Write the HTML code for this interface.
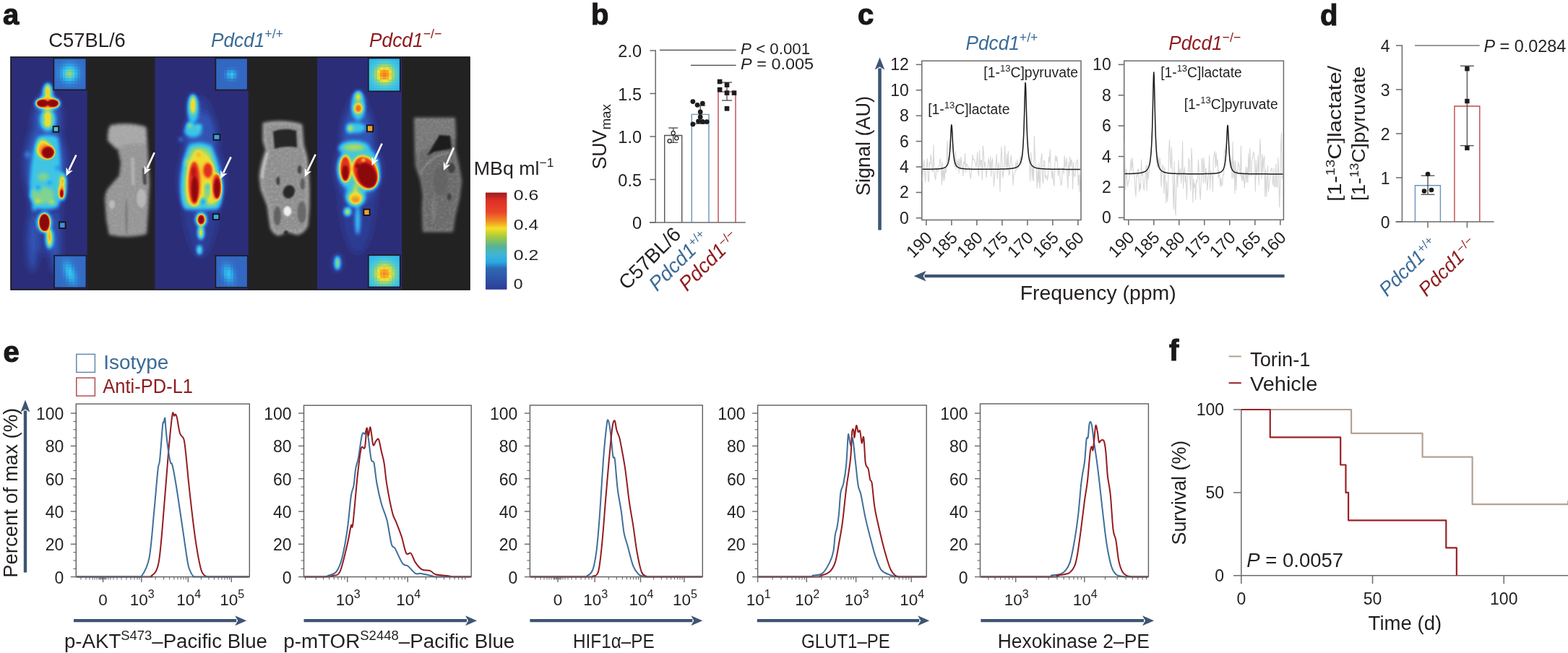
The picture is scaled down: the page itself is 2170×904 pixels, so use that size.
<!DOCTYPE html>
<html><head><meta charset="utf-8"><title>Figure</title>
<style>html,body{margin:0;padding:0;background:#fff;overflow:hidden;width:2170px;height:904px;} svg{display:block;}</style>
</head><body>
<svg width="2170" height="904" viewBox="0 0 2170 904" font-family="'Liberation Sans', Arial, sans-serif">
<rect x="0" y="0" width="2170" height="904" fill="#ffffff"/>
<text x="4" y="34" font-size="40" text-anchor="start" fill="#1a1718" font-weight="bold" stroke="#1a1718" stroke-width="1.1">a</text>
<text x="67.3" y="64.8" font-size="27.5" text-anchor="start" fill="#231f20"  textLength="106.4" lengthAdjust="spacingAndGlyphs">C57BL/6</text>
<text x="292" y="64.5" font-size="28" text-anchor="start" fill="#3b6b97" font-style="italic" textLength="100" lengthAdjust="spacingAndGlyphs">Pdcd1<tspan font-size="19" dy="-12" font-style="normal">+/+</tspan></text>
<text x="511" y="64.5" font-size="28" text-anchor="start" fill="#8e1a1d" font-style="italic" textLength="100.5" lengthAdjust="spacingAndGlyphs">Pdcd1<tspan font-size="19" dy="-12" font-style="normal">−/−</tspan></text>
<defs>
<filter id="bl3" x="-20%" y="-20%" width="140%" height="140%"><feGaussianBlur stdDeviation="2.6"/></filter>
<filter id="bl2" x="-20%" y="-20%" width="140%" height="140%"><feGaussianBlur stdDeviation="1.6"/></filter>
<filter id="bl5" x="-30%" y="-30%" width="160%" height="160%"><feGaussianBlur stdDeviation="5"/></filter>
<filter id="blm" x="-20%" y="-20%" width="140%" height="140%"><feGaussianBlur stdDeviation="2.1"/></filter>
<filter id="jet" x="0" y="0" width="100%" height="100%" color-interpolation-filters="sRGB"><feComponentTransfer><feFuncR type="table" tableValues="0.173 0.174 0.175 0.176 0.181 0.188 0.194 0.198 0.200 0.202 0.200 0.192 0.183 0.179 0.193 0.206 0.220 0.267 0.315 0.363 0.426 0.494 0.561 0.654 0.765 0.875 0.944 0.950 0.956 0.960 0.953 0.947 0.941 0.923 0.904 0.886 0.817 0.735 0.663 0.604 0.545"/><feFuncG type="table" tableValues="0.180 0.200 0.220 0.239 0.271 0.305 0.339 0.379 0.422 0.464 0.510 0.559 0.608 0.654 0.690 0.725 0.761 0.774 0.788 0.801 0.814 0.826 0.838 0.853 0.869 0.885 0.866 0.795 0.724 0.652 0.578 0.505 0.431 0.346 0.260 0.174 0.131 0.098 0.072 0.056 0.039"/><feFuncB type="table" tableValues="0.471 0.507 0.544 0.581 0.623 0.665 0.708 0.744 0.775 0.805 0.832 0.854 0.876 0.897 0.909 0.921 0.933 0.868 0.803 0.738 0.662 0.582 0.502 0.419 0.333 0.248 0.191 0.179 0.167 0.156 0.150 0.143 0.137 0.134 0.130 0.126 0.110 0.090 0.073 0.060 0.047"/></feComponentTransfer></filter>
<filter id="bl1" x="-20%" y="-20%" width="140%" height="140%"><feGaussianBlur stdDeviation="0.9"/></filter>
<clipPath id="cp1"><rect x="15" y="79" width="105.5" height="322"/></clipPath>
<clipPath id="cm1"><rect x="120.5" y="79" width="94" height="322"/></clipPath>
<clipPath id="cp2"><rect x="214.5" y="79" width="129.1" height="322"/></clipPath>
<clipPath id="cm2"><rect x="343.6" y="79" width="95.4" height="322"/></clipPath>
<clipPath id="cp3"><rect x="439" y="79" width="117" height="322"/></clipPath>
<clipPath id="cm3"><rect x="556" y="79" width="94" height="322"/></clipPath>
<linearGradient id="cbar" x1="0" y1="0" x2="0" y2="1">
<stop offset="0" stop-color="#9b1b1e"/><stop offset="0.08" stop-color="#df2f27"/><stop offset="0.2" stop-color="#e8452a"/>
<stop offset="0.29" stop-color="#f08a25"/><stop offset="0.37" stop-color="#f6e024"/><stop offset="0.45" stop-color="#a9cb3b"/>
<stop offset="0.55" stop-color="#5ab48f"/><stop offset="0.64" stop-color="#3fb5d6"/><stop offset="0.72" stop-color="#2aa8e3"/>
<stop offset="0.78" stop-color="#2f69b3"/><stop offset="1" stop-color="#2e3d99"/>
</linearGradient>
<filter id="tex" x="0" y="0" width="100%" height="100%"><feTurbulence type="fractalNoise" baseFrequency="0.28" numOctaves="2" seed="5" result="n"/><feColorMatrix in="n" type="matrix" values="0 0 0 0 1  0 0 0 0 1  0 0 0 0 1  2.2 0 0 0 -0.9" result="c"/><feComposite in="c" in2="SourceGraphic" operator="in"/></filter>
<clipPath id="mb1"><path d="M151,172 Q176,166 203,170 L205,210 L205,300 Q205,322 200,328 L152,328 Q146,322 147,300 L146,262 Q148,244 164,232 L166,222 Q154,205 151,172 Z"/></clipPath>
<clipPath id="mb2"><path d="M366,172 Q394,162 420,172 L425,215 Q429,250 426,290 L424,318 Q415,326 405,322 L395,324 Q380,326 370,318 L364,290 Q360,250 363,215 Z"/></clipPath>
<clipPath id="mb3"><path d="M577,165 Q605,160 632,167 L633,200 Q640,230 636,260 L632,300 L627,320 L590,322 L587,290 Q580,260 578,230 Q572,200 577,165 Z"/></clipPath>
</defs>
<rect x="15" y="79" width="635" height="322" fill="#232223" stroke="none" stroke-width="1.3" />
<rect x="15" y="79" width="105.5" height="322" fill="#2c2e78" stroke="none" stroke-width="1.3" />
<rect x="214.5" y="79" width="129.1" height="322" fill="#2c2e78" stroke="none" stroke-width="1.3" />
<rect x="439" y="79" width="117" height="322" fill="#2c2e78" stroke="none" stroke-width="1.3" />
<g clip-path="url(#cp1)"><g filter="url(#jet)"><rect x="15" y="79" width="105.5" height="322" fill="#000"/><g filter="url(#bl5)">
<ellipse cx="63" cy="240" rx="26" ry="115" fill="#1a1a1a" opacity="0.7"/>
<ellipse cx="45" cy="335" rx="8" ry="42" fill="#292929" opacity="0.9"/>
<ellipse cx="77" cy="338" rx="8" ry="42" fill="#292929" opacity="0.9"/>
<ellipse cx="63" cy="230" rx="30" ry="60" fill="#292929" opacity="0.9"/>
<ellipse cx="66" cy="165" rx="20" ry="35" fill="#292929" opacity="0.9"/>
</g><g filter="url(#bl3)">
<ellipse cx="66" cy="132" rx="8" ry="17" fill="#6b6b6b" opacity="1"/>
<ellipse cx="66" cy="166" rx="11" ry="16" fill="#6b6b6b" opacity="1"/>
<path d="M52,190 Q66,184 80,190 Q84,215 84,245 Q85,275 80,287 Q63,292 46,287 Q40,270 42,245 Q44,212 52,190 Z" fill="#6b6b6b"/>
<ellipse cx="86" cy="258" rx="6" ry="20" fill="#6b6b6b" opacity="1"/>
<ellipse cx="61.3" cy="307.7" rx="10" ry="14" fill="#6b6b6b" opacity="1"/>
<ellipse cx="68.5" cy="330" rx="5" ry="15" fill="#6b6b6b" opacity="1"/>
<ellipse cx="47.4" cy="288.4" rx="3.2" ry="3.2" fill="#6b6b6b" opacity="1"/>
<ellipse cx="38" cy="214" rx="4" ry="4" fill="#454545" opacity="1"/>
<ellipse cx="58" cy="270" rx="17" ry="12" fill="#878787" opacity="1"/>
<ellipse cx="52" cy="279" rx="4" ry="3" fill="#a6a6a6" opacity="1"/>
<ellipse cx="72" cy="280" rx="3.5" ry="3" fill="#a6a6a6" opacity="1"/>
<ellipse cx="60" cy="245" rx="8" ry="6" fill="#878787" opacity="1"/>
<ellipse cx="52.9" cy="260.5" rx="3.5" ry="3.5" fill="#333333" opacity="1"/>
<ellipse cx="68.3" cy="252.7" rx="3" ry="3" fill="#3d3d3d" opacity="1"/>
<ellipse cx="79.2" cy="232.6" rx="3" ry="3" fill="#333333" opacity="1"/>
<ellipse cx="66" cy="124" rx="4" ry="9" fill="#adadad" opacity="1"/>
<ellipse cx="66" cy="130" rx="2.2" ry="5" fill="#c2c2c2" opacity="1"/>
<ellipse cx="66" cy="165" rx="8" ry="12" fill="#878787" opacity="1"/>
<ellipse cx="66" cy="160" rx="4.5" ry="6" fill="#adadad" opacity="1"/>
<ellipse cx="66" cy="171" rx="5" ry="5" fill="#adadad" opacity="1"/>
<ellipse cx="59" cy="205" rx="9" ry="12" fill="#a6a6a6" opacity="1"/>
<ellipse cx="63" cy="209" rx="10" ry="10" fill="#c2c2c2" opacity="1"/>
<ellipse cx="86.5" cy="258" rx="3.8" ry="17" fill="#a6a6a6" opacity="1"/>
<ellipse cx="85.5" cy="266" rx="3" ry="9" fill="#dedede" opacity="1"/>
<ellipse cx="88" cy="250" rx="2" ry="4" fill="#dedede" opacity="1"/>
<ellipse cx="61.5" cy="308" rx="9" ry="13.5" fill="#a6a6a6" opacity="1"/>
<ellipse cx="68.5" cy="330" rx="4" ry="12" fill="#b8b8b8" opacity="1"/>
<ellipse cx="67.5" cy="325" rx="2.6" ry="7" fill="#cccccc" opacity="1"/>
<ellipse cx="66" cy="143" rx="17" ry="8" fill="#c2c2c2" opacity="1"/>
</g><g filter="url(#bl1)">
<ellipse cx="66.4" cy="211" rx="9.5" ry="9" fill="#dedede" opacity="1"/>
<ellipse cx="58.5" cy="143" rx="8" ry="5.5" fill="#ffffff" opacity="1"/>
<ellipse cx="73.5" cy="143" rx="8" ry="5.5" fill="#ffffff" opacity="1"/>
<ellipse cx="66.4" cy="211.5" rx="7.8" ry="7.5" fill="#ffffff" opacity="1"/>
<ellipse cx="85.4" cy="268.2" rx="2.4" ry="6" fill="#ffffff" opacity="1"/>
<ellipse cx="61.5" cy="308" rx="7.5" ry="12.3" fill="#ffffff" opacity="1"/>
</g>
</g></g>
<g clip-path="url(#cm1)"><g filter="url(#blm)">
<path d="M153,173 Q177,168 201,175 Q204,178 203,181 L205,215 L207,255 L205,294 L203,324 Q176,331 151,325 L147,304 L145,275 Q146,264 151,259 L165,243 L167,225 L163,207 L149,195 Q148,180 153,173 Z" fill="#969696"/>
<path d="M151,176 Q177,169 201,177 L203,200 Q180,196 160,206 L150,195 Z" fill="#a8a8a8" opacity="0.9"/>
</g>
<path d="M153,173 Q177,168 201,175 Q204,178 203,181 L205,215 L207,255 L205,294 L203,324 Q176,331 151,325 L147,304 L145,275 Q146,264 151,259 L165,243 L167,225 L163,207 L149,195 Q148,180 153,173 Z" fill="#fff" filter="url(#tex)" opacity="0.10"/>
<g filter="url(#bl1)">
<ellipse cx="195.7" cy="274.5" rx="6.5" ry="13" fill="#b8b8b8" opacity="0.95"/>
<ellipse cx="155" cy="283" rx="4" ry="6" fill="#c0c0c0" opacity="0.9"/>
<path d="M181,218 L186,218 L187,256 L182,256 Z" fill="#b5b5b5" opacity="0.8"/>
<path d="M197,233 L202,232 L203,256 L198,255 Z" fill="#3a3a3a" opacity="0.8"/>
<ellipse cx="175" cy="300" rx="2" ry="25" fill="#6e6e6e" opacity="0.6"/>
</g></g>
<g clip-path="url(#cm2)"><g filter="url(#blm)">
<path d="M365,171 Q391,166 417,173 L419,200 L424,218 L426,240 L427,260 L427,285 L425,312 Q420,322 412,324 L398,320 L385,325 Q377,322 375,314 L371,285 L362,262 L360,244 Q362,225 369,208 L365,195 Z" fill="#8e8e8e" stroke="#c4c4c4" stroke-width="2.2"/>
</g>
<path d="M365,171 Q391,166 417,173 L419,200 L424,218 L426,240 L427,260 L427,285 L425,312 Q420,322 412,324 L398,320 L385,325 Q377,322 375,314 L371,285 L362,262 L360,244 Q362,225 369,208 L365,195 Z" fill="#fff" filter="url(#tex)" opacity="0.16"/>
<g filter="url(#bl1)">
<path d="M378,182 Q394,176 410,181 L411,204 Q394,201 380,206 Z" fill="#262626"/>
<path d="M361,245 Q363,228 369,210 L372,212 Q366,230 365,248 Z" fill="#c8c8c8" opacity="0.8"/>
<ellipse cx="399.8" cy="265.5" rx="8" ry="9.5" fill="#252525" opacity="0.95" transform="rotate(25 399.8 265.5)"/>
<ellipse cx="384.8" cy="250.6" rx="2.5" ry="6" fill="#333" opacity="0.9"/>
<ellipse cx="414.7" cy="234.7" rx="3" ry="6" fill="#3a3a3a" opacity="0.85"/>
<ellipse cx="418.7" cy="254.6" rx="3" ry="8" fill="#505050" opacity="0.8"/>
<ellipse cx="397.8" cy="292.4" rx="5.5" ry="7" fill="#f0f0f0" opacity="1"/>
<ellipse cx="383.8" cy="299" rx="5" ry="13" fill="#5a5a5a" opacity="0.85"/>
<ellipse cx="417.7" cy="294" rx="6" ry="15" fill="#606060" opacity="0.85"/>
<ellipse cx="395.8" cy="322" rx="3" ry="3" fill="#222" opacity="0.9"/>
</g></g>
<g clip-path="url(#cp2)"><g filter="url(#jet)"><rect x="214.5" y="79" width="129.1" height="322" fill="#000"/><g filter="url(#bl5)">
<ellipse cx="278" cy="245" rx="28" ry="112" fill="#1a1a1a" opacity="0.6"/>
<ellipse cx="278" cy="190" rx="22" ry="36" fill="#292929" opacity="0.8"/>
<ellipse cx="279" cy="248" rx="32" ry="48" fill="#292929" opacity="0.85"/>
</g><g filter="url(#bl3)">
<ellipse cx="267" cy="150" rx="8" ry="20" fill="#6b6b6b" opacity="1"/>
<ellipse cx="267" cy="181" rx="12" ry="9" fill="#6b6b6b" opacity="1"/>
<ellipse cx="250" cy="193" rx="3" ry="3" fill="#4c4c4c" opacity="1"/>
<path d="M262,200 Q277,194 293,202 Q305,230 308,262 Q308,288 300,290 L256,290 Q248,282 250,250 Q253,215 262,200 Z" fill="#6b6b6b"/>
<path d="M265,206 Q277,200 290,208 Q301,232 303,262 Q303,283 296,285 L260,285 Q254,278 255,250 Q258,220 265,206 Z" fill="#919191"/>
<path d="M267,214 Q277,208 288,216 Q298,236 300,262 Q300,280 294,281 L263,281 Q258,276 259,250 Q261,226 267,214 Z" fill="#a6a6a6"/>
<ellipse cx="278.4" cy="303.9" rx="8" ry="10" fill="#6b6b6b" opacity="1"/>
<ellipse cx="278" cy="322" rx="4" ry="10" fill="#6b6b6b" opacity="1"/>
<ellipse cx="276" cy="346" rx="3" ry="7" fill="#6b6b6b" opacity="1"/>
<ellipse cx="267" cy="145" rx="4.2" ry="13" fill="#adadad" opacity="1"/>
<ellipse cx="262" cy="173" rx="4" ry="3" fill="#a6a6a6" opacity="1"/>
<ellipse cx="275" cy="175" rx="4" ry="3" fill="#8a8a8a" opacity="1"/>
<ellipse cx="274.5" cy="212.5" rx="3" ry="3" fill="#c2c2c2" opacity="1"/>
<ellipse cx="269" cy="255" rx="8.5" ry="31" fill="#c2c2c2" opacity="1"/>
<ellipse cx="287.7" cy="236" rx="7" ry="11" fill="#c2c2c2" opacity="1"/>
<ellipse cx="300" cy="259" rx="7" ry="18" fill="#c2c2c2" opacity="1"/>
<ellipse cx="287" cy="266" rx="5" ry="9" fill="#878787" opacity="1"/>
<ellipse cx="281" cy="279" rx="4.5" ry="5" fill="#383838" opacity="1"/>
<ellipse cx="287.7" cy="258" rx="4" ry="4" fill="#6b6b6b" opacity="1"/>
<ellipse cx="259" cy="225" rx="4" ry="6" fill="#949494" opacity="1"/>
<ellipse cx="278.4" cy="303.9" rx="6.5" ry="8.5" fill="#a6a6a6" opacity="1"/>
<ellipse cx="278" cy="322" rx="3.6" ry="9" fill="#b8b8b8" opacity="1"/>
<ellipse cx="276" cy="346" rx="2.8" ry="6" fill="#a8a8a8" opacity="1"/>
</g><g filter="url(#bl2)">
<ellipse cx="268.8" cy="253" rx="7.5" ry="29" fill="#dedede" opacity="1"/>
<ellipse cx="287.7" cy="236" rx="6" ry="10" fill="#dedede" opacity="1"/>
<ellipse cx="300.3" cy="258" rx="5.8" ry="17" fill="#dedede" opacity="1"/>
<ellipse cx="269.5" cy="262" rx="4.5" ry="18" fill="#ffffff" opacity="1"/>
<ellipse cx="268" cy="238" rx="3.5" ry="7" fill="#ededed" opacity="1"/>
<ellipse cx="300.5" cy="261" rx="4.3" ry="14" fill="#ffffff" opacity="1"/>
<ellipse cx="278.4" cy="304" rx="5" ry="7" fill="#ffffff" opacity="1"/>
</g></g></g>
<g clip-path="url(#cp3)"><g filter="url(#jet)"><rect x="439" y="79" width="117" height="322" fill="#000"/><g filter="url(#bl5)">
<ellipse cx="495" cy="240" rx="28" ry="112" fill="#1a1a1a" opacity="0.6"/>
<ellipse cx="495" cy="185" rx="22" ry="36" fill="#292929" opacity="0.8"/>
<ellipse cx="496" cy="235" rx="32" ry="44" fill="#292929" opacity="0.85"/>
<ellipse cx="467" cy="364" rx="6" ry="12" fill="#292929" opacity="0.8"/>
</g><g filter="url(#bl3)">
<ellipse cx="495.8" cy="146" rx="9.5" ry="21" fill="#6b6b6b" opacity="1"/>
<ellipse cx="493" cy="177" rx="13" ry="7" fill="#6b6b6b" opacity="1"/>
<ellipse cx="490" cy="205" rx="22" ry="10" fill="#6b6b6b" opacity="1"/>
<ellipse cx="496" cy="234" rx="29" ry="33" fill="#6b6b6b" opacity="1"/>
<ellipse cx="492" cy="272" rx="14" ry="15" fill="#6b6b6b" opacity="1"/>
<ellipse cx="481" cy="293" rx="5" ry="6" fill="#6b6b6b" opacity="1"/>
<ellipse cx="495" cy="305" rx="3.5" ry="20" fill="#6b6b6b" opacity="1"/>
<ellipse cx="467" cy="364" rx="3.5" ry="10" fill="#6b6b6b" opacity="1"/>
<ellipse cx="490" cy="204" rx="15" ry="5" fill="#949494" opacity="1"/>
<ellipse cx="495.8" cy="134" rx="3.6" ry="6" fill="#adadad" opacity="1"/>
<ellipse cx="495.8" cy="150" rx="6.5" ry="7.5" fill="#a6a6a6" opacity="1"/>
<ellipse cx="495.8" cy="150" rx="5" ry="6" fill="#c2c2c2" opacity="1"/>
<ellipse cx="483.9" cy="177.7" rx="4" ry="6" fill="#a6a6a6" opacity="1"/>
<ellipse cx="477.9" cy="233.5" rx="9" ry="19" fill="#a6a6a6" opacity="1"/>
<ellipse cx="506" cy="239" rx="18" ry="25" fill="#a6a6a6" opacity="1" transform="rotate(-22 506 239)"/>
<ellipse cx="492" cy="274" rx="10" ry="9" fill="#a6a6a6" opacity="1"/>
<ellipse cx="492" cy="262" rx="2.5" ry="8" fill="#a6a6a6" opacity="1"/>
<ellipse cx="492" cy="277" rx="7" ry="5" fill="#c2c2c2" opacity="1"/>
<ellipse cx="480.9" cy="293.2" rx="4" ry="5" fill="#b2b2b2" opacity="1"/>
<ellipse cx="467" cy="364" rx="2.8" ry="9" fill="#adadad" opacity="1"/>
</g><g filter="url(#bl2)">
<ellipse cx="495.8" cy="150" rx="3.5" ry="4.5" fill="#cccccc" opacity="1"/>
<ellipse cx="477.9" cy="233.5" rx="7" ry="17" fill="#dedede" opacity="1"/>
<ellipse cx="506" cy="239" rx="16" ry="23" fill="#dedede" opacity="1" transform="rotate(-22 506 239)"/>
<ellipse cx="477.9" cy="240" rx="4.5" ry="11" fill="#ffffff" opacity="1"/>
<ellipse cx="508" cy="243" rx="12.5" ry="18" fill="#ffffff" opacity="1" transform="rotate(-22 508 243)"/>
<ellipse cx="494.8" cy="229.5" rx="3" ry="3" fill="#ffffff" opacity="1"/>
<ellipse cx="502.8" cy="221.6" rx="2.5" ry="2.5" fill="#a6a6a6" opacity="1"/>
</g></g></g>
<g clip-path="url(#cm3)"><g filter="url(#blm)">
<path d="M574,164 L629,164 L630,185 L629,206 L634,228 L638,250 L635,274 L629,299 L626,320 L586,320 L585,290 L586,270 L583,250 L576,230 L575,210 Z" fill="#6a6a6a" stroke="#8e8e8e" stroke-width="1.8"/>
<path d="M575,165 L629,165 L629,190 Q600,195 576,215 Z" fill="#7a7a7a" opacity="0.9"/>
</g>
<path d="M574,164 L629,164 L630,185 L629,206 L634,228 L638,250 L635,274 L629,299 L626,320 L586,320 L585,290 L586,270 L583,250 L576,230 L575,210 Z" fill="#fff" filter="url(#tex)" opacity="0.12"/>
<g filter="url(#bl1)">
<path d="M591,216 L608,187 L623,188 L625,206 L601,210 Z" fill="#1c1c1c"/>
<path d="M582,240 Q595,215 620,212" fill="none" stroke="#9a9a9a" stroke-width="2" opacity="0.7"/>
<ellipse cx="624.7" cy="232.7" rx="5" ry="7" fill="#3a3a3a" opacity="0.85"/>
<ellipse cx="621.7" cy="272.5" rx="3" ry="5" fill="#3a3a3a" opacity="0.85"/>
<ellipse cx="610" cy="250" rx="10" ry="20" fill="#5e5e5e" opacity="0.6"/>
<ellipse cx="600" cy="290" rx="3" ry="18" fill="#8a8a8a" opacity="0.5"/>
</g></g>
<rect x="74.3" y="80.5" width="4.71" height="4.59" fill="#336bc5" shape-rendering="crispEdges"/>
<rect x="74.3" y="84.49" width="4.71" height="4.59" fill="#336cc6" shape-rendering="crispEdges"/>
<rect x="74.3" y="88.48" width="4.71" height="4.59" fill="#336dc7" shape-rendering="crispEdges"/>
<rect x="74.3" y="92.47" width="4.71" height="4.59" fill="#336fc8" shape-rendering="crispEdges"/>
<rect x="74.3" y="96.46" width="4.71" height="4.59" fill="#3371c9" shape-rendering="crispEdges"/>
<rect x="74.3" y="100.45" width="4.71" height="4.59" fill="#3372ca" shape-rendering="crispEdges"/>
<rect x="74.3" y="104.45" width="4.71" height="4.59" fill="#3371c9" shape-rendering="crispEdges"/>
<rect x="74.3" y="108.44" width="4.71" height="4.59" fill="#336fc8" shape-rendering="crispEdges"/>
<rect x="74.3" y="112.43" width="4.71" height="4.59" fill="#336dc6" shape-rendering="crispEdges"/>
<rect x="74.3" y="116.42" width="4.71" height="4.59" fill="#336cc6" shape-rendering="crispEdges"/>
<rect x="74.3" y="120.41" width="4.71" height="4.59" fill="#336bc5" shape-rendering="crispEdges"/>
<rect x="78.41" y="80.5" width="4.71" height="4.59" fill="#336cc6" shape-rendering="crispEdges"/>
<rect x="78.41" y="84.49" width="4.71" height="4.59" fill="#336ec7" shape-rendering="crispEdges"/>
<rect x="78.41" y="88.48" width="4.71" height="4.59" fill="#3373ca" shape-rendering="crispEdges"/>
<rect x="78.41" y="92.47" width="4.71" height="4.59" fill="#3379cf" shape-rendering="crispEdges"/>
<rect x="78.41" y="96.46" width="4.71" height="4.59" fill="#337fd2" shape-rendering="crispEdges"/>
<rect x="78.41" y="100.45" width="4.71" height="4.59" fill="#3381d3" shape-rendering="crispEdges"/>
<rect x="78.41" y="104.45" width="4.71" height="4.59" fill="#337dd2" shape-rendering="crispEdges"/>
<rect x="78.41" y="108.44" width="4.71" height="4.59" fill="#3377ce" shape-rendering="crispEdges"/>
<rect x="78.41" y="112.43" width="4.71" height="4.59" fill="#3371ca" shape-rendering="crispEdges"/>
<rect x="78.41" y="116.42" width="4.71" height="4.59" fill="#336ec7" shape-rendering="crispEdges"/>
<rect x="78.41" y="120.41" width="4.71" height="4.59" fill="#336cc6" shape-rendering="crispEdges"/>
<rect x="82.52" y="80.5" width="4.71" height="4.59" fill="#336ec7" shape-rendering="crispEdges"/>
<rect x="82.52" y="84.49" width="4.71" height="4.59" fill="#3373ca" shape-rendering="crispEdges"/>
<rect x="82.52" y="88.48" width="4.71" height="4.59" fill="#337dd2" shape-rendering="crispEdges"/>
<rect x="82.52" y="92.47" width="4.71" height="4.59" fill="#318ed9" shape-rendering="crispEdges"/>
<rect x="82.52" y="96.46" width="4.71" height="4.59" fill="#2e9de0" shape-rendering="crispEdges"/>
<rect x="82.52" y="100.45" width="4.71" height="4.59" fill="#2da2e3" shape-rendering="crispEdges"/>
<rect x="82.52" y="104.45" width="4.71" height="4.59" fill="#2e9adf" shape-rendering="crispEdges"/>
<rect x="82.52" y="108.44" width="4.71" height="4.59" fill="#318ad7" shape-rendering="crispEdges"/>
<rect x="82.52" y="112.43" width="4.71" height="4.59" fill="#337ad0" shape-rendering="crispEdges"/>
<rect x="82.52" y="116.42" width="4.71" height="4.59" fill="#3371c9" shape-rendering="crispEdges"/>
<rect x="82.52" y="120.41" width="4.71" height="4.59" fill="#336dc6" shape-rendering="crispEdges"/>
<rect x="86.63" y="80.5" width="4.71" height="4.59" fill="#3370c8" shape-rendering="crispEdges"/>
<rect x="86.63" y="84.49" width="4.71" height="4.59" fill="#3379cf" shape-rendering="crispEdges"/>
<rect x="86.63" y="88.48" width="4.71" height="4.59" fill="#308ed9" shape-rendering="crispEdges"/>
<rect x="86.63" y="92.47" width="4.71" height="4.59" fill="#2faae5" shape-rendering="crispEdges"/>
<rect x="86.63" y="96.46" width="4.71" height="4.59" fill="#37c0ed" shape-rendering="crispEdges"/>
<rect x="86.63" y="100.45" width="4.71" height="4.59" fill="#41c4e1" shape-rendering="crispEdges"/>
<rect x="86.63" y="104.45" width="4.71" height="4.59" fill="#36bdec" shape-rendering="crispEdges"/>
<rect x="86.63" y="108.44" width="4.71" height="4.59" fill="#2da6e4" shape-rendering="crispEdges"/>
<rect x="86.63" y="112.43" width="4.71" height="4.59" fill="#3188d7" shape-rendering="crispEdges"/>
<rect x="86.63" y="116.42" width="4.71" height="4.59" fill="#3376cd" shape-rendering="crispEdges"/>
<rect x="86.63" y="120.41" width="4.71" height="4.59" fill="#336fc8" shape-rendering="crispEdges"/>
<rect x="90.74" y="80.5" width="4.71" height="4.59" fill="#3372ca" shape-rendering="crispEdges"/>
<rect x="90.74" y="84.49" width="4.71" height="4.59" fill="#337fd3" shape-rendering="crispEdges"/>
<rect x="90.74" y="88.48" width="4.71" height="4.59" fill="#2e9de0" shape-rendering="crispEdges"/>
<rect x="90.74" y="92.47" width="4.71" height="4.59" fill="#36beec" shape-rendering="crispEdges"/>
<rect x="90.74" y="96.46" width="4.71" height="4.59" fill="#60cdb7" shape-rendering="crispEdges"/>
<rect x="90.74" y="100.45" width="4.71" height="4.59" fill="#80d391" shape-rendering="crispEdges"/>
<rect x="90.74" y="104.45" width="4.71" height="4.59" fill="#61cdb6" shape-rendering="crispEdges"/>
<rect x="90.74" y="108.44" width="4.71" height="4.59" fill="#35baeb" shape-rendering="crispEdges"/>
<rect x="90.74" y="112.43" width="4.71" height="4.59" fill="#2f95dd" shape-rendering="crispEdges"/>
<rect x="90.74" y="116.42" width="4.71" height="4.59" fill="#337bd0" shape-rendering="crispEdges"/>
<rect x="90.74" y="120.41" width="4.71" height="4.59" fill="#3370c9" shape-rendering="crispEdges"/>
<rect x="94.85" y="80.5" width="4.71" height="4.59" fill="#3372ca" shape-rendering="crispEdges"/>
<rect x="94.85" y="84.49" width="4.71" height="4.59" fill="#3381d3" shape-rendering="crispEdges"/>
<rect x="94.85" y="88.48" width="4.71" height="4.59" fill="#2da1e2" shape-rendering="crispEdges"/>
<rect x="94.85" y="92.47" width="4.71" height="4.59" fill="#3bc2e9" shape-rendering="crispEdges"/>
<rect x="94.85" y="96.46" width="4.71" height="4.59" fill="#71d0a3" shape-rendering="crispEdges"/>
<rect x="94.85" y="100.45" width="4.71" height="4.59" fill="#99d775" shape-rendering="crispEdges"/>
<rect x="94.85" y="104.45" width="4.71" height="4.59" fill="#75d19e" shape-rendering="crispEdges"/>
<rect x="94.85" y="108.44" width="4.71" height="4.59" fill="#37c0ed" shape-rendering="crispEdges"/>
<rect x="94.85" y="112.43" width="4.71" height="4.59" fill="#2f99de" shape-rendering="crispEdges"/>
<rect x="94.85" y="116.42" width="4.71" height="4.59" fill="#337cd1" shape-rendering="crispEdges"/>
<rect x="94.85" y="120.41" width="4.71" height="4.59" fill="#3370c9" shape-rendering="crispEdges"/>
<rect x="98.95" y="80.5" width="4.71" height="4.59" fill="#3371c9" shape-rendering="crispEdges"/>
<rect x="98.95" y="84.49" width="4.71" height="4.59" fill="#337dd2" shape-rendering="crispEdges"/>
<rect x="98.95" y="88.48" width="4.71" height="4.59" fill="#2f97dd" shape-rendering="crispEdges"/>
<rect x="98.95" y="92.47" width="4.71" height="4.59" fill="#33b7ea" shape-rendering="crispEdges"/>
<rect x="98.95" y="96.46" width="4.71" height="4.59" fill="#4fc8ce" shape-rendering="crispEdges"/>
<rect x="98.95" y="100.45" width="4.71" height="4.59" fill="#61cdb5" shape-rendering="crispEdges"/>
<rect x="98.95" y="104.45" width="4.71" height="4.59" fill="#4dc8d0" shape-rendering="crispEdges"/>
<rect x="98.95" y="108.44" width="4.71" height="4.59" fill="#32b2e8" shape-rendering="crispEdges"/>
<rect x="98.95" y="112.43" width="4.71" height="4.59" fill="#3090da" shape-rendering="crispEdges"/>
<rect x="98.95" y="116.42" width="4.71" height="4.59" fill="#3379cf" shape-rendering="crispEdges"/>
<rect x="98.95" y="120.41" width="4.71" height="4.59" fill="#336fc8" shape-rendering="crispEdges"/>
<rect x="103.06" y="80.5" width="4.71" height="4.59" fill="#336fc8" shape-rendering="crispEdges"/>
<rect x="103.06" y="84.49" width="4.71" height="4.59" fill="#3376cd" shape-rendering="crispEdges"/>
<rect x="103.06" y="88.48" width="4.71" height="4.59" fill="#3286d6" shape-rendering="crispEdges"/>
<rect x="103.06" y="92.47" width="4.71" height="4.59" fill="#2e9ee1" shape-rendering="crispEdges"/>
<rect x="103.06" y="96.46" width="4.71" height="4.59" fill="#31b0e8" shape-rendering="crispEdges"/>
<rect x="103.06" y="100.45" width="4.71" height="4.59" fill="#33b7ea" shape-rendering="crispEdges"/>
<rect x="103.06" y="104.45" width="4.71" height="4.59" fill="#30aee7" shape-rendering="crispEdges"/>
<rect x="103.06" y="108.44" width="4.71" height="4.59" fill="#2f99de" shape-rendering="crispEdges"/>
<rect x="103.06" y="112.43" width="4.71" height="4.59" fill="#3382d4" shape-rendering="crispEdges"/>
<rect x="103.06" y="116.42" width="4.71" height="4.59" fill="#3374cb" shape-rendering="crispEdges"/>
<rect x="103.06" y="120.41" width="4.71" height="4.59" fill="#336ec7" shape-rendering="crispEdges"/>
<rect x="107.17" y="80.5" width="4.71" height="4.59" fill="#336dc6" shape-rendering="crispEdges"/>
<rect x="107.17" y="84.49" width="4.71" height="4.59" fill="#3370c9" shape-rendering="crispEdges"/>
<rect x="107.17" y="88.48" width="4.71" height="4.59" fill="#3378ce" shape-rendering="crispEdges"/>
<rect x="107.17" y="92.47" width="4.71" height="4.59" fill="#3283d4" shape-rendering="crispEdges"/>
<rect x="107.17" y="96.46" width="4.71" height="4.59" fill="#318ed9" shape-rendering="crispEdges"/>
<rect x="107.17" y="100.45" width="4.71" height="4.59" fill="#3091db" shape-rendering="crispEdges"/>
<rect x="107.17" y="104.45" width="4.71" height="4.59" fill="#318cd8" shape-rendering="crispEdges"/>
<rect x="107.17" y="108.44" width="4.71" height="4.59" fill="#3380d3" shape-rendering="crispEdges"/>
<rect x="107.17" y="112.43" width="4.71" height="4.59" fill="#3376cd" shape-rendering="crispEdges"/>
<rect x="107.17" y="116.42" width="4.71" height="4.59" fill="#336fc8" shape-rendering="crispEdges"/>
<rect x="107.17" y="120.41" width="4.71" height="4.59" fill="#336cc6" shape-rendering="crispEdges"/>
<rect x="111.28" y="80.5" width="4.71" height="4.59" fill="#336cc5" shape-rendering="crispEdges"/>
<rect x="111.28" y="84.49" width="4.71" height="4.59" fill="#336dc6" shape-rendering="crispEdges"/>
<rect x="111.28" y="88.48" width="4.71" height="4.59" fill="#3370c8" shape-rendering="crispEdges"/>
<rect x="111.28" y="92.47" width="4.71" height="4.59" fill="#3374cb" shape-rendering="crispEdges"/>
<rect x="111.28" y="96.46" width="4.71" height="4.59" fill="#3377ce" shape-rendering="crispEdges"/>
<rect x="111.28" y="100.45" width="4.71" height="4.59" fill="#3378cf" shape-rendering="crispEdges"/>
<rect x="111.28" y="104.45" width="4.71" height="4.59" fill="#3376cd" shape-rendering="crispEdges"/>
<rect x="111.28" y="108.44" width="4.71" height="4.59" fill="#3373ca" shape-rendering="crispEdges"/>
<rect x="111.28" y="112.43" width="4.71" height="4.59" fill="#336fc8" shape-rendering="crispEdges"/>
<rect x="111.28" y="116.42" width="4.71" height="4.59" fill="#336dc6" shape-rendering="crispEdges"/>
<rect x="111.28" y="120.41" width="4.71" height="4.59" fill="#336cc5" shape-rendering="crispEdges"/>
<rect x="115.39" y="80.5" width="4.71" height="4.59" fill="#336bc5" shape-rendering="crispEdges"/>
<rect x="115.39" y="84.49" width="4.71" height="4.59" fill="#336cc5" shape-rendering="crispEdges"/>
<rect x="115.39" y="88.48" width="4.71" height="4.59" fill="#336cc6" shape-rendering="crispEdges"/>
<rect x="115.39" y="92.47" width="4.71" height="4.59" fill="#336dc7" shape-rendering="crispEdges"/>
<rect x="115.39" y="96.46" width="4.71" height="4.59" fill="#336ec7" shape-rendering="crispEdges"/>
<rect x="115.39" y="100.45" width="4.71" height="4.59" fill="#336fc8" shape-rendering="crispEdges"/>
<rect x="115.39" y="104.45" width="4.71" height="4.59" fill="#336ec7" shape-rendering="crispEdges"/>
<rect x="115.39" y="108.44" width="4.71" height="4.59" fill="#336dc7" shape-rendering="crispEdges"/>
<rect x="115.39" y="112.43" width="4.71" height="4.59" fill="#336cc6" shape-rendering="crispEdges"/>
<rect x="115.39" y="116.42" width="4.71" height="4.59" fill="#336bc5" shape-rendering="crispEdges"/>
<rect x="115.39" y="120.41" width="4.71" height="4.59" fill="#336bc5" shape-rendering="crispEdges"/>
<rect x="74.3" y="80.5" width="45.2" height="43.9" fill="none" stroke="#1d1d2a" stroke-width="1.8" />
<rect x="75.1" y="353.8" width="4.64" height="4.66" fill="#336bc5" shape-rendering="crispEdges"/>
<rect x="75.1" y="357.86" width="4.64" height="4.66" fill="#336bc5" shape-rendering="crispEdges"/>
<rect x="75.1" y="361.93" width="4.64" height="4.66" fill="#336bc5" shape-rendering="crispEdges"/>
<rect x="75.1" y="365.99" width="4.64" height="4.66" fill="#336bc5" shape-rendering="crispEdges"/>
<rect x="75.1" y="370.05" width="4.64" height="4.66" fill="#336bc5" shape-rendering="crispEdges"/>
<rect x="75.1" y="374.12" width="4.64" height="4.66" fill="#336bc5" shape-rendering="crispEdges"/>
<rect x="75.1" y="378.18" width="4.64" height="4.66" fill="#336bc5" shape-rendering="crispEdges"/>
<rect x="75.1" y="382.25" width="4.64" height="4.66" fill="#336bc5" shape-rendering="crispEdges"/>
<rect x="75.1" y="386.31" width="4.64" height="4.66" fill="#336bc5" shape-rendering="crispEdges"/>
<rect x="75.1" y="390.37" width="4.64" height="4.66" fill="#336bc5" shape-rendering="crispEdges"/>
<rect x="75.1" y="394.44" width="4.64" height="4.66" fill="#336bc5" shape-rendering="crispEdges"/>
<rect x="79.14" y="353.8" width="4.64" height="4.66" fill="#336dc6" shape-rendering="crispEdges"/>
<rect x="79.14" y="357.86" width="4.64" height="4.66" fill="#336dc7" shape-rendering="crispEdges"/>
<rect x="79.14" y="361.93" width="4.64" height="4.66" fill="#336ec7" shape-rendering="crispEdges"/>
<rect x="79.14" y="365.99" width="4.64" height="4.66" fill="#336ec7" shape-rendering="crispEdges"/>
<rect x="79.14" y="370.05" width="4.64" height="4.66" fill="#336dc6" shape-rendering="crispEdges"/>
<rect x="79.14" y="374.12" width="4.64" height="4.66" fill="#336cc6" shape-rendering="crispEdges"/>
<rect x="79.14" y="378.18" width="4.64" height="4.66" fill="#336cc5" shape-rendering="crispEdges"/>
<rect x="79.14" y="382.25" width="4.64" height="4.66" fill="#336bc5" shape-rendering="crispEdges"/>
<rect x="79.14" y="386.31" width="4.64" height="4.66" fill="#336bc5" shape-rendering="crispEdges"/>
<rect x="79.14" y="390.37" width="4.64" height="4.66" fill="#336bc5" shape-rendering="crispEdges"/>
<rect x="79.14" y="394.44" width="4.64" height="4.66" fill="#336bc5" shape-rendering="crispEdges"/>
<rect x="83.17" y="353.8" width="4.64" height="4.66" fill="#3370c9" shape-rendering="crispEdges"/>
<rect x="83.17" y="357.86" width="4.64" height="4.66" fill="#3374cb" shape-rendering="crispEdges"/>
<rect x="83.17" y="361.93" width="4.64" height="4.66" fill="#3377cd" shape-rendering="crispEdges"/>
<rect x="83.17" y="365.99" width="4.64" height="4.66" fill="#3378ce" shape-rendering="crispEdges"/>
<rect x="83.17" y="370.05" width="4.64" height="4.66" fill="#3377cd" shape-rendering="crispEdges"/>
<rect x="83.17" y="374.12" width="4.64" height="4.66" fill="#3374cb" shape-rendering="crispEdges"/>
<rect x="83.17" y="378.18" width="4.64" height="4.66" fill="#3370c9" shape-rendering="crispEdges"/>
<rect x="83.17" y="382.25" width="4.64" height="4.66" fill="#336ec7" shape-rendering="crispEdges"/>
<rect x="83.17" y="386.31" width="4.64" height="4.66" fill="#336cc6" shape-rendering="crispEdges"/>
<rect x="83.17" y="390.37" width="4.64" height="4.66" fill="#336bc5" shape-rendering="crispEdges"/>
<rect x="83.17" y="394.44" width="4.64" height="4.66" fill="#336bc5" shape-rendering="crispEdges"/>
<rect x="87.21" y="353.8" width="4.64" height="4.66" fill="#3374cb" shape-rendering="crispEdges"/>
<rect x="87.21" y="357.86" width="4.64" height="4.66" fill="#337cd1" shape-rendering="crispEdges"/>
<rect x="87.21" y="361.93" width="4.64" height="4.66" fill="#3288d7" shape-rendering="crispEdges"/>
<rect x="87.21" y="365.99" width="4.64" height="4.66" fill="#3091db" shape-rendering="crispEdges"/>
<rect x="87.21" y="370.05" width="4.64" height="4.66" fill="#2f94dc" shape-rendering="crispEdges"/>
<rect x="87.21" y="374.12" width="4.64" height="4.66" fill="#308eda" shape-rendering="crispEdges"/>
<rect x="87.21" y="378.18" width="4.64" height="4.66" fill="#3284d5" shape-rendering="crispEdges"/>
<rect x="87.21" y="382.25" width="4.64" height="4.66" fill="#3379cf" shape-rendering="crispEdges"/>
<rect x="87.21" y="386.31" width="4.64" height="4.66" fill="#3372ca" shape-rendering="crispEdges"/>
<rect x="87.21" y="390.37" width="4.64" height="4.66" fill="#336ec7" shape-rendering="crispEdges"/>
<rect x="87.21" y="394.44" width="4.64" height="4.66" fill="#336cc6" shape-rendering="crispEdges"/>
<rect x="91.25" y="353.8" width="4.64" height="4.66" fill="#3373cb" shape-rendering="crispEdges"/>
<rect x="91.25" y="357.86" width="4.64" height="4.66" fill="#337ed2" shape-rendering="crispEdges"/>
<rect x="91.25" y="361.93" width="4.64" height="4.66" fill="#3091db" shape-rendering="crispEdges"/>
<rect x="91.25" y="365.99" width="4.64" height="4.66" fill="#2da6e4" shape-rendering="crispEdges"/>
<rect x="91.25" y="370.05" width="4.64" height="4.66" fill="#32b2e8" shape-rendering="crispEdges"/>
<rect x="91.25" y="374.12" width="4.64" height="4.66" fill="#32b4e9" shape-rendering="crispEdges"/>
<rect x="91.25" y="378.18" width="4.64" height="4.66" fill="#2fabe6" shape-rendering="crispEdges"/>
<rect x="91.25" y="382.25" width="4.64" height="4.66" fill="#2f99de" shape-rendering="crispEdges"/>
<rect x="91.25" y="386.31" width="4.64" height="4.66" fill="#3284d5" shape-rendering="crispEdges"/>
<rect x="91.25" y="390.37" width="4.64" height="4.66" fill="#3376cd" shape-rendering="crispEdges"/>
<rect x="91.25" y="394.44" width="4.64" height="4.66" fill="#336fc8" shape-rendering="crispEdges"/>
<rect x="95.28" y="353.8" width="4.64" height="4.66" fill="#336fc8" shape-rendering="crispEdges"/>
<rect x="95.28" y="357.86" width="4.64" height="4.66" fill="#3377cd" shape-rendering="crispEdges"/>
<rect x="95.28" y="361.93" width="4.64" height="4.66" fill="#3286d6" shape-rendering="crispEdges"/>
<rect x="95.28" y="365.99" width="4.64" height="4.66" fill="#2e9ee1" shape-rendering="crispEdges"/>
<rect x="95.28" y="370.05" width="4.64" height="4.66" fill="#32b3e8" shape-rendering="crispEdges"/>
<rect x="95.28" y="374.12" width="4.64" height="4.66" fill="#37c0ed" shape-rendering="crispEdges"/>
<rect x="95.28" y="378.18" width="4.64" height="4.66" fill="#37c0ed" shape-rendering="crispEdges"/>
<rect x="95.28" y="382.25" width="4.64" height="4.66" fill="#32b3e9" shape-rendering="crispEdges"/>
<rect x="95.28" y="386.31" width="4.64" height="4.66" fill="#2d9fe1" shape-rendering="crispEdges"/>
<rect x="95.28" y="390.37" width="4.64" height="4.66" fill="#3287d6" shape-rendering="crispEdges"/>
<rect x="95.28" y="394.44" width="4.64" height="4.66" fill="#3377ce" shape-rendering="crispEdges"/>
<rect x="99.32" y="353.8" width="4.64" height="4.66" fill="#336cc6" shape-rendering="crispEdges"/>
<rect x="99.32" y="357.86" width="4.64" height="4.66" fill="#336fc8" shape-rendering="crispEdges"/>
<rect x="99.32" y="361.93" width="4.64" height="4.66" fill="#3375cc" shape-rendering="crispEdges"/>
<rect x="99.32" y="365.99" width="4.64" height="4.66" fill="#3382d4" shape-rendering="crispEdges"/>
<rect x="99.32" y="370.05" width="4.64" height="4.66" fill="#2f95dc" shape-rendering="crispEdges"/>
<rect x="99.32" y="374.12" width="4.64" height="4.66" fill="#2ea8e5" shape-rendering="crispEdges"/>
<rect x="99.32" y="378.18" width="4.64" height="4.66" fill="#31b0e8" shape-rendering="crispEdges"/>
<rect x="99.32" y="382.25" width="4.64" height="4.66" fill="#30afe7" shape-rendering="crispEdges"/>
<rect x="99.32" y="386.31" width="4.64" height="4.66" fill="#2da4e3" shape-rendering="crispEdges"/>
<rect x="99.32" y="390.37" width="4.64" height="4.66" fill="#308fda" shape-rendering="crispEdges"/>
<rect x="99.32" y="394.44" width="4.64" height="4.66" fill="#337dd2" shape-rendering="crispEdges"/>
<rect x="103.35" y="353.8" width="4.64" height="4.66" fill="#336bc5" shape-rendering="crispEdges"/>
<rect x="103.35" y="357.86" width="4.64" height="4.66" fill="#336cc6" shape-rendering="crispEdges"/>
<rect x="103.35" y="361.93" width="4.64" height="4.66" fill="#336dc7" shape-rendering="crispEdges"/>
<rect x="103.35" y="365.99" width="4.64" height="4.66" fill="#3371c9" shape-rendering="crispEdges"/>
<rect x="103.35" y="370.05" width="4.64" height="4.66" fill="#3377ce" shape-rendering="crispEdges"/>
<rect x="103.35" y="374.12" width="4.64" height="4.66" fill="#3380d3" shape-rendering="crispEdges"/>
<rect x="103.35" y="378.18" width="4.64" height="4.66" fill="#3189d7" shape-rendering="crispEdges"/>
<rect x="103.35" y="382.25" width="4.64" height="4.66" fill="#308eda" shape-rendering="crispEdges"/>
<rect x="103.35" y="386.31" width="4.64" height="4.66" fill="#318cd9" shape-rendering="crispEdges"/>
<rect x="103.35" y="390.37" width="4.64" height="4.66" fill="#3284d5" shape-rendering="crispEdges"/>
<rect x="103.35" y="394.44" width="4.64" height="4.66" fill="#337ad0" shape-rendering="crispEdges"/>
<rect x="107.39" y="353.8" width="4.64" height="4.66" fill="#336bc5" shape-rendering="crispEdges"/>
<rect x="107.39" y="357.86" width="4.64" height="4.66" fill="#336bc5" shape-rendering="crispEdges"/>
<rect x="107.39" y="361.93" width="4.64" height="4.66" fill="#336bc5" shape-rendering="crispEdges"/>
<rect x="107.39" y="365.99" width="4.64" height="4.66" fill="#336cc6" shape-rendering="crispEdges"/>
<rect x="107.39" y="370.05" width="4.64" height="4.66" fill="#336dc6" shape-rendering="crispEdges"/>
<rect x="107.39" y="374.12" width="4.64" height="4.66" fill="#336fc8" shape-rendering="crispEdges"/>
<rect x="107.39" y="378.18" width="4.64" height="4.66" fill="#3372ca" shape-rendering="crispEdges"/>
<rect x="107.39" y="382.25" width="4.64" height="4.66" fill="#3374cc" shape-rendering="crispEdges"/>
<rect x="107.39" y="386.31" width="4.64" height="4.66" fill="#3375cc" shape-rendering="crispEdges"/>
<rect x="107.39" y="390.37" width="4.64" height="4.66" fill="#3375cc" shape-rendering="crispEdges"/>
<rect x="107.39" y="394.44" width="4.64" height="4.66" fill="#3372ca" shape-rendering="crispEdges"/>
<rect x="111.43" y="353.8" width="4.64" height="4.66" fill="#336bc5" shape-rendering="crispEdges"/>
<rect x="111.43" y="357.86" width="4.64" height="4.66" fill="#336bc5" shape-rendering="crispEdges"/>
<rect x="111.43" y="361.93" width="4.64" height="4.66" fill="#336bc5" shape-rendering="crispEdges"/>
<rect x="111.43" y="365.99" width="4.64" height="4.66" fill="#336bc5" shape-rendering="crispEdges"/>
<rect x="111.43" y="370.05" width="4.64" height="4.66" fill="#336bc5" shape-rendering="crispEdges"/>
<rect x="111.43" y="374.12" width="4.64" height="4.66" fill="#336bc5" shape-rendering="crispEdges"/>
<rect x="111.43" y="378.18" width="4.64" height="4.66" fill="#336cc6" shape-rendering="crispEdges"/>
<rect x="111.43" y="382.25" width="4.64" height="4.66" fill="#336cc6" shape-rendering="crispEdges"/>
<rect x="111.43" y="386.31" width="4.64" height="4.66" fill="#336dc6" shape-rendering="crispEdges"/>
<rect x="111.43" y="390.37" width="4.64" height="4.66" fill="#336dc6" shape-rendering="crispEdges"/>
<rect x="111.43" y="394.44" width="4.64" height="4.66" fill="#336dc6" shape-rendering="crispEdges"/>
<rect x="115.46" y="353.8" width="4.64" height="4.66" fill="#336bc5" shape-rendering="crispEdges"/>
<rect x="115.46" y="357.86" width="4.64" height="4.66" fill="#336bc5" shape-rendering="crispEdges"/>
<rect x="115.46" y="361.93" width="4.64" height="4.66" fill="#336bc5" shape-rendering="crispEdges"/>
<rect x="115.46" y="365.99" width="4.64" height="4.66" fill="#336bc5" shape-rendering="crispEdges"/>
<rect x="115.46" y="370.05" width="4.64" height="4.66" fill="#336bc5" shape-rendering="crispEdges"/>
<rect x="115.46" y="374.12" width="4.64" height="4.66" fill="#336bc5" shape-rendering="crispEdges"/>
<rect x="115.46" y="378.18" width="4.64" height="4.66" fill="#336bc5" shape-rendering="crispEdges"/>
<rect x="115.46" y="382.25" width="4.64" height="4.66" fill="#336bc5" shape-rendering="crispEdges"/>
<rect x="115.46" y="386.31" width="4.64" height="4.66" fill="#336bc5" shape-rendering="crispEdges"/>
<rect x="115.46" y="390.37" width="4.64" height="4.66" fill="#336bc5" shape-rendering="crispEdges"/>
<rect x="115.46" y="394.44" width="4.64" height="4.66" fill="#336bc5" shape-rendering="crispEdges"/>
<rect x="75.1" y="353.8" width="44.4" height="44.7" fill="none" stroke="#1d1d2a" stroke-width="1.8" />
<rect x="298.3" y="80.5" width="4.65" height="4.61" fill="#3267c2" shape-rendering="crispEdges"/>
<rect x="298.3" y="84.51" width="4.65" height="4.61" fill="#3267c2" shape-rendering="crispEdges"/>
<rect x="298.3" y="88.52" width="4.65" height="4.61" fill="#3267c2" shape-rendering="crispEdges"/>
<rect x="298.3" y="92.53" width="4.65" height="4.61" fill="#3267c2" shape-rendering="crispEdges"/>
<rect x="298.3" y="96.54" width="4.65" height="4.61" fill="#3267c2" shape-rendering="crispEdges"/>
<rect x="298.3" y="100.55" width="4.65" height="4.61" fill="#3267c2" shape-rendering="crispEdges"/>
<rect x="298.3" y="104.55" width="4.65" height="4.61" fill="#3267c2" shape-rendering="crispEdges"/>
<rect x="298.3" y="108.56" width="4.65" height="4.61" fill="#3267c2" shape-rendering="crispEdges"/>
<rect x="298.3" y="112.57" width="4.65" height="4.61" fill="#3267c2" shape-rendering="crispEdges"/>
<rect x="298.3" y="116.58" width="4.65" height="4.61" fill="#3267c2" shape-rendering="crispEdges"/>
<rect x="298.3" y="120.59" width="4.65" height="4.61" fill="#3267c2" shape-rendering="crispEdges"/>
<rect x="302.35" y="80.5" width="4.65" height="4.61" fill="#3267c2" shape-rendering="crispEdges"/>
<rect x="302.35" y="84.51" width="4.65" height="4.61" fill="#3267c2" shape-rendering="crispEdges"/>
<rect x="302.35" y="88.52" width="4.65" height="4.61" fill="#3267c2" shape-rendering="crispEdges"/>
<rect x="302.35" y="92.53" width="4.65" height="4.61" fill="#3267c2" shape-rendering="crispEdges"/>
<rect x="302.35" y="96.54" width="4.65" height="4.61" fill="#3267c2" shape-rendering="crispEdges"/>
<rect x="302.35" y="100.55" width="4.65" height="4.61" fill="#3267c2" shape-rendering="crispEdges"/>
<rect x="302.35" y="104.55" width="4.65" height="4.61" fill="#3267c2" shape-rendering="crispEdges"/>
<rect x="302.35" y="108.56" width="4.65" height="4.61" fill="#3267c2" shape-rendering="crispEdges"/>
<rect x="302.35" y="112.57" width="4.65" height="4.61" fill="#3267c2" shape-rendering="crispEdges"/>
<rect x="302.35" y="116.58" width="4.65" height="4.61" fill="#3267c2" shape-rendering="crispEdges"/>
<rect x="302.35" y="120.59" width="4.65" height="4.61" fill="#3267c2" shape-rendering="crispEdges"/>
<rect x="306.39" y="80.5" width="4.65" height="4.61" fill="#3267c2" shape-rendering="crispEdges"/>
<rect x="306.39" y="84.51" width="4.65" height="4.61" fill="#3267c2" shape-rendering="crispEdges"/>
<rect x="306.39" y="88.52" width="4.65" height="4.61" fill="#3267c2" shape-rendering="crispEdges"/>
<rect x="306.39" y="92.53" width="4.65" height="4.61" fill="#3267c2" shape-rendering="crispEdges"/>
<rect x="306.39" y="96.54" width="4.65" height="4.61" fill="#3269c3" shape-rendering="crispEdges"/>
<rect x="306.39" y="100.55" width="4.65" height="4.61" fill="#326ac4" shape-rendering="crispEdges"/>
<rect x="306.39" y="104.55" width="4.65" height="4.61" fill="#3269c4" shape-rendering="crispEdges"/>
<rect x="306.39" y="108.56" width="4.65" height="4.61" fill="#3267c2" shape-rendering="crispEdges"/>
<rect x="306.39" y="112.57" width="4.65" height="4.61" fill="#3267c2" shape-rendering="crispEdges"/>
<rect x="306.39" y="116.58" width="4.65" height="4.61" fill="#3267c2" shape-rendering="crispEdges"/>
<rect x="306.39" y="120.59" width="4.65" height="4.61" fill="#3267c2" shape-rendering="crispEdges"/>
<rect x="310.44" y="80.5" width="4.65" height="4.61" fill="#3267c2" shape-rendering="crispEdges"/>
<rect x="310.44" y="84.51" width="4.65" height="4.61" fill="#3267c2" shape-rendering="crispEdges"/>
<rect x="310.44" y="88.52" width="4.65" height="4.61" fill="#3267c2" shape-rendering="crispEdges"/>
<rect x="310.44" y="92.53" width="4.65" height="4.61" fill="#326ac5" shape-rendering="crispEdges"/>
<rect x="310.44" y="96.54" width="4.65" height="4.61" fill="#3374cc" shape-rendering="crispEdges"/>
<rect x="310.44" y="100.55" width="4.65" height="4.61" fill="#337dd2" shape-rendering="crispEdges"/>
<rect x="310.44" y="104.55" width="4.65" height="4.61" fill="#3377ce" shape-rendering="crispEdges"/>
<rect x="310.44" y="108.56" width="4.65" height="4.61" fill="#336cc6" shape-rendering="crispEdges"/>
<rect x="310.44" y="112.57" width="4.65" height="4.61" fill="#3267c2" shape-rendering="crispEdges"/>
<rect x="310.44" y="116.58" width="4.65" height="4.61" fill="#3267c2" shape-rendering="crispEdges"/>
<rect x="310.44" y="120.59" width="4.65" height="4.61" fill="#3267c2" shape-rendering="crispEdges"/>
<rect x="314.48" y="80.5" width="4.65" height="4.61" fill="#3267c2" shape-rendering="crispEdges"/>
<rect x="314.48" y="84.51" width="4.65" height="4.61" fill="#3267c2" shape-rendering="crispEdges"/>
<rect x="314.48" y="88.52" width="4.65" height="4.61" fill="#3268c3" shape-rendering="crispEdges"/>
<rect x="314.48" y="92.53" width="4.65" height="4.61" fill="#3372ca" shape-rendering="crispEdges"/>
<rect x="314.48" y="96.54" width="4.65" height="4.61" fill="#3093dc" shape-rendering="crispEdges"/>
<rect x="314.48" y="100.55" width="4.65" height="4.61" fill="#30ade7" shape-rendering="crispEdges"/>
<rect x="314.48" y="104.55" width="4.65" height="4.61" fill="#2e9ce0" shape-rendering="crispEdges"/>
<rect x="314.48" y="108.56" width="4.65" height="4.61" fill="#3377ce" shape-rendering="crispEdges"/>
<rect x="314.48" y="112.57" width="4.65" height="4.61" fill="#3269c4" shape-rendering="crispEdges"/>
<rect x="314.48" y="116.58" width="4.65" height="4.61" fill="#3267c2" shape-rendering="crispEdges"/>
<rect x="314.48" y="120.59" width="4.65" height="4.61" fill="#3267c2" shape-rendering="crispEdges"/>
<rect x="318.53" y="80.5" width="4.65" height="4.61" fill="#3267c2" shape-rendering="crispEdges"/>
<rect x="318.53" y="84.51" width="4.65" height="4.61" fill="#3267c2" shape-rendering="crispEdges"/>
<rect x="318.53" y="88.52" width="4.65" height="4.61" fill="#3269c3" shape-rendering="crispEdges"/>
<rect x="318.53" y="92.53" width="4.65" height="4.61" fill="#3376cd" shape-rendering="crispEdges"/>
<rect x="318.53" y="96.54" width="4.65" height="4.61" fill="#2da3e3" shape-rendering="crispEdges"/>
<rect x="318.53" y="100.55" width="4.65" height="4.61" fill="#37c1ed" shape-rendering="crispEdges"/>
<rect x="318.53" y="104.55" width="4.65" height="4.61" fill="#30ade6" shape-rendering="crispEdges"/>
<rect x="318.53" y="108.56" width="4.65" height="4.61" fill="#337dd2" shape-rendering="crispEdges"/>
<rect x="318.53" y="112.57" width="4.65" height="4.61" fill="#326ac4" shape-rendering="crispEdges"/>
<rect x="318.53" y="116.58" width="4.65" height="4.61" fill="#3267c2" shape-rendering="crispEdges"/>
<rect x="318.53" y="120.59" width="4.65" height="4.61" fill="#3267c2" shape-rendering="crispEdges"/>
<rect x="322.57" y="80.5" width="4.65" height="4.61" fill="#3267c2" shape-rendering="crispEdges"/>
<rect x="322.57" y="84.51" width="4.65" height="4.61" fill="#3267c2" shape-rendering="crispEdges"/>
<rect x="322.57" y="88.52" width="4.65" height="4.61" fill="#3268c3" shape-rendering="crispEdges"/>
<rect x="322.57" y="92.53" width="4.65" height="4.61" fill="#3370c9" shape-rendering="crispEdges"/>
<rect x="322.57" y="96.54" width="4.65" height="4.61" fill="#318ad7" shape-rendering="crispEdges"/>
<rect x="322.57" y="100.55" width="4.65" height="4.61" fill="#2da2e2" shape-rendering="crispEdges"/>
<rect x="322.57" y="104.55" width="4.65" height="4.61" fill="#3091db" shape-rendering="crispEdges"/>
<rect x="322.57" y="108.56" width="4.65" height="4.61" fill="#3374cb" shape-rendering="crispEdges"/>
<rect x="322.57" y="112.57" width="4.65" height="4.61" fill="#3269c3" shape-rendering="crispEdges"/>
<rect x="322.57" y="116.58" width="4.65" height="4.61" fill="#3267c2" shape-rendering="crispEdges"/>
<rect x="322.57" y="120.59" width="4.65" height="4.61" fill="#3267c2" shape-rendering="crispEdges"/>
<rect x="326.62" y="80.5" width="4.65" height="4.61" fill="#3267c2" shape-rendering="crispEdges"/>
<rect x="326.62" y="84.51" width="4.65" height="4.61" fill="#3267c2" shape-rendering="crispEdges"/>
<rect x="326.62" y="88.52" width="4.65" height="4.61" fill="#3267c2" shape-rendering="crispEdges"/>
<rect x="326.62" y="92.53" width="4.65" height="4.61" fill="#3269c4" shape-rendering="crispEdges"/>
<rect x="326.62" y="96.54" width="4.65" height="4.61" fill="#3370c8" shape-rendering="crispEdges"/>
<rect x="326.62" y="100.55" width="4.65" height="4.61" fill="#3375cc" shape-rendering="crispEdges"/>
<rect x="326.62" y="104.55" width="4.65" height="4.61" fill="#3371c9" shape-rendering="crispEdges"/>
<rect x="326.62" y="108.56" width="4.65" height="4.61" fill="#326ac4" shape-rendering="crispEdges"/>
<rect x="326.62" y="112.57" width="4.65" height="4.61" fill="#3267c2" shape-rendering="crispEdges"/>
<rect x="326.62" y="116.58" width="4.65" height="4.61" fill="#3267c2" shape-rendering="crispEdges"/>
<rect x="326.62" y="120.59" width="4.65" height="4.61" fill="#3267c2" shape-rendering="crispEdges"/>
<rect x="330.66" y="80.5" width="4.65" height="4.61" fill="#3267c2" shape-rendering="crispEdges"/>
<rect x="330.66" y="84.51" width="4.65" height="4.61" fill="#3267c2" shape-rendering="crispEdges"/>
<rect x="330.66" y="88.52" width="4.65" height="4.61" fill="#3267c2" shape-rendering="crispEdges"/>
<rect x="330.66" y="92.53" width="4.65" height="4.61" fill="#3267c2" shape-rendering="crispEdges"/>
<rect x="330.66" y="96.54" width="4.65" height="4.61" fill="#3268c3" shape-rendering="crispEdges"/>
<rect x="330.66" y="100.55" width="4.65" height="4.61" fill="#3268c3" shape-rendering="crispEdges"/>
<rect x="330.66" y="104.55" width="4.65" height="4.61" fill="#3268c3" shape-rendering="crispEdges"/>
<rect x="330.66" y="108.56" width="4.65" height="4.61" fill="#3267c2" shape-rendering="crispEdges"/>
<rect x="330.66" y="112.57" width="4.65" height="4.61" fill="#3267c2" shape-rendering="crispEdges"/>
<rect x="330.66" y="116.58" width="4.65" height="4.61" fill="#3267c2" shape-rendering="crispEdges"/>
<rect x="330.66" y="120.59" width="4.65" height="4.61" fill="#3267c2" shape-rendering="crispEdges"/>
<rect x="334.71" y="80.5" width="4.65" height="4.61" fill="#3267c2" shape-rendering="crispEdges"/>
<rect x="334.71" y="84.51" width="4.65" height="4.61" fill="#3267c2" shape-rendering="crispEdges"/>
<rect x="334.71" y="88.52" width="4.65" height="4.61" fill="#3267c2" shape-rendering="crispEdges"/>
<rect x="334.71" y="92.53" width="4.65" height="4.61" fill="#3267c2" shape-rendering="crispEdges"/>
<rect x="334.71" y="96.54" width="4.65" height="4.61" fill="#3267c2" shape-rendering="crispEdges"/>
<rect x="334.71" y="100.55" width="4.65" height="4.61" fill="#3267c2" shape-rendering="crispEdges"/>
<rect x="334.71" y="104.55" width="4.65" height="4.61" fill="#3267c2" shape-rendering="crispEdges"/>
<rect x="334.71" y="108.56" width="4.65" height="4.61" fill="#3267c2" shape-rendering="crispEdges"/>
<rect x="334.71" y="112.57" width="4.65" height="4.61" fill="#3267c2" shape-rendering="crispEdges"/>
<rect x="334.71" y="116.58" width="4.65" height="4.61" fill="#3267c2" shape-rendering="crispEdges"/>
<rect x="334.71" y="120.59" width="4.65" height="4.61" fill="#3267c2" shape-rendering="crispEdges"/>
<rect x="338.75" y="80.5" width="4.65" height="4.61" fill="#3267c2" shape-rendering="crispEdges"/>
<rect x="338.75" y="84.51" width="4.65" height="4.61" fill="#3267c2" shape-rendering="crispEdges"/>
<rect x="338.75" y="88.52" width="4.65" height="4.61" fill="#3267c2" shape-rendering="crispEdges"/>
<rect x="338.75" y="92.53" width="4.65" height="4.61" fill="#3267c2" shape-rendering="crispEdges"/>
<rect x="338.75" y="96.54" width="4.65" height="4.61" fill="#3267c2" shape-rendering="crispEdges"/>
<rect x="338.75" y="100.55" width="4.65" height="4.61" fill="#3267c2" shape-rendering="crispEdges"/>
<rect x="338.75" y="104.55" width="4.65" height="4.61" fill="#3267c2" shape-rendering="crispEdges"/>
<rect x="338.75" y="108.56" width="4.65" height="4.61" fill="#3267c2" shape-rendering="crispEdges"/>
<rect x="338.75" y="112.57" width="4.65" height="4.61" fill="#3267c2" shape-rendering="crispEdges"/>
<rect x="338.75" y="116.58" width="4.65" height="4.61" fill="#3267c2" shape-rendering="crispEdges"/>
<rect x="338.75" y="120.59" width="4.65" height="4.61" fill="#3267c2" shape-rendering="crispEdges"/>
<rect x="298.3" y="80.5" width="44.5" height="44.1" fill="none" stroke="#1d1d2a" stroke-width="1.8" />
<rect x="298.3" y="354" width="4.65" height="4.6" fill="#3267c2" shape-rendering="crispEdges"/>
<rect x="298.3" y="358" width="4.65" height="4.6" fill="#3267c2" shape-rendering="crispEdges"/>
<rect x="298.3" y="362" width="4.65" height="4.6" fill="#3267c2" shape-rendering="crispEdges"/>
<rect x="298.3" y="366" width="4.65" height="4.6" fill="#3268c3" shape-rendering="crispEdges"/>
<rect x="298.3" y="370" width="4.65" height="4.6" fill="#3268c3" shape-rendering="crispEdges"/>
<rect x="298.3" y="374" width="4.65" height="4.6" fill="#3268c3" shape-rendering="crispEdges"/>
<rect x="298.3" y="378" width="4.65" height="4.6" fill="#3267c2" shape-rendering="crispEdges"/>
<rect x="298.3" y="382" width="4.65" height="4.6" fill="#3267c2" shape-rendering="crispEdges"/>
<rect x="298.3" y="386" width="4.65" height="4.6" fill="#3267c2" shape-rendering="crispEdges"/>
<rect x="298.3" y="390" width="4.65" height="4.6" fill="#3267c2" shape-rendering="crispEdges"/>
<rect x="298.3" y="394" width="4.65" height="4.6" fill="#3267c2" shape-rendering="crispEdges"/>
<rect x="302.35" y="354" width="4.65" height="4.6" fill="#3268c3" shape-rendering="crispEdges"/>
<rect x="302.35" y="358" width="4.65" height="4.6" fill="#3269c4" shape-rendering="crispEdges"/>
<rect x="302.35" y="362" width="4.65" height="4.6" fill="#336bc5" shape-rendering="crispEdges"/>
<rect x="302.35" y="366" width="4.65" height="4.6" fill="#336dc7" shape-rendering="crispEdges"/>
<rect x="302.35" y="370" width="4.65" height="4.6" fill="#336fc8" shape-rendering="crispEdges"/>
<rect x="302.35" y="374" width="4.65" height="4.6" fill="#336fc8" shape-rendering="crispEdges"/>
<rect x="302.35" y="378" width="4.65" height="4.6" fill="#336dc6" shape-rendering="crispEdges"/>
<rect x="302.35" y="382" width="4.65" height="4.6" fill="#326ac5" shape-rendering="crispEdges"/>
<rect x="302.35" y="386" width="4.65" height="4.6" fill="#3268c3" shape-rendering="crispEdges"/>
<rect x="302.35" y="390" width="4.65" height="4.6" fill="#3267c2" shape-rendering="crispEdges"/>
<rect x="302.35" y="394" width="4.65" height="4.6" fill="#3267c2" shape-rendering="crispEdges"/>
<rect x="306.39" y="354" width="4.65" height="4.6" fill="#3269c4" shape-rendering="crispEdges"/>
<rect x="306.39" y="358" width="4.65" height="4.6" fill="#336dc6" shape-rendering="crispEdges"/>
<rect x="306.39" y="362" width="4.65" height="4.6" fill="#3374cb" shape-rendering="crispEdges"/>
<rect x="306.39" y="366" width="4.65" height="4.6" fill="#337dd2" shape-rendering="crispEdges"/>
<rect x="306.39" y="370" width="4.65" height="4.6" fill="#3286d6" shape-rendering="crispEdges"/>
<rect x="306.39" y="374" width="4.65" height="4.6" fill="#3188d7" shape-rendering="crispEdges"/>
<rect x="306.39" y="378" width="4.65" height="4.6" fill="#3283d4" shape-rendering="crispEdges"/>
<rect x="306.39" y="382" width="4.65" height="4.6" fill="#3379cf" shape-rendering="crispEdges"/>
<rect x="306.39" y="386" width="4.65" height="4.6" fill="#3371c9" shape-rendering="crispEdges"/>
<rect x="306.39" y="390" width="4.65" height="4.6" fill="#336bc5" shape-rendering="crispEdges"/>
<rect x="306.39" y="394" width="4.65" height="4.6" fill="#3268c3" shape-rendering="crispEdges"/>
<rect x="310.44" y="354" width="4.65" height="4.6" fill="#3269c4" shape-rendering="crispEdges"/>
<rect x="310.44" y="358" width="4.65" height="4.6" fill="#336fc8" shape-rendering="crispEdges"/>
<rect x="310.44" y="362" width="4.65" height="4.6" fill="#337bd0" shape-rendering="crispEdges"/>
<rect x="310.44" y="366" width="4.65" height="4.6" fill="#308fda" shape-rendering="crispEdges"/>
<rect x="310.44" y="370" width="4.65" height="4.6" fill="#2da5e4" shape-rendering="crispEdges"/>
<rect x="310.44" y="374" width="4.65" height="4.6" fill="#30afe7" shape-rendering="crispEdges"/>
<rect x="310.44" y="378" width="4.65" height="4.6" fill="#30ade6" shape-rendering="crispEdges"/>
<rect x="310.44" y="382" width="4.65" height="4.6" fill="#2e9ee0" shape-rendering="crispEdges"/>
<rect x="310.44" y="386" width="4.65" height="4.6" fill="#3287d6" shape-rendering="crispEdges"/>
<rect x="310.44" y="390" width="4.65" height="4.6" fill="#3376cd" shape-rendering="crispEdges"/>
<rect x="310.44" y="394" width="4.65" height="4.6" fill="#336cc6" shape-rendering="crispEdges"/>
<rect x="314.48" y="354" width="4.65" height="4.6" fill="#3269c3" shape-rendering="crispEdges"/>
<rect x="314.48" y="358" width="4.65" height="4.6" fill="#336dc6" shape-rendering="crispEdges"/>
<rect x="314.48" y="362" width="4.65" height="4.6" fill="#3377ce" shape-rendering="crispEdges"/>
<rect x="314.48" y="366" width="4.65" height="4.6" fill="#318cd9" shape-rendering="crispEdges"/>
<rect x="314.48" y="370" width="4.65" height="4.6" fill="#2da7e4" shape-rendering="crispEdges"/>
<rect x="314.48" y="374" width="4.65" height="4.6" fill="#34b8ea" shape-rendering="crispEdges"/>
<rect x="314.48" y="378" width="4.65" height="4.6" fill="#36bdec" shape-rendering="crispEdges"/>
<rect x="314.48" y="382" width="4.65" height="4.6" fill="#32b3e8" shape-rendering="crispEdges"/>
<rect x="314.48" y="386" width="4.65" height="4.6" fill="#2e9de0" shape-rendering="crispEdges"/>
<rect x="314.48" y="390" width="4.65" height="4.6" fill="#3283d4" shape-rendering="crispEdges"/>
<rect x="314.48" y="394" width="4.65" height="4.6" fill="#3373ca" shape-rendering="crispEdges"/>
<rect x="318.53" y="354" width="4.65" height="4.6" fill="#3267c2" shape-rendering="crispEdges"/>
<rect x="318.53" y="358" width="4.65" height="4.6" fill="#3269c4" shape-rendering="crispEdges"/>
<rect x="318.53" y="362" width="4.65" height="4.6" fill="#336ec7" shape-rendering="crispEdges"/>
<rect x="318.53" y="366" width="4.65" height="4.6" fill="#3378ce" shape-rendering="crispEdges"/>
<rect x="318.53" y="370" width="4.65" height="4.6" fill="#318ad7" shape-rendering="crispEdges"/>
<rect x="318.53" y="374" width="4.65" height="4.6" fill="#2e9de0" shape-rendering="crispEdges"/>
<rect x="318.53" y="378" width="4.65" height="4.6" fill="#2ea7e5" shape-rendering="crispEdges"/>
<rect x="318.53" y="382" width="4.65" height="4.6" fill="#2da5e4" shape-rendering="crispEdges"/>
<rect x="318.53" y="386" width="4.65" height="4.6" fill="#2f96dd" shape-rendering="crispEdges"/>
<rect x="318.53" y="390" width="4.65" height="4.6" fill="#3382d4" shape-rendering="crispEdges"/>
<rect x="318.53" y="394" width="4.65" height="4.6" fill="#3374cb" shape-rendering="crispEdges"/>
<rect x="322.57" y="354" width="4.65" height="4.6" fill="#3267c2" shape-rendering="crispEdges"/>
<rect x="322.57" y="358" width="4.65" height="4.6" fill="#3267c2" shape-rendering="crispEdges"/>
<rect x="322.57" y="362" width="4.65" height="4.6" fill="#3268c3" shape-rendering="crispEdges"/>
<rect x="322.57" y="366" width="4.65" height="4.6" fill="#336bc5" shape-rendering="crispEdges"/>
<rect x="322.57" y="370" width="4.65" height="4.6" fill="#3371c9" shape-rendering="crispEdges"/>
<rect x="322.57" y="374" width="4.65" height="4.6" fill="#3377ce" shape-rendering="crispEdges"/>
<rect x="322.57" y="378" width="4.65" height="4.6" fill="#337dd2" shape-rendering="crispEdges"/>
<rect x="322.57" y="382" width="4.65" height="4.6" fill="#337fd3" shape-rendering="crispEdges"/>
<rect x="322.57" y="386" width="4.65" height="4.6" fill="#337bd1" shape-rendering="crispEdges"/>
<rect x="322.57" y="390" width="4.65" height="4.6" fill="#3375cc" shape-rendering="crispEdges"/>
<rect x="322.57" y="394" width="4.65" height="4.6" fill="#336ec7" shape-rendering="crispEdges"/>
<rect x="326.62" y="354" width="4.65" height="4.6" fill="#3267c2" shape-rendering="crispEdges"/>
<rect x="326.62" y="358" width="4.65" height="4.6" fill="#3267c2" shape-rendering="crispEdges"/>
<rect x="326.62" y="362" width="4.65" height="4.6" fill="#3267c2" shape-rendering="crispEdges"/>
<rect x="326.62" y="366" width="4.65" height="4.6" fill="#3267c2" shape-rendering="crispEdges"/>
<rect x="326.62" y="370" width="4.65" height="4.6" fill="#3268c3" shape-rendering="crispEdges"/>
<rect x="326.62" y="374" width="4.65" height="4.6" fill="#326ac4" shape-rendering="crispEdges"/>
<rect x="326.62" y="378" width="4.65" height="4.6" fill="#336bc5" shape-rendering="crispEdges"/>
<rect x="326.62" y="382" width="4.65" height="4.6" fill="#336cc6" shape-rendering="crispEdges"/>
<rect x="326.62" y="386" width="4.65" height="4.6" fill="#336cc6" shape-rendering="crispEdges"/>
<rect x="326.62" y="390" width="4.65" height="4.6" fill="#326bc5" shape-rendering="crispEdges"/>
<rect x="326.62" y="394" width="4.65" height="4.6" fill="#3269c4" shape-rendering="crispEdges"/>
<rect x="330.66" y="354" width="4.65" height="4.6" fill="#3267c2" shape-rendering="crispEdges"/>
<rect x="330.66" y="358" width="4.65" height="4.6" fill="#3267c2" shape-rendering="crispEdges"/>
<rect x="330.66" y="362" width="4.65" height="4.6" fill="#3267c2" shape-rendering="crispEdges"/>
<rect x="330.66" y="366" width="4.65" height="4.6" fill="#3267c2" shape-rendering="crispEdges"/>
<rect x="330.66" y="370" width="4.65" height="4.6" fill="#3267c2" shape-rendering="crispEdges"/>
<rect x="330.66" y="374" width="4.65" height="4.6" fill="#3267c2" shape-rendering="crispEdges"/>
<rect x="330.66" y="378" width="4.65" height="4.6" fill="#3267c2" shape-rendering="crispEdges"/>
<rect x="330.66" y="382" width="4.65" height="4.6" fill="#3267c2" shape-rendering="crispEdges"/>
<rect x="330.66" y="386" width="4.65" height="4.6" fill="#3267c2" shape-rendering="crispEdges"/>
<rect x="330.66" y="390" width="4.65" height="4.6" fill="#3267c2" shape-rendering="crispEdges"/>
<rect x="330.66" y="394" width="4.65" height="4.6" fill="#3267c2" shape-rendering="crispEdges"/>
<rect x="334.71" y="354" width="4.65" height="4.6" fill="#3267c2" shape-rendering="crispEdges"/>
<rect x="334.71" y="358" width="4.65" height="4.6" fill="#3267c2" shape-rendering="crispEdges"/>
<rect x="334.71" y="362" width="4.65" height="4.6" fill="#3267c2" shape-rendering="crispEdges"/>
<rect x="334.71" y="366" width="4.65" height="4.6" fill="#3267c2" shape-rendering="crispEdges"/>
<rect x="334.71" y="370" width="4.65" height="4.6" fill="#3267c2" shape-rendering="crispEdges"/>
<rect x="334.71" y="374" width="4.65" height="4.6" fill="#3267c2" shape-rendering="crispEdges"/>
<rect x="334.71" y="378" width="4.65" height="4.6" fill="#3267c2" shape-rendering="crispEdges"/>
<rect x="334.71" y="382" width="4.65" height="4.6" fill="#3267c2" shape-rendering="crispEdges"/>
<rect x="334.71" y="386" width="4.65" height="4.6" fill="#3267c2" shape-rendering="crispEdges"/>
<rect x="334.71" y="390" width="4.65" height="4.6" fill="#3267c2" shape-rendering="crispEdges"/>
<rect x="334.71" y="394" width="4.65" height="4.6" fill="#3267c2" shape-rendering="crispEdges"/>
<rect x="338.75" y="354" width="4.65" height="4.6" fill="#3267c2" shape-rendering="crispEdges"/>
<rect x="338.75" y="358" width="4.65" height="4.6" fill="#3267c2" shape-rendering="crispEdges"/>
<rect x="338.75" y="362" width="4.65" height="4.6" fill="#3267c2" shape-rendering="crispEdges"/>
<rect x="338.75" y="366" width="4.65" height="4.6" fill="#3267c2" shape-rendering="crispEdges"/>
<rect x="338.75" y="370" width="4.65" height="4.6" fill="#3267c2" shape-rendering="crispEdges"/>
<rect x="338.75" y="374" width="4.65" height="4.6" fill="#3267c2" shape-rendering="crispEdges"/>
<rect x="338.75" y="378" width="4.65" height="4.6" fill="#3267c2" shape-rendering="crispEdges"/>
<rect x="338.75" y="382" width="4.65" height="4.6" fill="#3267c2" shape-rendering="crispEdges"/>
<rect x="338.75" y="386" width="4.65" height="4.6" fill="#3267c2" shape-rendering="crispEdges"/>
<rect x="338.75" y="390" width="4.65" height="4.6" fill="#3267c2" shape-rendering="crispEdges"/>
<rect x="338.75" y="394" width="4.65" height="4.6" fill="#3267c2" shape-rendering="crispEdges"/>
<rect x="298.3" y="354" width="44.5" height="44" fill="none" stroke="#1d1d2a" stroke-width="1.8" />
<rect x="509.8" y="80.5" width="4.6" height="4.77" fill="#33b5e9" shape-rendering="crispEdges"/>
<rect x="509.8" y="84.67" width="4.6" height="4.77" fill="#34b8ea" shape-rendering="crispEdges"/>
<rect x="509.8" y="88.85" width="4.6" height="4.77" fill="#36bdec" shape-rendering="crispEdges"/>
<rect x="509.8" y="93.02" width="4.6" height="4.77" fill="#37c1ed" shape-rendering="crispEdges"/>
<rect x="509.8" y="97.19" width="4.6" height="4.77" fill="#3dc3e6" shape-rendering="crispEdges"/>
<rect x="509.8" y="101.36" width="4.6" height="4.77" fill="#3fc4e4" shape-rendering="crispEdges"/>
<rect x="509.8" y="105.54" width="4.6" height="4.77" fill="#3cc3e7" shape-rendering="crispEdges"/>
<rect x="509.8" y="109.71" width="4.6" height="4.77" fill="#37c0ed" shape-rendering="crispEdges"/>
<rect x="509.8" y="113.88" width="4.6" height="4.77" fill="#35bceb" shape-rendering="crispEdges"/>
<rect x="509.8" y="118.05" width="4.6" height="4.77" fill="#34b8ea" shape-rendering="crispEdges"/>
<rect x="509.8" y="122.23" width="4.6" height="4.77" fill="#33b5e9" shape-rendering="crispEdges"/>
<rect x="513.8" y="80.5" width="4.6" height="4.77" fill="#34b8ea" shape-rendering="crispEdges"/>
<rect x="513.8" y="84.67" width="4.6" height="4.77" fill="#36beec" shape-rendering="crispEdges"/>
<rect x="513.8" y="88.85" width="4.6" height="4.77" fill="#3fc4e4" shape-rendering="crispEdges"/>
<rect x="513.8" y="93.02" width="4.6" height="4.77" fill="#4cc7d1" shape-rendering="crispEdges"/>
<rect x="513.8" y="97.19" width="4.6" height="4.77" fill="#57cbc2" shape-rendering="crispEdges"/>
<rect x="513.8" y="101.36" width="4.6" height="4.77" fill="#5bccbd" shape-rendering="crispEdges"/>
<rect x="513.8" y="105.54" width="4.6" height="4.77" fill="#56cac5" shape-rendering="crispEdges"/>
<rect x="513.8" y="109.71" width="4.6" height="4.77" fill="#49c7d5" shape-rendering="crispEdges"/>
<rect x="513.8" y="113.88" width="4.6" height="4.77" fill="#3cc3e8" shape-rendering="crispEdges"/>
<rect x="513.8" y="118.05" width="4.6" height="4.77" fill="#36bcec" shape-rendering="crispEdges"/>
<rect x="513.8" y="122.23" width="4.6" height="4.77" fill="#34b7ea" shape-rendering="crispEdges"/>
<rect x="517.8" y="80.5" width="4.6" height="4.77" fill="#35bcec" shape-rendering="crispEdges"/>
<rect x="517.8" y="84.67" width="4.6" height="4.77" fill="#3ec3e5" shape-rendering="crispEdges"/>
<rect x="517.8" y="88.85" width="4.6" height="4.77" fill="#53c9c8" shape-rendering="crispEdges"/>
<rect x="517.8" y="93.02" width="4.6" height="4.77" fill="#70d0a3" shape-rendering="crispEdges"/>
<rect x="517.8" y="97.19" width="4.6" height="4.77" fill="#8cd583" shape-rendering="crispEdges"/>
<rect x="517.8" y="101.36" width="4.6" height="4.77" fill="#95d678" shape-rendering="crispEdges"/>
<rect x="517.8" y="105.54" width="4.6" height="4.77" fill="#87d488" shape-rendering="crispEdges"/>
<rect x="517.8" y="109.71" width="4.6" height="4.77" fill="#69ceac" shape-rendering="crispEdges"/>
<rect x="517.8" y="113.88" width="4.6" height="4.77" fill="#4ec8cf" shape-rendering="crispEdges"/>
<rect x="517.8" y="118.05" width="4.6" height="4.77" fill="#3ac2ea" shape-rendering="crispEdges"/>
<rect x="517.8" y="122.23" width="4.6" height="4.77" fill="#35baeb" shape-rendering="crispEdges"/>
<rect x="521.8" y="80.5" width="4.6" height="4.77" fill="#37c1ed" shape-rendering="crispEdges"/>
<rect x="521.8" y="84.67" width="4.6" height="4.77" fill="#4bc7d3" shape-rendering="crispEdges"/>
<rect x="521.8" y="88.85" width="4.6" height="4.77" fill="#70d0a4" shape-rendering="crispEdges"/>
<rect x="521.8" y="93.02" width="4.6" height="4.77" fill="#acda66" shape-rendering="crispEdges"/>
<rect x="521.8" y="97.19" width="4.6" height="4.77" fill="#efe332" shape-rendering="crispEdges"/>
<rect x="521.8" y="101.36" width="4.6" height="4.77" fill="#f1d52f" shape-rendering="crispEdges"/>
<rect x="521.8" y="105.54" width="4.6" height="4.77" fill="#e4e23b" shape-rendering="crispEdges"/>
<rect x="521.8" y="109.71" width="4.6" height="4.77" fill="#9ad774" shape-rendering="crispEdges"/>
<rect x="521.8" y="113.88" width="4.6" height="4.77" fill="#65ceb1" shape-rendering="crispEdges"/>
<rect x="521.8" y="118.05" width="4.6" height="4.77" fill="#46c5da" shape-rendering="crispEdges"/>
<rect x="521.8" y="122.23" width="4.6" height="4.77" fill="#36beec" shape-rendering="crispEdges"/>
<rect x="525.8" y="80.5" width="4.6" height="4.77" fill="#3bc3e8" shape-rendering="crispEdges"/>
<rect x="525.8" y="84.67" width="4.6" height="4.77" fill="#56cac4" shape-rendering="crispEdges"/>
<rect x="525.8" y="88.85" width="4.6" height="4.77" fill="#8cd583" shape-rendering="crispEdges"/>
<rect x="525.8" y="93.02" width="4.6" height="4.77" fill="#f0e231" shape-rendering="crispEdges"/>
<rect x="525.8" y="97.19" width="4.6" height="4.77" fill="#f4aa28" shape-rendering="crispEdges"/>
<rect x="525.8" y="101.36" width="4.6" height="4.77" fill="#f39726" shape-rendering="crispEdges"/>
<rect x="525.8" y="105.54" width="4.6" height="4.77" fill="#f4b429" shape-rendering="crispEdges"/>
<rect x="525.8" y="109.71" width="4.6" height="4.77" fill="#dae042" shape-rendering="crispEdges"/>
<rect x="525.8" y="113.88" width="4.6" height="4.77" fill="#7ed293" shape-rendering="crispEdges"/>
<rect x="525.8" y="118.05" width="4.6" height="4.77" fill="#4fc8cd" shape-rendering="crispEdges"/>
<rect x="525.8" y="122.23" width="4.6" height="4.77" fill="#37c1ed" shape-rendering="crispEdges"/>
<rect x="529.8" y="80.5" width="4.6" height="4.77" fill="#3dc3e5" shape-rendering="crispEdges"/>
<rect x="529.8" y="84.67" width="4.6" height="4.77" fill="#5bcbbe" shape-rendering="crispEdges"/>
<rect x="529.8" y="88.85" width="4.6" height="4.77" fill="#99d775" shape-rendering="crispEdges"/>
<rect x="529.8" y="93.02" width="4.6" height="4.77" fill="#f1d02e" shape-rendering="crispEdges"/>
<rect x="529.8" y="97.19" width="4.6" height="4.77" fill="#f39226" shape-rendering="crispEdges"/>
<rect x="529.8" y="101.36" width="4.6" height="4.77" fill="#f17d24" shape-rendering="crispEdges"/>
<rect x="529.8" y="105.54" width="4.6" height="4.77" fill="#f39c26" shape-rendering="crispEdges"/>
<rect x="529.8" y="109.71" width="4.6" height="4.77" fill="#f0e031" shape-rendering="crispEdges"/>
<rect x="529.8" y="113.88" width="4.6" height="4.77" fill="#89d487" shape-rendering="crispEdges"/>
<rect x="529.8" y="118.05" width="4.6" height="4.77" fill="#53c9c8" shape-rendering="crispEdges"/>
<rect x="529.8" y="122.23" width="4.6" height="4.77" fill="#39c2eb" shape-rendering="crispEdges"/>
<rect x="533.8" y="80.5" width="4.6" height="4.77" fill="#3cc3e8" shape-rendering="crispEdges"/>
<rect x="533.8" y="84.67" width="4.6" height="4.77" fill="#57cac3" shape-rendering="crispEdges"/>
<rect x="533.8" y="88.85" width="4.6" height="4.77" fill="#8ed581" shape-rendering="crispEdges"/>
<rect x="533.8" y="93.02" width="4.6" height="4.77" fill="#f0df31" shape-rendering="crispEdges"/>
<rect x="533.8" y="97.19" width="4.6" height="4.77" fill="#f4a627" shape-rendering="crispEdges"/>
<rect x="533.8" y="101.36" width="4.6" height="4.77" fill="#f39326" shape-rendering="crispEdges"/>
<rect x="533.8" y="105.54" width="4.6" height="4.77" fill="#f4b029" shape-rendering="crispEdges"/>
<rect x="533.8" y="109.71" width="4.6" height="4.77" fill="#dfe13e" shape-rendering="crispEdges"/>
<rect x="533.8" y="113.88" width="4.6" height="4.77" fill="#80d391" shape-rendering="crispEdges"/>
<rect x="533.8" y="118.05" width="4.6" height="4.77" fill="#50c8cc" shape-rendering="crispEdges"/>
<rect x="533.8" y="122.23" width="4.6" height="4.77" fill="#38c2ed" shape-rendering="crispEdges"/>
<rect x="537.8" y="80.5" width="4.6" height="4.77" fill="#37c1ed" shape-rendering="crispEdges"/>
<rect x="537.8" y="84.67" width="4.6" height="4.77" fill="#4cc7d1" shape-rendering="crispEdges"/>
<rect x="537.8" y="88.85" width="4.6" height="4.77" fill="#73d0a0" shape-rendering="crispEdges"/>
<rect x="537.8" y="93.02" width="4.6" height="4.77" fill="#b4db60" shape-rendering="crispEdges"/>
<rect x="537.8" y="97.19" width="4.6" height="4.77" fill="#f0dd30" shape-rendering="crispEdges"/>
<rect x="537.8" y="101.36" width="4.6" height="4.77" fill="#f1ce2e" shape-rendering="crispEdges"/>
<rect x="537.8" y="105.54" width="4.6" height="4.77" fill="#eee333" shape-rendering="crispEdges"/>
<rect x="537.8" y="109.71" width="4.6" height="4.77" fill="#a1d86e" shape-rendering="crispEdges"/>
<rect x="537.8" y="113.88" width="4.6" height="4.77" fill="#68cead" shape-rendering="crispEdges"/>
<rect x="537.8" y="118.05" width="4.6" height="4.77" fill="#47c6d9" shape-rendering="crispEdges"/>
<rect x="537.8" y="122.23" width="4.6" height="4.77" fill="#36bfec" shape-rendering="crispEdges"/>
<rect x="541.8" y="80.5" width="4.6" height="4.77" fill="#36bcec" shape-rendering="crispEdges"/>
<rect x="541.8" y="84.67" width="4.6" height="4.77" fill="#3fc4e3" shape-rendering="crispEdges"/>
<rect x="541.8" y="88.85" width="4.6" height="4.77" fill="#55cac5" shape-rendering="crispEdges"/>
<rect x="541.8" y="93.02" width="4.6" height="4.77" fill="#75d19d" shape-rendering="crispEdges"/>
<rect x="541.8" y="97.19" width="4.6" height="4.77" fill="#92d67b" shape-rendering="crispEdges"/>
<rect x="541.8" y="101.36" width="4.6" height="4.77" fill="#a0d86f" shape-rendering="crispEdges"/>
<rect x="541.8" y="105.54" width="4.6" height="4.77" fill="#8dd581" shape-rendering="crispEdges"/>
<rect x="541.8" y="109.71" width="4.6" height="4.77" fill="#6ecfa6" shape-rendering="crispEdges"/>
<rect x="541.8" y="113.88" width="4.6" height="4.77" fill="#50c8cc" shape-rendering="crispEdges"/>
<rect x="541.8" y="118.05" width="4.6" height="4.77" fill="#3bc3e8" shape-rendering="crispEdges"/>
<rect x="541.8" y="122.23" width="4.6" height="4.77" fill="#35bbeb" shape-rendering="crispEdges"/>
<rect x="545.8" y="80.5" width="4.6" height="4.77" fill="#34b8ea" shape-rendering="crispEdges"/>
<rect x="545.8" y="84.67" width="4.6" height="4.77" fill="#36bfed" shape-rendering="crispEdges"/>
<rect x="545.8" y="88.85" width="4.6" height="4.77" fill="#40c4e1" shape-rendering="crispEdges"/>
<rect x="545.8" y="93.02" width="4.6" height="4.77" fill="#4fc8ce" shape-rendering="crispEdges"/>
<rect x="545.8" y="97.19" width="4.6" height="4.77" fill="#5bcbbd" shape-rendering="crispEdges"/>
<rect x="545.8" y="101.36" width="4.6" height="4.77" fill="#5fcdb8" shape-rendering="crispEdges"/>
<rect x="545.8" y="105.54" width="4.6" height="4.77" fill="#59cbc0" shape-rendering="crispEdges"/>
<rect x="545.8" y="109.71" width="4.6" height="4.77" fill="#4cc7d2" shape-rendering="crispEdges"/>
<rect x="545.8" y="113.88" width="4.6" height="4.77" fill="#3dc3e6" shape-rendering="crispEdges"/>
<rect x="545.8" y="118.05" width="4.6" height="4.77" fill="#36bdec" shape-rendering="crispEdges"/>
<rect x="545.8" y="122.23" width="4.6" height="4.77" fill="#34b8ea" shape-rendering="crispEdges"/>
<rect x="549.8" y="80.5" width="4.6" height="4.77" fill="#33b6e9" shape-rendering="crispEdges"/>
<rect x="549.8" y="84.67" width="4.6" height="4.77" fill="#34b9ea" shape-rendering="crispEdges"/>
<rect x="549.8" y="88.85" width="4.6" height="4.77" fill="#36bdec" shape-rendering="crispEdges"/>
<rect x="549.8" y="93.02" width="4.6" height="4.77" fill="#39c2eb" shape-rendering="crispEdges"/>
<rect x="549.8" y="97.19" width="4.6" height="4.77" fill="#3fc4e3" shape-rendering="crispEdges"/>
<rect x="549.8" y="101.36" width="4.6" height="4.77" fill="#41c4e1" shape-rendering="crispEdges"/>
<rect x="549.8" y="105.54" width="4.6" height="4.77" fill="#3ec3e5" shape-rendering="crispEdges"/>
<rect x="549.8" y="109.71" width="4.6" height="4.77" fill="#38c2ed" shape-rendering="crispEdges"/>
<rect x="549.8" y="113.88" width="4.6" height="4.77" fill="#36bcec" shape-rendering="crispEdges"/>
<rect x="549.8" y="118.05" width="4.6" height="4.77" fill="#34b8ea" shape-rendering="crispEdges"/>
<rect x="549.8" y="122.23" width="4.6" height="4.77" fill="#33b5e9" shape-rendering="crispEdges"/>
<rect x="509.8" y="80.5" width="44" height="45.9" fill="none" stroke="#1d1d2a" stroke-width="1.8" />
<rect x="509.8" y="353.2" width="4.6" height="4.63" fill="#33b6e9" shape-rendering="crispEdges"/>
<rect x="509.8" y="357.23" width="4.6" height="4.63" fill="#34b8ea" shape-rendering="crispEdges"/>
<rect x="509.8" y="361.25" width="4.6" height="4.63" fill="#36bdec" shape-rendering="crispEdges"/>
<rect x="509.8" y="365.28" width="4.6" height="4.63" fill="#39c2ec" shape-rendering="crispEdges"/>
<rect x="509.8" y="369.31" width="4.6" height="4.63" fill="#40c4e2" shape-rendering="crispEdges"/>
<rect x="509.8" y="373.34" width="4.6" height="4.63" fill="#46c6da" shape-rendering="crispEdges"/>
<rect x="509.8" y="377.36" width="4.6" height="4.63" fill="#48c6d7" shape-rendering="crispEdges"/>
<rect x="509.8" y="381.39" width="4.6" height="4.63" fill="#45c5db" shape-rendering="crispEdges"/>
<rect x="509.8" y="385.42" width="4.6" height="4.63" fill="#3fc4e3" shape-rendering="crispEdges"/>
<rect x="509.8" y="389.45" width="4.6" height="4.63" fill="#37c1ed" shape-rendering="crispEdges"/>
<rect x="509.8" y="393.47" width="4.6" height="4.63" fill="#35bcec" shape-rendering="crispEdges"/>
<rect x="513.8" y="353.2" width="4.6" height="4.63" fill="#34b8ea" shape-rendering="crispEdges"/>
<rect x="513.8" y="357.23" width="4.6" height="4.63" fill="#36bdec" shape-rendering="crispEdges"/>
<rect x="513.8" y="361.25" width="4.6" height="4.63" fill="#3cc3e8" shape-rendering="crispEdges"/>
<rect x="513.8" y="365.28" width="4.6" height="4.63" fill="#49c7d5" shape-rendering="crispEdges"/>
<rect x="513.8" y="369.31" width="4.6" height="4.63" fill="#58cbc2" shape-rendering="crispEdges"/>
<rect x="513.8" y="373.34" width="4.6" height="4.63" fill="#64cdb2" shape-rendering="crispEdges"/>
<rect x="513.8" y="377.36" width="4.6" height="4.63" fill="#69ceac" shape-rendering="crispEdges"/>
<rect x="513.8" y="381.39" width="4.6" height="4.63" fill="#62cdb5" shape-rendering="crispEdges"/>
<rect x="513.8" y="385.42" width="4.6" height="4.63" fill="#55cac5" shape-rendering="crispEdges"/>
<rect x="513.8" y="389.45" width="4.6" height="4.63" fill="#47c6d9" shape-rendering="crispEdges"/>
<rect x="513.8" y="393.47" width="4.6" height="4.63" fill="#39c2eb" shape-rendering="crispEdges"/>
<rect x="517.8" y="353.2" width="4.6" height="4.63" fill="#35bbeb" shape-rendering="crispEdges"/>
<rect x="517.8" y="357.23" width="4.6" height="4.63" fill="#39c2eb" shape-rendering="crispEdges"/>
<rect x="517.8" y="361.25" width="4.6" height="4.63" fill="#4ac7d4" shape-rendering="crispEdges"/>
<rect x="517.8" y="365.28" width="4.6" height="4.63" fill="#60cdb6" shape-rendering="crispEdges"/>
<rect x="517.8" y="369.31" width="4.6" height="4.63" fill="#81d390" shape-rendering="crispEdges"/>
<rect x="517.8" y="373.34" width="4.6" height="4.63" fill="#9bd773" shape-rendering="crispEdges"/>
<rect x="517.8" y="377.36" width="4.6" height="4.63" fill="#a8d969" shape-rendering="crispEdges"/>
<rect x="517.8" y="381.39" width="4.6" height="4.63" fill="#95d678" shape-rendering="crispEdges"/>
<rect x="517.8" y="385.42" width="4.6" height="4.63" fill="#7bd297" shape-rendering="crispEdges"/>
<rect x="517.8" y="389.45" width="4.6" height="4.63" fill="#5cccbd" shape-rendering="crispEdges"/>
<rect x="517.8" y="393.47" width="4.6" height="4.63" fill="#46c6d9" shape-rendering="crispEdges"/>
<rect x="521.8" y="353.2" width="4.6" height="4.63" fill="#36beec" shape-rendering="crispEdges"/>
<rect x="521.8" y="357.23" width="4.6" height="4.63" fill="#41c4e0" shape-rendering="crispEdges"/>
<rect x="521.8" y="361.25" width="4.6" height="4.63" fill="#59cbc0" shape-rendering="crispEdges"/>
<rect x="521.8" y="365.28" width="4.6" height="4.63" fill="#82d38e" shape-rendering="crispEdges"/>
<rect x="521.8" y="369.31" width="4.6" height="4.63" fill="#c0dd57" shape-rendering="crispEdges"/>
<rect x="521.8" y="373.34" width="4.6" height="4.63" fill="#f0df31" shape-rendering="crispEdges"/>
<rect x="521.8" y="377.36" width="4.6" height="4.63" fill="#f1d32f" shape-rendering="crispEdges"/>
<rect x="521.8" y="381.39" width="4.6" height="4.63" fill="#efe332" shape-rendering="crispEdges"/>
<rect x="521.8" y="385.42" width="4.6" height="4.63" fill="#b3db61" shape-rendering="crispEdges"/>
<rect x="521.8" y="389.45" width="4.6" height="4.63" fill="#7ad198" shape-rendering="crispEdges"/>
<rect x="521.8" y="393.47" width="4.6" height="4.63" fill="#54cac7" shape-rendering="crispEdges"/>
<rect x="525.8" y="353.2" width="4.6" height="4.63" fill="#37c0ed" shape-rendering="crispEdges"/>
<rect x="525.8" y="357.23" width="4.6" height="4.63" fill="#48c6d7" shape-rendering="crispEdges"/>
<rect x="525.8" y="361.25" width="4.6" height="4.63" fill="#68cead" shape-rendering="crispEdges"/>
<rect x="525.8" y="365.28" width="4.6" height="4.63" fill="#a2d86e" shape-rendering="crispEdges"/>
<rect x="525.8" y="369.31" width="4.6" height="4.63" fill="#f0db30" shape-rendering="crispEdges"/>
<rect x="525.8" y="373.34" width="4.6" height="4.63" fill="#f4af29" shape-rendering="crispEdges"/>
<rect x="525.8" y="377.36" width="4.6" height="4.63" fill="#f4a127" shape-rendering="crispEdges"/>
<rect x="525.8" y="381.39" width="4.6" height="4.63" fill="#f3b62a" shape-rendering="crispEdges"/>
<rect x="525.8" y="385.42" width="4.6" height="4.63" fill="#ece334" shape-rendering="crispEdges"/>
<rect x="525.8" y="389.45" width="4.6" height="4.63" fill="#93d67b" shape-rendering="crispEdges"/>
<rect x="525.8" y="393.47" width="4.6" height="4.63" fill="#5fcdb8" shape-rendering="crispEdges"/>
<rect x="529.8" y="353.2" width="4.6" height="4.63" fill="#37c1ed" shape-rendering="crispEdges"/>
<rect x="529.8" y="357.23" width="4.6" height="4.63" fill="#4bc7d3" shape-rendering="crispEdges"/>
<rect x="529.8" y="361.25" width="4.6" height="4.63" fill="#6fcfa5" shape-rendering="crispEdges"/>
<rect x="529.8" y="365.28" width="4.6" height="4.63" fill="#b4db60" shape-rendering="crispEdges"/>
<rect x="529.8" y="369.31" width="4.6" height="4.63" fill="#f2cb2d" shape-rendering="crispEdges"/>
<rect x="529.8" y="373.34" width="4.6" height="4.63" fill="#f39c26" shape-rendering="crispEdges"/>
<rect x="529.8" y="377.36" width="4.6" height="4.63" fill="#f28c25" shape-rendering="crispEdges"/>
<rect x="529.8" y="381.39" width="4.6" height="4.63" fill="#f4a327" shape-rendering="crispEdges"/>
<rect x="529.8" y="385.42" width="4.6" height="4.63" fill="#f1d62f" shape-rendering="crispEdges"/>
<rect x="529.8" y="389.45" width="4.6" height="4.63" fill="#a1d86e" shape-rendering="crispEdges"/>
<rect x="529.8" y="393.47" width="4.6" height="4.63" fill="#65ceb0" shape-rendering="crispEdges"/>
<rect x="533.8" y="353.2" width="4.6" height="4.63" fill="#37c0ed" shape-rendering="crispEdges"/>
<rect x="533.8" y="357.23" width="4.6" height="4.63" fill="#49c6d6" shape-rendering="crispEdges"/>
<rect x="533.8" y="361.25" width="4.6" height="4.63" fill="#69ceac" shape-rendering="crispEdges"/>
<rect x="533.8" y="365.28" width="4.6" height="4.63" fill="#a5d96b" shape-rendering="crispEdges"/>
<rect x="533.8" y="369.31" width="4.6" height="4.63" fill="#f0d830" shape-rendering="crispEdges"/>
<rect x="533.8" y="373.34" width="4.6" height="4.63" fill="#f4ac28" shape-rendering="crispEdges"/>
<rect x="533.8" y="377.36" width="4.6" height="4.63" fill="#f39d26" shape-rendering="crispEdges"/>
<rect x="533.8" y="381.39" width="4.6" height="4.63" fill="#f4b229" shape-rendering="crispEdges"/>
<rect x="533.8" y="385.42" width="4.6" height="4.63" fill="#f0e331" shape-rendering="crispEdges"/>
<rect x="533.8" y="389.45" width="4.6" height="4.63" fill="#94d679" shape-rendering="crispEdges"/>
<rect x="533.8" y="393.47" width="4.6" height="4.63" fill="#60cdb6" shape-rendering="crispEdges"/>
<rect x="537.8" y="353.2" width="4.6" height="4.63" fill="#36beec" shape-rendering="crispEdges"/>
<rect x="537.8" y="357.23" width="4.6" height="4.63" fill="#42c5df" shape-rendering="crispEdges"/>
<rect x="537.8" y="361.25" width="4.6" height="4.63" fill="#5bcbbe" shape-rendering="crispEdges"/>
<rect x="537.8" y="365.28" width="4.6" height="4.63" fill="#85d48b" shape-rendering="crispEdges"/>
<rect x="537.8" y="369.31" width="4.6" height="4.63" fill="#c7de51" shape-rendering="crispEdges"/>
<rect x="537.8" y="373.34" width="4.6" height="4.63" fill="#f0d930" shape-rendering="crispEdges"/>
<rect x="537.8" y="377.36" width="4.6" height="4.63" fill="#f1cd2e" shape-rendering="crispEdges"/>
<rect x="537.8" y="381.39" width="4.6" height="4.63" fill="#f0de31" shape-rendering="crispEdges"/>
<rect x="537.8" y="385.42" width="4.6" height="4.63" fill="#b9dc5c" shape-rendering="crispEdges"/>
<rect x="537.8" y="389.45" width="4.6" height="4.63" fill="#7dd295" shape-rendering="crispEdges"/>
<rect x="537.8" y="393.47" width="4.6" height="4.63" fill="#55cac5" shape-rendering="crispEdges"/>
<rect x="541.8" y="353.2" width="4.6" height="4.63" fill="#35bbeb" shape-rendering="crispEdges"/>
<rect x="541.8" y="357.23" width="4.6" height="4.63" fill="#3ac2ea" shape-rendering="crispEdges"/>
<rect x="541.8" y="361.25" width="4.6" height="4.63" fill="#4bc7d2" shape-rendering="crispEdges"/>
<rect x="541.8" y="365.28" width="4.6" height="4.63" fill="#64cdb2" shape-rendering="crispEdges"/>
<rect x="541.8" y="369.31" width="4.6" height="4.63" fill="#85d48b" shape-rendering="crispEdges"/>
<rect x="541.8" y="373.34" width="4.6" height="4.63" fill="#a4d96c" shape-rendering="crispEdges"/>
<rect x="541.8" y="377.36" width="4.6" height="4.63" fill="#b1db62" shape-rendering="crispEdges"/>
<rect x="541.8" y="381.39" width="4.6" height="4.63" fill="#9ed871" shape-rendering="crispEdges"/>
<rect x="541.8" y="385.42" width="4.6" height="4.63" fill="#7fd292" shape-rendering="crispEdges"/>
<rect x="541.8" y="389.45" width="4.6" height="4.63" fill="#5eccba" shape-rendering="crispEdges"/>
<rect x="541.8" y="393.47" width="4.6" height="4.63" fill="#48c6d8" shape-rendering="crispEdges"/>
<rect x="545.8" y="353.2" width="4.6" height="4.63" fill="#34b8ea" shape-rendering="crispEdges"/>
<rect x="545.8" y="357.23" width="4.6" height="4.63" fill="#36bdec" shape-rendering="crispEdges"/>
<rect x="545.8" y="361.25" width="4.6" height="4.63" fill="#3dc3e6" shape-rendering="crispEdges"/>
<rect x="545.8" y="365.28" width="4.6" height="4.63" fill="#4bc7d2" shape-rendering="crispEdges"/>
<rect x="545.8" y="369.31" width="4.6" height="4.63" fill="#5acbbe" shape-rendering="crispEdges"/>
<rect x="545.8" y="373.34" width="4.6" height="4.63" fill="#69ceac" shape-rendering="crispEdges"/>
<rect x="545.8" y="377.36" width="4.6" height="4.63" fill="#6ecfa6" shape-rendering="crispEdges"/>
<rect x="545.8" y="381.39" width="4.6" height="4.63" fill="#66ceaf" shape-rendering="crispEdges"/>
<rect x="545.8" y="385.42" width="4.6" height="4.63" fill="#58cbc2" shape-rendering="crispEdges"/>
<rect x="545.8" y="389.45" width="4.6" height="4.63" fill="#49c6d6" shape-rendering="crispEdges"/>
<rect x="545.8" y="393.47" width="4.6" height="4.63" fill="#3bc2e9" shape-rendering="crispEdges"/>
<rect x="549.8" y="353.2" width="4.6" height="4.63" fill="#33b6e9" shape-rendering="crispEdges"/>
<rect x="549.8" y="357.23" width="4.6" height="4.63" fill="#34b9ea" shape-rendering="crispEdges"/>
<rect x="549.8" y="361.25" width="4.6" height="4.63" fill="#36bdec" shape-rendering="crispEdges"/>
<rect x="549.8" y="365.28" width="4.6" height="4.63" fill="#3ac2ea" shape-rendering="crispEdges"/>
<rect x="549.8" y="369.31" width="4.6" height="4.63" fill="#42c5df" shape-rendering="crispEdges"/>
<rect x="549.8" y="373.34" width="4.6" height="4.63" fill="#49c6d6" shape-rendering="crispEdges"/>
<rect x="549.8" y="377.36" width="4.6" height="4.63" fill="#4bc7d4" shape-rendering="crispEdges"/>
<rect x="549.8" y="381.39" width="4.6" height="4.63" fill="#48c6d8" shape-rendering="crispEdges"/>
<rect x="549.8" y="385.42" width="4.6" height="4.63" fill="#41c4e1" shape-rendering="crispEdges"/>
<rect x="549.8" y="389.45" width="4.6" height="4.63" fill="#38c2ec" shape-rendering="crispEdges"/>
<rect x="549.8" y="393.47" width="4.6" height="4.63" fill="#36bcec" shape-rendering="crispEdges"/>
<rect x="509.8" y="353.2" width="44" height="44.3" fill="none" stroke="#1d1d2a" stroke-width="1.8" />
<rect x="73.7" y="175" width="7.5" height="7.6" fill="#55c0cc" stroke="#111" stroke-width="1.8" />
<rect x="82.1" y="307.5" width="8.5" height="8.5" fill="#3f8fd6" stroke="#111" stroke-width="1.8" />
<rect x="295.5" y="185.9" width="8.9" height="7.8" fill="#3f9ce0" stroke="#111" stroke-width="1.8" />
<rect x="294.8" y="296.3" width="8.5" height="7.7" fill="#3fa4e2" stroke="#111" stroke-width="1.8" />
<rect x="508" y="173.4" width="8.2" height="8.9" fill="#f0a030" stroke="#111" stroke-width="1.8" />
<rect x="503.4" y="289.8" width="8.2" height="8.2" fill="#f0a030" stroke="#111" stroke-width="1.8" />
<line x1="105.4" y1="214.6" x2="95.37" y2="235.67" stroke="#fff" stroke-width="2.6"/>
<path d="M91.5,243.8 L91.53,231.63 L94.94,236.58 L100.92,236.1 Z" fill="#fff"/>
<line x1="213.7" y1="211.3" x2="203.49" y2="233.33" stroke="#fff" stroke-width="2.6"/>
<path d="M199.7,241.5 L199.61,229.33 L203.06,234.24 L209.04,233.71 Z" fill="#fff"/>
<line x1="319.6" y1="217.4" x2="309.07" y2="239.48" stroke="#fff" stroke-width="2.6"/>
<path d="M305.2,247.6 L305.24,235.43 L308.64,240.38 L314.63,239.91 Z" fill="#fff"/>
<line x1="436.6" y1="213.7" x2="425.59" y2="236.68" stroke="#fff" stroke-width="2.6"/>
<path d="M421.7,244.8 L421.76,232.63 L425.16,237.59 L431.14,237.13 Z" fill="#fff"/>
<line x1="528.6" y1="198.8" x2="518.39" y2="220.83" stroke="#fff" stroke-width="2.6"/>
<path d="M514.6,229 L514.51,216.83 L517.96,221.74 L523.94,221.21 Z" fill="#fff"/>
<line x1="628" y1="204.4" x2="617.65" y2="227.77" stroke="#fff" stroke-width="2.6"/>
<path d="M614,236 L613.7,223.84 L617.24,228.69 L623.21,228.05 Z" fill="#fff"/>
<rect x="15" y="79" width="635" height="322" fill="none" stroke="#141414" stroke-width="1.6" />
<rect x="672" y="266.6" width="29.5" height="134.2" fill="url(#cbar)" stroke="none" stroke-width="1.3" />
<text x="655.8" y="241.8" font-size="26" text-anchor="start" fill="#231f20"  textLength="110.7" lengthAdjust="spacingAndGlyphs">MBq ml<tspan font-size="17" dy="-11">−1</tspan></text>
<text x="710.8" y="276.6" font-size="21" text-anchor="start" fill="#231f20"  textLength="34.5" lengthAdjust="spacingAndGlyphs">0.6</text>
<text x="710.8" y="318.4" font-size="21" text-anchor="start" fill="#231f20"  textLength="34.5" lengthAdjust="spacingAndGlyphs">0.4</text>
<text x="710.8" y="359.7" font-size="21" text-anchor="start" fill="#231f20"  textLength="34.5" lengthAdjust="spacingAndGlyphs">0.2</text>
<text x="710.8" y="400" font-size="21" text-anchor="start" fill="#231f20"  textLength="12.8" lengthAdjust="spacingAndGlyphs">0</text>
<text x="818" y="34" font-size="40" text-anchor="start" fill="#1a1718" font-weight="bold" stroke="#1a1718" stroke-width="1.1">b</text>
<line x1="907.2" y1="69.3" x2="907.2" y2="308" stroke="#6a6a6a" stroke-width="1.5" />
<line x1="899.4" y1="308" x2="907.2" y2="308" stroke="#6a6a6a" stroke-width="1.5" />
<text x="888.1" y="317.2" font-size="23.4" text-anchor="end" fill="#231f20"  textLength="13.2" lengthAdjust="spacingAndGlyphs">0</text>
<line x1="899.4" y1="248.5" x2="907.2" y2="248.5" stroke="#6a6a6a" stroke-width="1.5" />
<text x="888.1" y="257.7" font-size="23.4" text-anchor="end" fill="#231f20"  textLength="32.8" lengthAdjust="spacingAndGlyphs">0.5</text>
<line x1="899.4" y1="189" x2="907.2" y2="189" stroke="#6a6a6a" stroke-width="1.5" />
<text x="888.1" y="198.2" font-size="23.4" text-anchor="end" fill="#231f20"  textLength="32.8" lengthAdjust="spacingAndGlyphs">1.0</text>
<line x1="899.4" y1="129.5" x2="907.2" y2="129.5" stroke="#6a6a6a" stroke-width="1.5" />
<text x="888.1" y="138.7" font-size="23.4" text-anchor="end" fill="#231f20"  textLength="32.8" lengthAdjust="spacingAndGlyphs">1.5</text>
<line x1="899.4" y1="70" x2="907.2" y2="70" stroke="#6a6a6a" stroke-width="1.5" />
<text x="888.1" y="79.2" font-size="23.4" text-anchor="end" fill="#231f20"  textLength="32.8" lengthAdjust="spacingAndGlyphs">2.0</text>
<path d="M919.7,308 V187.45 H943.7 V308" fill="none" stroke="#555" stroke-width="1.4"/>
<path d="M957.3,308 V158.42 H981 V308" fill="none" stroke="#6a93bd" stroke-width="1.4"/>
<path d="M994,308 V127.12 H1018 V308" fill="none" stroke="#c0494d" stroke-width="1.4"/>
<line x1="899" y1="308" x2="1031.7" y2="308" stroke="#6a6a6a" stroke-width="1.6" />
<line x1="931.7" y1="197.33" x2="931.7" y2="177.1" stroke="#555" stroke-width="1.4" />
<line x1="925.2" y1="197.33" x2="938.2" y2="197.33" stroke="#555" stroke-width="1.4" />
<line x1="925.2" y1="177.1" x2="938.2" y2="177.1" stroke="#555" stroke-width="1.4" />
<line x1="969.2" y1="171.15" x2="969.2" y2="146.16" stroke="#555" stroke-width="1.4" />
<line x1="962.2" y1="171.15" x2="976.2" y2="171.15" stroke="#555" stroke-width="1.4" />
<line x1="962.2" y1="146.16" x2="976.2" y2="146.16" stroke="#555" stroke-width="1.4" />
<line x1="1006" y1="139.02" x2="1006" y2="114.03" stroke="#555" stroke-width="1.4" />
<line x1="999" y1="139.02" x2="1013" y2="139.02" stroke="#555" stroke-width="1.4" />
<line x1="999" y1="114.03" x2="1013" y2="114.03" stroke="#555" stroke-width="1.4" />
<circle cx="931.7" cy="184.3" r="2.6" fill="#fff" stroke="#222" stroke-width="1.2"/>
<circle cx="926.7" cy="195.3" r="2.6" fill="#fff" stroke="#222" stroke-width="1.2"/>
<circle cx="936.3" cy="191.3" r="2.6" fill="#fff" stroke="#222" stroke-width="1.2"/>
<circle cx="958.9" cy="140.6" r="3.4" fill="#1d1d1d"/>
<circle cx="965.1" cy="145.3" r="3.4" fill="#1d1d1d"/>
<circle cx="972.3" cy="143.2" r="3.4" fill="#1d1d1d"/>
<circle cx="969.2" cy="155" r="3.4" fill="#1d1d1d"/>
<circle cx="969.2" cy="162" r="3.4" fill="#1d1d1d"/>
<circle cx="966.5" cy="167.8" r="3.4" fill="#1d1d1d"/>
<circle cx="972.3" cy="168.5" r="3.4" fill="#1d1d1d"/>
<circle cx="958.9" cy="171.9" r="3.4" fill="#1d1d1d"/>
<circle cx="978.2" cy="168.6" r="3.4" fill="#1d1d1d"/>
<rect x="992.8" y="109.7" width="6.6" height="6.6" fill="#1d1d1d" stroke="none" stroke-width="1.3" />
<rect x="1002.7" y="114.3" width="6.6" height="6.6" fill="#1d1d1d" stroke="none" stroke-width="1.3" />
<rect x="992.8" y="120.8" width="6.6" height="6.6" fill="#1d1d1d" stroke="none" stroke-width="1.3" />
<rect x="1002.7" y="125.3" width="6.6" height="6.6" fill="#1d1d1d" stroke="none" stroke-width="1.3" />
<rect x="1012.7" y="125.3" width="6.6" height="6.6" fill="#1d1d1d" stroke="none" stroke-width="1.3" />
<rect x="1002.7" y="147" width="6.6" height="6.6" fill="#1d1d1d" stroke="none" stroke-width="1.3" />
<line x1="913" y1="69.4" x2="1018.6" y2="69.4" stroke="#444" stroke-width="1.3" />
<line x1="956" y1="90.3" x2="1018.6" y2="90.3" stroke="#444" stroke-width="1.3" />
<text x="1025.1" y="74.9" font-size="22.5" text-anchor="start" fill="#231f20"  textLength="96" lengthAdjust="spacingAndGlyphs"><tspan font-style="italic">P</tspan> &lt; 0.001</text>
<text x="1025.1" y="95.5" font-size="22.5" text-anchor="start" fill="#231f20"  textLength="101" lengthAdjust="spacingAndGlyphs"><tspan font-style="italic">P</tspan> = 0.005</text>
<text transform="translate(839,234.5) rotate(-90)" font-size="27" fill="#231f20" textLength="90.5" lengthAdjust="spacingAndGlyphs">SUV<tspan font-size="19" dy="6">max</tspan></text>
<text transform="translate(944,326) rotate(-45)" font-size="27.8" text-anchor="end" fill="#231f20">C57BL/6</text>
<text transform="translate(982.5,331) rotate(-45)" font-size="27.8" text-anchor="end" fill="#3b6b97" font-style="italic">Pdcd1<tspan font-size="17" dy="-9" font-style="normal">+/+</tspan></text>
<text transform="translate(1024,331) rotate(-45)" font-size="27.8" text-anchor="end" fill="#8e1a1d" font-style="italic">Pdcd1<tspan font-size="17" dy="-9" font-style="normal">−/−</tspan></text>
<text x="1187" y="34" font-size="40" text-anchor="start" fill="#1a1718" font-weight="bold" stroke="#1a1718" stroke-width="1.1">c</text>
<rect x="1275.8" y="84.3" width="220.2" height="220.2" fill="none" stroke="#6a6a6a" stroke-width="1.5" />
<line x1="1267.8" y1="301.8" x2="1275.8" y2="301.8" stroke="#6a6a6a" stroke-width="1.5" />
<text x="1257.8" y="309.8" font-size="23" text-anchor="end" fill="#231f20" >0</text>
<line x1="1267.8" y1="266.4" x2="1275.8" y2="266.4" stroke="#6a6a6a" stroke-width="1.5" />
<text x="1257.8" y="274.4" font-size="23" text-anchor="end" fill="#231f20" >2</text>
<line x1="1267.8" y1="231" x2="1275.8" y2="231" stroke="#6a6a6a" stroke-width="1.5" />
<text x="1257.8" y="239" font-size="23" text-anchor="end" fill="#231f20" >4</text>
<line x1="1267.8" y1="195.6" x2="1275.8" y2="195.6" stroke="#6a6a6a" stroke-width="1.5" />
<text x="1257.8" y="203.6" font-size="23" text-anchor="end" fill="#231f20" >6</text>
<line x1="1267.8" y1="160.2" x2="1275.8" y2="160.2" stroke="#6a6a6a" stroke-width="1.5" />
<text x="1257.8" y="168.2" font-size="23" text-anchor="end" fill="#231f20" >8</text>
<line x1="1267.8" y1="124.8" x2="1275.8" y2="124.8" stroke="#6a6a6a" stroke-width="1.5" />
<text x="1257.8" y="132.8" font-size="23" text-anchor="end" fill="#231f20" >10</text>
<line x1="1267.8" y1="89.4" x2="1275.8" y2="89.4" stroke="#6a6a6a" stroke-width="1.5" />
<text x="1257.8" y="97.4" font-size="23" text-anchor="end" fill="#231f20" >12</text>
<line x1="1281.9" y1="304.5" x2="1281.9" y2="312" stroke="#6a6a6a" stroke-width="1.5" />
<text transform="translate(1291.4,330.5) rotate(-45)" font-size="23.5" text-anchor="end" fill="#231f20">190</text>
<line x1="1316.9" y1="304.5" x2="1316.9" y2="312" stroke="#6a6a6a" stroke-width="1.5" />
<text transform="translate(1326.4,330.5) rotate(-45)" font-size="23.5" text-anchor="end" fill="#231f20">185</text>
<line x1="1351.9" y1="304.5" x2="1351.9" y2="312" stroke="#6a6a6a" stroke-width="1.5" />
<text transform="translate(1361.4,330.5) rotate(-45)" font-size="23.5" text-anchor="end" fill="#231f20">180</text>
<line x1="1386.9" y1="304.5" x2="1386.9" y2="312" stroke="#6a6a6a" stroke-width="1.5" />
<text transform="translate(1396.4,330.5) rotate(-45)" font-size="23.5" text-anchor="end" fill="#231f20">175</text>
<line x1="1421.9" y1="304.5" x2="1421.9" y2="312" stroke="#6a6a6a" stroke-width="1.5" />
<text transform="translate(1431.4,330.5) rotate(-45)" font-size="23.5" text-anchor="end" fill="#231f20">170</text>
<line x1="1456.9" y1="304.5" x2="1456.9" y2="312" stroke="#6a6a6a" stroke-width="1.5" />
<text transform="translate(1466.4,330.5) rotate(-45)" font-size="23.5" text-anchor="end" fill="#231f20">165</text>
<line x1="1491.9" y1="304.5" x2="1491.9" y2="312" stroke="#6a6a6a" stroke-width="1.5" />
<text transform="translate(1501.4,330.5) rotate(-45)" font-size="23.5" text-anchor="end" fill="#231f20">160</text>
<polyline points="1276.8,250.52 1277.75,229.38 1278.7,221.23 1279.65,241.11 1280.59,251.85 1281.54,235.19 1282.49,228.02 1283.44,219.85 1284.39,250.28 1285.34,251.27 1286.29,224.99 1287.24,228.02 1288.18,214.11 1289.13,221.33 1290.08,235.52 1291.03,237.75 1291.98,200.54 1292.93,237.87 1293.88,244.29 1294.83,248.84 1295.77,232.74 1296.72,232.05 1297.67,238.33 1298.62,234.61 1299.57,230.22 1300.52,224.77 1301.47,219.55 1302.41,230.73 1303.36,255.75 1304.31,224.29 1305.26,250.32 1306.21,234.58 1307.16,249.72 1308.11,231.55 1309.06,239.65 1310,227.57 1310.95,195.57 1311.9,226.67 1312.85,216.97 1313.8,221.59 1314.75,206.98 1315.7,188.19 1316.65,173.76 1317.59,178.71 1318.54,197.9 1319.49,213.95 1320.44,216.95 1321.39,230.95 1322.34,209.81 1323.29,234.39 1324.23,222.8 1325.18,231.18 1326.13,220.56 1327.08,239.54 1328.03,220.38 1328.98,234.43 1329.93,217.29 1330.88,225.41 1331.82,231.63 1332.77,243.51 1333.72,223.8 1334.67,227.71 1335.62,212.61 1336.57,238.74 1337.52,226.72 1338.47,227.36 1339.41,230.32 1340.36,231.32 1341.31,231.69 1342.26,241.92 1343.21,247.4 1344.16,239.33 1345.11,226.41 1346.05,214.34 1347,221.36 1347.95,220.36 1348.9,223.99 1349.85,225.04 1350.8,231.82 1351.75,224.08 1352.7,210.88 1353.64,238.57 1354.59,243.41 1355.54,208.42 1356.49,231.04 1357.44,221.46 1358.39,222.74 1359.34,249.27 1360.29,202.14 1361.23,210.82 1362.18,231.94 1363.13,224.34 1364.08,232.6 1365.03,245.97 1365.98,235.76 1366.93,229.33 1367.87,219.52 1368.82,224.89 1369.77,233.48 1370.72,216.35 1371.67,244.31 1372.62,223.77 1373.57,219.55 1374.52,238.09 1375.46,257.88 1376.41,246.19 1377.36,231.08 1378.31,227.23 1379.26,213.76 1380.21,247.42 1381.16,234.14 1382.11,225.6 1383.05,236.21 1384,265.32 1384.95,223.48 1385.9,203.65 1386.85,220.84 1387.8,246.08 1388.75,239.41 1389.69,231.05 1390.64,201.28 1391.59,225.8 1392.54,232.36 1393.49,213.43 1394.44,234.81 1395.39,209.4 1396.34,242.54 1397.28,239.71 1398.23,224.1 1399.18,214.9 1400.13,224.79 1401.08,229.22 1402.03,256.32 1402.98,241.87 1403.93,240.3 1404.87,239.01 1405.82,224.58 1406.77,235.71 1407.72,221.36 1408.67,229.41 1409.62,233.54 1410.57,227.11 1411.51,222.2 1412.46,215.8 1413.41,226.36 1414.36,218.87 1415.31,217.49 1416.26,191.93 1417.21,169.35 1418.16,137.19 1419.1,115.11 1420.05,139.63 1421,172.18 1421.95,195.38 1422.9,195.78 1423.85,214.94 1424.8,229.32 1425.75,250.72 1426.69,211.27 1427.64,226.31 1428.59,248.73 1429.54,228.24 1430.49,250.85 1431.44,188.26 1432.39,217.91 1433.33,225.04 1434.28,234.78 1435.23,260.12 1436.18,234.58 1437.13,253.14 1438.08,225.55 1439.03,261.07 1439.98,245.25 1440.92,217.7 1441.87,212.23 1442.82,249.12 1443.77,253.81 1444.72,222.32 1445.67,222.71 1446.62,246.85 1447.57,243.06 1448.51,243.1 1449.46,249.65 1450.41,243 1451.36,217.64 1452.31,225.03 1453.26,207.06 1454.21,235.29 1455.15,235.96 1456.1,247.14 1457.05,235.84 1458,251.54 1458.95,257.69 1459.9,225.05 1460.85,215.25 1461.8,223.23 1462.74,216.69 1463.69,230.96 1464.64,243.8 1465.59,233.17 1466.54,239.27 1467.49,249.03 1468.44,256.72 1469.39,253.95 1470.33,234.43 1471.28,232.37 1472.23,240.64 1473.18,215.47 1474.13,232.01 1475.08,226.67 1476.03,218.26 1476.97,245.25 1477.92,260.47 1478.87,224.44 1479.82,243.52 1480.77,217.05 1481.72,229.94 1482.67,221.09 1483.62,224.31 1484.56,261.98 1485.51,224.9 1486.46,243.35 1487.41,244.45 1488.36,240.2 1489.31,224.26 1490.26,222.72 1491.21,221.04 1492.15,256.44 1493.1,242.27 1494.05,265.93 1495,235.8" fill="none" stroke="#d6d6d6" stroke-width="1.1" stroke-linejoin="round" />
<polyline points="1276.8,234.37 1277.16,234.37 1277.53,234.36 1277.89,234.36 1278.25,234.36 1278.62,234.35 1278.98,234.35 1279.35,234.35 1279.71,234.34 1280.07,234.34 1280.44,234.34 1280.8,234.33 1281.16,234.33 1281.53,234.33 1281.89,234.32 1282.25,234.32 1282.62,234.31 1282.98,234.31 1283.35,234.3 1283.71,234.3 1284.07,234.29 1284.44,234.29 1284.8,234.28 1285.16,234.28 1285.53,234.27 1285.89,234.27 1286.26,234.26 1286.62,234.26 1286.98,234.25 1287.35,234.24 1287.71,234.24 1288.07,234.23 1288.44,234.22 1288.8,234.21 1289.16,234.2 1289.53,234.2 1289.89,234.19 1290.26,234.18 1290.62,234.17 1290.98,234.16 1291.35,234.15 1291.71,234.14 1292.07,234.13 1292.44,234.12 1292.8,234.1 1293.16,234.09 1293.53,234.08 1293.89,234.06 1294.26,234.05 1294.62,234.03 1294.98,234.02 1295.35,234 1295.71,233.98 1296.07,233.97 1296.44,233.95 1296.8,233.93 1297.17,233.9 1297.53,233.88 1297.89,233.86 1298.26,233.83 1298.62,233.8 1298.98,233.78 1299.35,233.74 1299.71,233.71 1300.07,233.68 1300.44,233.64 1300.8,233.6 1301.17,233.56 1301.53,233.52 1301.89,233.47 1302.26,233.42 1302.62,233.36 1302.98,233.3 1303.35,233.24 1303.71,233.17 1304.08,233.09 1304.44,233.01 1304.8,232.92 1305.17,232.82 1305.53,232.72 1305.89,232.6 1306.26,232.47 1306.62,232.33 1306.98,232.17 1307.35,232 1307.71,231.81 1308.08,231.59 1308.44,231.35 1308.8,231.07 1309.17,230.76 1309.53,230.41 1309.89,230.01 1310.26,229.54 1310.62,229 1310.98,228.37 1311.35,227.63 1311.71,226.76 1312.08,225.72 1312.44,224.47 1312.8,222.96 1313.17,221.11 1313.53,218.84 1313.89,216.02 1314.26,212.51 1314.62,208.15 1314.98,202.8 1315.35,196.41 1315.71,189.18 1316.08,181.85 1316.44,175.78 1316.8,172.7 1317.17,173.67 1317.53,178.36 1317.89,185.23 1318.26,192.64 1318.62,199.53 1318.99,205.44 1319.35,210.31 1319.71,214.24 1320.08,217.41 1320.44,219.96 1320.8,222.02 1321.17,223.7 1321.53,225.08 1321.89,226.22 1322.26,227.18 1322.62,227.98 1322.99,228.67 1323.35,229.25 1323.71,229.75 1324.08,230.19 1324.44,230.57 1324.8,230.9 1325.17,231.19 1325.53,231.45 1325.89,231.68 1326.26,231.88 1326.62,232.07 1326.99,232.23 1327.35,232.38 1327.71,232.51 1328.08,232.64 1328.44,232.75 1328.8,232.85 1329.17,232.94 1329.53,233.03 1329.9,233.1 1330.26,233.18 1330.62,233.24 1330.99,233.3 1331.35,233.36 1331.71,233.41 1332.08,233.46 1332.44,233.51 1332.8,233.55 1333.17,233.59 1333.53,233.63 1333.9,233.66 1334.26,233.7 1334.62,233.73 1334.99,233.76 1335.35,233.78 1335.71,233.81 1336.08,233.83 1336.44,233.86 1336.81,233.88 1337.17,233.9 1337.53,233.92 1337.9,233.93 1338.26,233.95 1338.62,233.97 1338.99,233.98 1339.35,234 1339.71,234.01 1340.08,234.03 1340.44,234.04 1340.81,234.05 1341.17,234.06 1341.53,234.07 1341.9,234.08 1342.26,234.09 1342.62,234.1 1342.99,234.11 1343.35,234.12 1343.71,234.13 1344.08,234.14 1344.44,234.14 1344.81,234.15 1345.17,234.16 1345.53,234.17 1345.9,234.17 1346.26,234.18 1346.62,234.18 1346.99,234.19 1347.35,234.19 1347.71,234.2 1348.08,234.2 1348.44,234.21 1348.81,234.21 1349.17,234.22 1349.53,234.22 1349.9,234.23 1350.26,234.23 1350.62,234.23 1350.99,234.24 1351.35,234.24 1351.72,234.24 1352.08,234.25 1352.44,234.25 1352.81,234.25 1353.17,234.25 1353.53,234.26 1353.9,234.26 1354.26,234.26 1354.62,234.26 1354.99,234.26 1355.35,234.27 1355.72,234.27 1356.08,234.27 1356.44,234.27 1356.81,234.27 1357.17,234.27 1357.53,234.27 1357.9,234.28 1358.26,234.28 1358.62,234.28 1358.99,234.28 1359.35,234.28 1359.72,234.28 1360.08,234.28 1360.44,234.28 1360.81,234.28 1361.17,234.28 1361.53,234.28 1361.9,234.28 1362.26,234.28 1362.63,234.28 1362.99,234.28 1363.35,234.28 1363.72,234.28 1364.08,234.28 1364.44,234.28 1364.81,234.28 1365.17,234.28 1365.53,234.28 1365.9,234.28 1366.26,234.28 1366.63,234.28 1366.99,234.28 1367.35,234.27 1367.72,234.27 1368.08,234.27 1368.44,234.27 1368.81,234.27 1369.17,234.27 1369.54,234.27 1369.9,234.26 1370.26,234.26 1370.63,234.26 1370.99,234.26 1371.35,234.26 1371.72,234.26 1372.08,234.25 1372.44,234.25 1372.81,234.25 1373.17,234.25 1373.54,234.24 1373.9,234.24 1374.26,234.24 1374.63,234.24 1374.99,234.23 1375.35,234.23 1375.72,234.23 1376.08,234.22 1376.44,234.22 1376.81,234.22 1377.17,234.21 1377.54,234.21 1377.9,234.2 1378.26,234.2 1378.63,234.2 1378.99,234.19 1379.35,234.19 1379.72,234.18 1380.08,234.18 1380.44,234.17 1380.81,234.17 1381.17,234.16 1381.54,234.16 1381.9,234.15 1382.26,234.14 1382.63,234.14 1382.99,234.13 1383.35,234.13 1383.72,234.12 1384.08,234.11 1384.45,234.1 1384.81,234.1 1385.17,234.09 1385.54,234.08 1385.9,234.07 1386.26,234.06 1386.63,234.05 1386.99,234.04 1387.35,234.04 1387.72,234.02 1388.08,234.01 1388.45,234 1388.81,233.99 1389.17,233.98 1389.54,233.97 1389.9,233.96 1390.26,233.94 1390.63,233.93 1390.99,233.91 1391.36,233.9 1391.72,233.88 1392.08,233.87 1392.45,233.85 1392.81,233.83 1393.17,233.82 1393.54,233.8 1393.9,233.78 1394.26,233.76 1394.63,233.73 1394.99,233.71 1395.36,233.69 1395.72,233.66 1396.08,233.64 1396.45,233.61 1396.81,233.58 1397.17,233.55 1397.54,233.52 1397.9,233.48 1398.26,233.45 1398.63,233.41 1398.99,233.37 1399.36,233.33 1399.72,233.29 1400.08,233.24 1400.45,233.19 1400.81,233.14 1401.17,233.08 1401.54,233.03 1401.9,232.96 1402.26,232.9 1402.63,232.83 1402.99,232.75 1403.36,232.67 1403.72,232.59 1404.08,232.49 1404.45,232.39 1404.81,232.29 1405.17,232.17 1405.54,232.05 1405.9,231.91 1406.27,231.77 1406.63,231.61 1406.99,231.44 1407.36,231.25 1407.72,231.04 1408.08,230.82 1408.45,230.57 1408.81,230.3 1409.17,229.99 1409.54,229.66 1409.9,229.28 1410.27,228.87 1410.63,228.4 1410.99,227.87 1411.36,227.27 1411.72,226.58 1412.08,225.8 1412.45,224.9 1412.81,223.86 1413.17,222.64 1413.54,221.22 1413.9,219.53 1414.27,217.52 1414.63,215.11 1414.99,212.19 1415.36,208.61 1415.72,204.22 1416.08,198.77 1416.45,192 1416.81,183.58 1417.18,173.24 1417.54,160.87 1417.9,146.87 1418.27,132.6 1418.63,120.7 1418.99,114.51 1419.36,116.2 1419.72,125.14 1420.08,138.41 1420.45,152.82 1420.81,166.25 1421.18,177.78 1421.54,187.3 1421.9,194.99 1422.27,201.18 1422.63,206.16 1422.99,210.19 1423.36,213.47 1423.72,216.17 1424.09,218.4 1424.45,220.27 1424.81,221.84 1425.18,223.18 1425.54,224.32 1425.9,225.3 1426.27,226.14 1426.63,226.88 1426.99,227.53 1427.36,228.1 1427.72,228.61 1428.09,229.05 1428.45,229.45 1428.81,229.81 1429.18,230.13 1429.54,230.42 1429.9,230.69 1430.27,230.92 1430.63,231.14 1430.99,231.34 1431.36,231.52 1431.72,231.69 1432.09,231.84 1432.45,231.98 1432.81,232.11 1433.18,232.23 1433.54,232.35 1433.9,232.45 1434.27,232.55 1434.63,232.64 1434.99,232.72 1435.36,232.8 1435.72,232.87 1436.09,232.94 1436.45,233.01 1436.81,233.07 1437.18,233.13 1437.54,233.18 1437.9,233.23 1438.27,233.28 1438.63,233.32 1439,233.37 1439.36,233.41 1439.72,233.45 1440.09,233.48 1440.45,233.52 1440.81,233.55 1441.18,233.58 1441.54,233.61 1441.9,233.64 1442.27,233.67 1442.63,233.7 1443,233.72 1443.36,233.74 1443.72,233.77 1444.09,233.79 1444.45,233.81 1444.81,233.83 1445.18,233.85 1445.54,233.87 1445.9,233.89 1446.27,233.9 1446.63,233.92 1447,233.93 1447.36,233.95 1447.72,233.96 1448.09,233.98 1448.45,233.99 1448.81,234 1449.18,234.02 1449.54,234.03 1449.91,234.04 1450.27,234.05 1450.63,234.06 1451,234.07 1451.36,234.08 1451.72,234.09 1452.09,234.1 1452.45,234.11 1452.81,234.12 1453.18,234.13 1453.54,234.14 1453.91,234.15 1454.27,234.15 1454.63,234.16 1455,234.17 1455.36,234.18 1455.72,234.18 1456.09,234.19 1456.45,234.2 1456.82,234.2 1457.18,234.21 1457.54,234.22 1457.91,234.22 1458.27,234.23 1458.63,234.23 1459,234.24 1459.36,234.24 1459.72,234.25 1460.09,234.25 1460.45,234.26 1460.82,234.26 1461.18,234.27 1461.54,234.27 1461.91,234.28 1462.27,234.28 1462.63,234.29 1463,234.29 1463.36,234.29 1463.72,234.3 1464.09,234.3 1464.45,234.3 1464.82,234.31 1465.18,234.31 1465.54,234.32 1465.91,234.32 1466.27,234.32 1466.63,234.33 1467,234.33 1467.36,234.33 1467.72,234.33 1468.09,234.34 1468.45,234.34 1468.82,234.34 1469.18,234.35 1469.54,234.35 1469.91,234.35 1470.27,234.35 1470.63,234.36 1471,234.36 1471.36,234.36 1471.73,234.36 1472.09,234.37 1472.45,234.37 1472.82,234.37 1473.18,234.37 1473.54,234.37 1473.91,234.38 1474.27,234.38 1474.63,234.38 1475,234.38 1475.36,234.38 1475.73,234.39 1476.09,234.39 1476.45,234.39 1476.82,234.39 1477.18,234.39 1477.54,234.4 1477.91,234.4 1478.27,234.4 1478.63,234.4 1479,234.4 1479.36,234.4 1479.73,234.41 1480.09,234.41 1480.45,234.41 1480.82,234.41 1481.18,234.41 1481.54,234.41 1481.91,234.41 1482.27,234.42 1482.64,234.42 1483,234.42 1483.36,234.42 1483.73,234.42 1484.09,234.42 1484.45,234.42 1484.82,234.42 1485.18,234.43 1485.54,234.43 1485.91,234.43 1486.27,234.43 1486.64,234.43 1487,234.43 1487.36,234.43 1487.73,234.43 1488.09,234.43 1488.45,234.44 1488.82,234.44 1489.18,234.44 1489.55,234.44 1489.91,234.44 1490.27,234.44 1490.64,234.44 1491,234.44 1491.36,234.44 1491.73,234.44 1492.09,234.45 1492.45,234.45 1492.82,234.45 1493.18,234.45 1493.55,234.45 1493.91,234.45 1494.27,234.45 1494.64,234.45 1495,234.45" fill="none" stroke="#1d1d1d" stroke-width="1.5" stroke-linejoin="round" />
<rect x="1555.7" y="84.3" width="220.7" height="220" fill="none" stroke="#6a6a6a" stroke-width="1.5" />
<line x1="1547.7" y1="301.4" x2="1555.7" y2="301.4" stroke="#6a6a6a" stroke-width="1.5" />
<text x="1537.7" y="309.4" font-size="23" text-anchor="end" fill="#231f20" >0</text>
<line x1="1547.7" y1="259" x2="1555.7" y2="259" stroke="#6a6a6a" stroke-width="1.5" />
<text x="1537.7" y="267" font-size="23" text-anchor="end" fill="#231f20" >2</text>
<line x1="1547.7" y1="216.6" x2="1555.7" y2="216.6" stroke="#6a6a6a" stroke-width="1.5" />
<text x="1537.7" y="224.6" font-size="23" text-anchor="end" fill="#231f20" >4</text>
<line x1="1547.7" y1="174.2" x2="1555.7" y2="174.2" stroke="#6a6a6a" stroke-width="1.5" />
<text x="1537.7" y="182.2" font-size="23" text-anchor="end" fill="#231f20" >6</text>
<line x1="1547.7" y1="131.8" x2="1555.7" y2="131.8" stroke="#6a6a6a" stroke-width="1.5" />
<text x="1537.7" y="139.8" font-size="23" text-anchor="end" fill="#231f20" >8</text>
<line x1="1547.7" y1="89.4" x2="1555.7" y2="89.4" stroke="#6a6a6a" stroke-width="1.5" />
<text x="1537.7" y="97.4" font-size="23" text-anchor="end" fill="#231f20" >10</text>
<line x1="1561.8" y1="304.3" x2="1561.8" y2="311.8" stroke="#6a6a6a" stroke-width="1.5" />
<text transform="translate(1571.3,330.3) rotate(-45)" font-size="23.5" text-anchor="end" fill="#231f20">190</text>
<line x1="1596.8" y1="304.3" x2="1596.8" y2="311.8" stroke="#6a6a6a" stroke-width="1.5" />
<text transform="translate(1606.3,330.3) rotate(-45)" font-size="23.5" text-anchor="end" fill="#231f20">185</text>
<line x1="1631.8" y1="304.3" x2="1631.8" y2="311.8" stroke="#6a6a6a" stroke-width="1.5" />
<text transform="translate(1641.3,330.3) rotate(-45)" font-size="23.5" text-anchor="end" fill="#231f20">180</text>
<line x1="1666.8" y1="304.3" x2="1666.8" y2="311.8" stroke="#6a6a6a" stroke-width="1.5" />
<text transform="translate(1676.3,330.3) rotate(-45)" font-size="23.5" text-anchor="end" fill="#231f20">175</text>
<line x1="1701.8" y1="304.3" x2="1701.8" y2="311.8" stroke="#6a6a6a" stroke-width="1.5" />
<text transform="translate(1711.3,330.3) rotate(-45)" font-size="23.5" text-anchor="end" fill="#231f20">170</text>
<line x1="1736.8" y1="304.3" x2="1736.8" y2="311.8" stroke="#6a6a6a" stroke-width="1.5" />
<text transform="translate(1746.3,330.3) rotate(-45)" font-size="23.5" text-anchor="end" fill="#231f20">165</text>
<line x1="1771.8" y1="304.3" x2="1771.8" y2="311.8" stroke="#6a6a6a" stroke-width="1.5" />
<text transform="translate(1781.3,330.3) rotate(-45)" font-size="23.5" text-anchor="end" fill="#231f20">160</text>
<polyline points="1556.7,197.19 1557.65,262.79 1558.6,234.08 1559.55,245.8 1560.5,258.13 1561.45,252 1562.41,250.88 1563.36,242.47 1564.31,232.74 1565.26,220.22 1566.21,236.41 1567.16,218.77 1568.11,231.98 1569.06,238.96 1570.01,245.38 1570.96,260.26 1571.91,272.26 1572.86,242.58 1573.82,244.25 1574.77,234.59 1575.72,234.33 1576.67,265.29 1577.62,254.44 1578.57,262.15 1579.52,220.98 1580.47,242.33 1581.42,237.57 1582.37,256.79 1583.32,263.26 1584.28,249.75 1585.23,240.15 1586.18,229.14 1587.13,263.84 1588.08,229.62 1589.03,248.18 1589.98,239.73 1590.93,232.76 1591.88,228.11 1592.83,209.43 1593.78,195.2 1594.73,173.35 1595.69,136.24 1596.64,99.91 1597.59,118.66 1598.54,159.69 1599.49,191.46 1600.44,223.56 1601.39,229.23 1602.34,232.02 1603.29,215.87 1604.24,235.24 1605.19,219.19 1606.15,231.1 1607.1,258.82 1608.05,237.26 1609,228.44 1609.95,231.6 1610.9,267.64 1611.85,231.86 1612.8,251.45 1613.75,280.92 1614.7,251.61 1615.65,278.9 1616.6,265.63 1617.56,213.13 1618.51,193.3 1619.46,220.64 1620.41,232.91 1621.36,204.35 1622.31,234.82 1623.26,260.76 1624.21,289.73 1625.16,223.84 1626.11,285.99 1627.06,297.99 1628.02,254.64 1628.97,240.52 1629.92,258.83 1630.87,221.28 1631.82,243.6 1632.77,237.73 1633.72,233.08 1634.67,253.48 1635.62,237.75 1636.57,195.72 1637.52,260.48 1638.47,238.61 1639.43,231.46 1640.38,252.64 1641.33,242.84 1642.28,275.96 1643.23,250.59 1644.18,241.06 1645.13,219.67 1646.08,222.99 1647.03,253.36 1647.98,263.99 1648.93,205.32 1649.89,224.07 1650.84,279.91 1651.79,248.57 1652.74,259.8 1653.69,253.9 1654.64,276.01 1655.59,250.15 1656.54,252.05 1657.49,246.45 1658.44,220.95 1659.39,237.21 1660.34,265.97 1661.3,276.28 1662.25,252.21 1663.2,218.73 1664.15,222.87 1665.1,253.3 1666.05,218.43 1667,232.92 1667.95,253.55 1668.9,232.9 1669.85,242.99 1670.8,263.55 1671.76,249.97 1672.71,238.13 1673.66,215.15 1674.61,261.74 1675.56,236.47 1676.51,240.73 1677.46,242.06 1678.41,265.04 1679.36,216.2 1680.31,215.43 1681.26,209.56 1682.21,231.54 1683.17,211.84 1684.12,229.98 1685.07,221.07 1686.02,246.34 1686.97,235.52 1687.92,245.47 1688.87,258.35 1689.82,246.29 1690.77,257.34 1691.72,255.46 1692.67,241.55 1693.63,241.89 1694.58,205.85 1695.53,210.99 1696.48,212.19 1697.43,197.31 1698.38,181.95 1699.33,174.2 1700.28,197.86 1701.23,213.38 1702.18,225.35 1703.13,232.69 1704.08,220.82 1705.04,246.9 1705.99,196.65 1706.94,246.27 1707.89,223.02 1708.84,267.64 1709.79,222.28 1710.74,262.68 1711.69,236.01 1712.64,240.1 1713.59,224.22 1714.54,228.41 1715.5,232.78 1716.45,243.42 1717.4,202.07 1718.35,249.74 1719.3,240.46 1720.25,250.1 1721.2,238.09 1722.15,260.01 1723.1,249.12 1724.05,230.87 1725,252.52 1725.95,231.72 1726.91,252.7 1727.86,212.58 1728.81,243.74 1729.76,205.8 1730.71,231.1 1731.66,243.74 1732.61,222.03 1733.56,217.7 1734.51,210.42 1735.46,213.16 1736.41,223.16 1737.37,264.71 1738.32,222.39 1739.27,242.95 1740.22,233.01 1741.17,215.65 1742.12,255.66 1743.07,214.33 1744.02,192.86 1744.97,230.01 1745.92,247.54 1746.87,213.48 1747.82,237.55 1748.78,219.97 1749.73,215.88 1750.68,271.79 1751.63,234.74 1752.58,272.06 1753.53,255.5 1754.48,229 1755.43,265.45 1756.38,255.88 1757.33,250.59 1758.28,235 1759.24,234.28 1760.19,232.39 1761.14,251.57 1762.09,256.6 1763.04,233.09 1763.99,259.02 1764.94,257.84 1765.89,227.29 1766.84,257.56 1767.79,259.77 1768.74,218.65 1769.69,242.41 1770.65,286.69 1771.6,256.8 1772.55,202.1 1773.5,184.17 1774.45,247.57 1775.4,227.39" fill="none" stroke="#d6d6d6" stroke-width="1.1" stroke-linejoin="round" />
<polyline points="1556.7,240.63 1557.06,240.62 1557.43,240.62 1557.79,240.61 1558.16,240.61 1558.52,240.6 1558.89,240.59 1559.25,240.58 1559.62,240.58 1559.98,240.57 1560.35,240.56 1560.71,240.55 1561.07,240.54 1561.44,240.53 1561.8,240.53 1562.17,240.52 1562.53,240.51 1562.9,240.5 1563.26,240.49 1563.63,240.48 1563.99,240.46 1564.35,240.45 1564.72,240.44 1565.08,240.43 1565.45,240.42 1565.81,240.4 1566.18,240.39 1566.54,240.38 1566.91,240.36 1567.27,240.35 1567.63,240.33 1568,240.31 1568.36,240.3 1568.73,240.28 1569.09,240.26 1569.46,240.24 1569.82,240.22 1570.19,240.2 1570.55,240.18 1570.92,240.16 1571.28,240.14 1571.64,240.11 1572.01,240.09 1572.37,240.06 1572.74,240.03 1573.1,240.01 1573.47,239.98 1573.83,239.94 1574.2,239.91 1574.56,239.88 1574.92,239.84 1575.29,239.8 1575.65,239.76 1576.02,239.72 1576.38,239.68 1576.75,239.63 1577.11,239.58 1577.48,239.53 1577.84,239.47 1578.21,239.41 1578.57,239.35 1578.93,239.29 1579.3,239.22 1579.66,239.14 1580.03,239.06 1580.39,238.98 1580.76,238.89 1581.12,238.79 1581.49,238.69 1581.85,238.58 1582.22,238.46 1582.58,238.33 1582.94,238.2 1583.31,238.05 1583.67,237.89 1584.04,237.71 1584.4,237.52 1584.77,237.32 1585.13,237.09 1585.5,236.85 1585.86,236.58 1586.22,236.28 1586.59,235.95 1586.95,235.59 1587.32,235.18 1587.68,234.73 1588.05,234.23 1588.41,233.66 1588.78,233.02 1589.14,232.29 1589.51,231.47 1589.87,230.52 1590.23,229.42 1590.6,228.15 1590.96,226.67 1591.33,224.93 1591.69,222.86 1592.06,220.4 1592.42,217.43 1592.79,213.82 1593.15,209.4 1593.51,203.95 1593.88,197.19 1594.24,188.77 1594.61,178.32 1594.97,165.54 1595.34,150.42 1595.7,133.67 1596.07,117.32 1596.43,104.81 1596.8,99.98 1597.16,104.56 1597.52,116.9 1597.89,133.21 1598.25,149.97 1598.62,165.15 1598.98,178 1599.35,188.51 1599.71,196.98 1600.08,203.78 1600.44,209.27 1600.8,213.71 1601.17,217.33 1601.53,220.32 1601.9,222.8 1602.26,224.87 1602.63,226.62 1602.99,228.11 1603.36,229.38 1603.72,230.48 1604.09,231.43 1604.45,232.27 1604.81,232.99 1605.18,233.64 1605.54,234.2 1605.91,234.71 1606.27,235.16 1606.64,235.57 1607,235.93 1607.37,236.26 1607.73,236.56 1608.09,236.83 1608.46,237.07 1608.82,237.3 1609.19,237.5 1609.55,237.69 1609.92,237.87 1610.28,238.03 1610.65,238.18 1611.01,238.31 1611.38,238.44 1611.74,238.56 1612.1,238.67 1612.47,238.77 1612.83,238.87 1613.2,238.96 1613.56,239.04 1613.93,239.12 1614.29,239.2 1614.66,239.26 1615.02,239.33 1615.38,239.39 1615.75,239.45 1616.11,239.5 1616.48,239.56 1616.84,239.61 1617.21,239.65 1617.57,239.7 1617.94,239.74 1618.3,239.78 1618.66,239.82 1619.03,239.85 1619.39,239.89 1619.76,239.92 1620.12,239.95 1620.49,239.98 1620.85,240.01 1621.22,240.03 1621.58,240.06 1621.95,240.08 1622.31,240.11 1622.67,240.13 1623.04,240.15 1623.4,240.17 1623.77,240.19 1624.13,240.21 1624.5,240.23 1624.86,240.25 1625.23,240.27 1625.59,240.28 1625.96,240.3 1626.32,240.31 1626.68,240.33 1627.05,240.34 1627.41,240.35 1627.78,240.37 1628.14,240.38 1628.51,240.39 1628.87,240.4 1629.24,240.41 1629.6,240.42 1629.96,240.43 1630.33,240.44 1630.69,240.45 1631.06,240.46 1631.42,240.47 1631.79,240.48 1632.15,240.49 1632.52,240.5 1632.88,240.51 1633.25,240.51 1633.61,240.52 1633.97,240.53 1634.34,240.53 1634.7,240.54 1635.07,240.55 1635.43,240.55 1635.8,240.56 1636.16,240.57 1636.53,240.57 1636.89,240.58 1637.25,240.58 1637.62,240.59 1637.98,240.59 1638.35,240.6 1638.71,240.6 1639.08,240.61 1639.44,240.61 1639.81,240.61 1640.17,240.62 1640.54,240.62 1640.9,240.62 1641.26,240.63 1641.63,240.63 1641.99,240.64 1642.36,240.64 1642.72,240.64 1643.09,240.64 1643.45,240.65 1643.82,240.65 1644.18,240.65 1644.54,240.66 1644.91,240.66 1645.27,240.66 1645.64,240.66 1646,240.66 1646.37,240.67 1646.73,240.67 1647.1,240.67 1647.46,240.67 1647.83,240.67 1648.19,240.67 1648.55,240.68 1648.92,240.68 1649.28,240.68 1649.65,240.68 1650.01,240.68 1650.38,240.68 1650.74,240.68 1651.11,240.68 1651.47,240.68 1651.83,240.68 1652.2,240.68 1652.56,240.69 1652.93,240.69 1653.29,240.69 1653.66,240.69 1654.02,240.69 1654.39,240.69 1654.75,240.69 1655.12,240.69 1655.48,240.69 1655.84,240.69 1656.21,240.68 1656.57,240.68 1656.94,240.68 1657.3,240.68 1657.67,240.68 1658.03,240.68 1658.4,240.68 1658.76,240.68 1659.12,240.68 1659.49,240.68 1659.85,240.67 1660.22,240.67 1660.58,240.67 1660.95,240.67 1661.31,240.67 1661.68,240.66 1662.04,240.66 1662.4,240.66 1662.77,240.66 1663.13,240.66 1663.5,240.65 1663.86,240.65 1664.23,240.65 1664.59,240.64 1664.96,240.64 1665.32,240.64 1665.69,240.63 1666.05,240.63 1666.41,240.62 1666.78,240.62 1667.14,240.61 1667.51,240.61 1667.87,240.6 1668.24,240.6 1668.6,240.59 1668.97,240.59 1669.33,240.58 1669.7,240.58 1670.06,240.57 1670.42,240.56 1670.79,240.56 1671.15,240.55 1671.52,240.54 1671.88,240.53 1672.25,240.52 1672.61,240.51 1672.98,240.5 1673.34,240.49 1673.7,240.48 1674.07,240.47 1674.43,240.46 1674.8,240.45 1675.16,240.44 1675.53,240.42 1675.89,240.41 1676.26,240.39 1676.62,240.38 1676.99,240.36 1677.35,240.35 1677.71,240.33 1678.08,240.31 1678.44,240.29 1678.81,240.27 1679.17,240.24 1679.54,240.22 1679.9,240.19 1680.27,240.17 1680.63,240.14 1680.99,240.11 1681.36,240.08 1681.72,240.04 1682.09,240.01 1682.45,239.97 1682.82,239.93 1683.18,239.88 1683.55,239.83 1683.91,239.78 1684.28,239.73 1684.64,239.67 1685,239.61 1685.37,239.54 1685.73,239.46 1686.1,239.38 1686.46,239.29 1686.83,239.2 1687.19,239.1 1687.56,238.98 1687.92,238.86 1688.28,238.72 1688.65,238.57 1689.01,238.4 1689.38,238.21 1689.74,238.01 1690.11,237.78 1690.47,237.52 1690.84,237.22 1691.2,236.89 1691.57,236.51 1691.93,236.08 1692.29,235.58 1692.66,235.01 1693.02,234.33 1693.39,233.55 1693.75,232.62 1694.12,231.51 1694.48,230.18 1694.85,228.57 1695.21,226.61 1695.57,224.19 1695.94,221.2 1696.3,217.47 1696.67,212.84 1697.03,207.14 1697.4,200.28 1697.76,192.44 1698.13,184.34 1698.49,177.38 1698.86,173.46 1699.22,173.93 1699.58,178.62 1699.95,185.96 1700.31,194.1 1700.68,201.77 1701.04,208.4 1701.41,213.88 1701.77,218.31 1702.14,221.87 1702.5,224.74 1702.86,227.05 1703.23,228.94 1703.59,230.48 1703.96,231.76 1704.32,232.83 1704.69,233.73 1705.05,234.49 1705.42,235.14 1705.78,235.7 1706.14,236.19 1706.51,236.61 1706.87,236.98 1707.24,237.3 1707.6,237.59 1707.97,237.84 1708.33,238.07 1708.7,238.27 1709.06,238.46 1709.43,238.62 1709.79,238.77 1710.15,238.91 1710.52,239.03 1710.88,239.14 1711.25,239.24 1711.61,239.34 1711.98,239.43 1712.34,239.51 1712.71,239.58 1713.07,239.65 1713.43,239.71 1713.8,239.77 1714.16,239.83 1714.53,239.88 1714.89,239.92 1715.26,239.97 1715.62,240.01 1715.99,240.05 1716.35,240.09 1716.72,240.12 1717.08,240.15 1717.44,240.19 1717.81,240.21 1718.17,240.24 1718.54,240.27 1718.9,240.29 1719.27,240.32 1719.63,240.34 1720,240.36 1720.36,240.38 1720.73,240.4 1721.09,240.42 1721.45,240.43 1721.82,240.45 1722.18,240.46 1722.55,240.48 1722.91,240.49 1723.28,240.51 1723.64,240.52 1724.01,240.53 1724.37,240.54 1724.73,240.56 1725.1,240.57 1725.46,240.58 1725.83,240.59 1726.19,240.6 1726.56,240.61 1726.92,240.62 1727.29,240.62 1727.65,240.63 1728.02,240.64 1728.38,240.65 1728.74,240.66 1729.11,240.66 1729.47,240.67 1729.84,240.68 1730.2,240.68 1730.57,240.69 1730.93,240.7 1731.3,240.7 1731.66,240.71 1732.02,240.71 1732.39,240.72 1732.75,240.72 1733.12,240.73 1733.48,240.73 1733.85,240.74 1734.21,240.74 1734.58,240.75 1734.94,240.75 1735.31,240.75 1735.67,240.76 1736.03,240.76 1736.4,240.77 1736.76,240.77 1737.13,240.77 1737.49,240.78 1737.86,240.78 1738.22,240.78 1738.59,240.79 1738.95,240.79 1739.31,240.79 1739.68,240.8 1740.04,240.8 1740.41,240.8 1740.77,240.8 1741.14,240.81 1741.5,240.81 1741.87,240.81 1742.23,240.82 1742.6,240.82 1742.96,240.82 1743.32,240.82 1743.69,240.82 1744.05,240.83 1744.42,240.83 1744.78,240.83 1745.15,240.83 1745.51,240.84 1745.88,240.84 1746.24,240.84 1746.6,240.84 1746.97,240.84 1747.33,240.84 1747.7,240.85 1748.06,240.85 1748.43,240.85 1748.79,240.85 1749.16,240.85 1749.52,240.85 1749.89,240.86 1750.25,240.86 1750.61,240.86 1750.98,240.86 1751.34,240.86 1751.71,240.86 1752.07,240.87 1752.44,240.87 1752.8,240.87 1753.17,240.87 1753.53,240.87 1753.89,240.87 1754.26,240.87 1754.62,240.87 1754.99,240.88 1755.35,240.88 1755.72,240.88 1756.08,240.88 1756.45,240.88 1756.81,240.88 1757.18,240.88 1757.54,240.88 1757.9,240.88 1758.27,240.89 1758.63,240.89 1759,240.89 1759.36,240.89 1759.73,240.89 1760.09,240.89 1760.46,240.89 1760.82,240.89 1761.18,240.89 1761.55,240.89 1761.91,240.89 1762.28,240.9 1762.64,240.9 1763.01,240.9 1763.37,240.9 1763.74,240.9 1764.1,240.9 1764.47,240.9 1764.83,240.9 1765.19,240.9 1765.56,240.9 1765.92,240.9 1766.29,240.9 1766.65,240.9 1767.02,240.91 1767.38,240.91 1767.75,240.91 1768.11,240.91 1768.47,240.91 1768.84,240.91 1769.2,240.91 1769.57,240.91 1769.93,240.91 1770.3,240.91 1770.66,240.91 1771.03,240.91 1771.39,240.91 1771.76,240.91 1772.12,240.91 1772.48,240.91 1772.85,240.91 1773.21,240.92 1773.58,240.92 1773.94,240.92 1774.31,240.92 1774.67,240.92 1775.04,240.92 1775.4,240.92" fill="none" stroke="#1d1d1d" stroke-width="1.5" stroke-linejoin="round" />
<text x="1284.2" y="158" font-size="20" text-anchor="start" fill="#231f20"  textLength="113.2" lengthAdjust="spacingAndGlyphs">[1-<tspan font-size="13.6" dy="-8">13</tspan><tspan dy="8">C]lactate</tspan></text>
<text x="1361.3" y="107" font-size="20" text-anchor="start" fill="#231f20"  textLength="130.8" lengthAdjust="spacingAndGlyphs">[1-<tspan font-size="13.6" dy="-8">13</tspan><tspan dy="8">C]pyruvate</tspan></text>
<text x="1606.3" y="107" font-size="20" text-anchor="start" fill="#231f20"  textLength="112.3" lengthAdjust="spacingAndGlyphs">[1-<tspan font-size="13.6" dy="-8">13</tspan><tspan dy="8">C]lactate</tspan></text>
<text x="1638.7" y="151.3" font-size="20" text-anchor="start" fill="#231f20"  textLength="129.9" lengthAdjust="spacingAndGlyphs">[1-<tspan font-size="13.6" dy="-8">13</tspan><tspan dy="8">C]pyruvate</tspan></text>
<text x="1336.5" y="69" font-size="28" text-anchor="start" fill="#3b6b97" font-style="italic" textLength="100" lengthAdjust="spacingAndGlyphs">Pdcd1<tspan font-size="19" dy="-11" font-style="normal">+/+</tspan></text>
<text x="1617.3" y="69" font-size="28" text-anchor="start" fill="#8e1a1d" font-style="italic" textLength="100" lengthAdjust="spacingAndGlyphs">Pdcd1<tspan font-size="19" dy="-11" font-style="normal">−/−</tspan></text>
<text transform="translate(1203.5,202) rotate(-90)" font-size="28" text-anchor="middle" fill="#231f20" textLength="138" lengthAdjust="spacingAndGlyphs">Signal (AU)</text>
<line x1="1217.5" y1="318.6" x2="1217.5" y2="94.4" stroke="#3e5573" stroke-width="4.6"/>
<path d="M1217.5,79.4 L1210.7,96.4 L1217.5,92.4 L1224.3,96.4 Z" fill="#3e5573"/>
<line x1="1777.6" y1="382.2" x2="1279.6" y2="382.2" stroke="#3e5573" stroke-width="4.3"/>
<path d="M1264.6,382.2 L1281.6,375 L1277.6,382.2 L1281.6,389.4 Z" fill="#3e5573"/>
<text x="1411.7" y="415" font-size="28" text-anchor="start" fill="#231f20"  textLength="216" lengthAdjust="spacingAndGlyphs">Frequency (ppm)</text>
<text x="1827" y="35" font-size="40" text-anchor="start" fill="#1a1718" font-weight="bold" stroke="#1a1718" stroke-width="1.1">d</text>
<line x1="1940.4" y1="62.4" x2="1940.4" y2="307" stroke="#6a6a6a" stroke-width="1.5" />
<line x1="1932" y1="307" x2="1940.4" y2="307" stroke="#6a6a6a" stroke-width="1.5" />
<text x="1923.5" y="315.5" font-size="23" text-anchor="end" fill="#231f20" >0</text>
<line x1="1932" y1="246" x2="1940.4" y2="246" stroke="#6a6a6a" stroke-width="1.5" />
<text x="1923.5" y="254.5" font-size="23" text-anchor="end" fill="#231f20" >1</text>
<line x1="1932" y1="185" x2="1940.4" y2="185" stroke="#6a6a6a" stroke-width="1.5" />
<text x="1923.5" y="193.5" font-size="23" text-anchor="end" fill="#231f20" >2</text>
<line x1="1932" y1="124" x2="1940.4" y2="124" stroke="#6a6a6a" stroke-width="1.5" />
<text x="1923.5" y="132.5" font-size="23" text-anchor="end" fill="#231f20" >3</text>
<line x1="1932" y1="63" x2="1940.4" y2="63" stroke="#6a6a6a" stroke-width="1.5" />
<text x="1923.5" y="71.5" font-size="23" text-anchor="end" fill="#231f20" >4</text>
<path d="M1958.4,307 V256.7 H1993.4 V307" fill="none" stroke="#6a93bd" stroke-width="1.4"/>
<path d="M2012.9,307 V147 H2047.8 V307" fill="none" stroke="#c0494d" stroke-width="1.4"/>
<line x1="1931.5" y1="307" x2="2067.6" y2="307" stroke="#6a6a6a" stroke-width="1.6" />
<line x1="1976" y1="269.3" x2="1976" y2="243.2" stroke="#555" stroke-width="1.4" />
<line x1="1966.7" y1="269.3" x2="1985.3" y2="269.3" stroke="#555" stroke-width="1.4" />
<line x1="1966.7" y1="243.2" x2="1985.3" y2="243.2" stroke="#555" stroke-width="1.4" />
<line x1="2030.4" y1="201.6" x2="2030.4" y2="91.3" stroke="#555" stroke-width="1.4" />
<line x1="2021" y1="201.6" x2="2039.8" y2="201.6" stroke="#555" stroke-width="1.4" />
<line x1="2021" y1="91.3" x2="2039.8" y2="91.3" stroke="#555" stroke-width="1.4" />
<circle cx="1976" cy="241" r="3.3" fill="#1d1d1d"/>
<circle cx="1971" cy="264.6" r="3.3" fill="#1d1d1d"/>
<circle cx="1981" cy="263" r="3.3" fill="#1d1d1d"/>
<rect x="2027.2" y="92" width="6.4" height="6.4" fill="#1d1d1d" stroke="none" stroke-width="1.3" />
<rect x="2027.2" y="136.8" width="6.4" height="6.4" fill="#1d1d1d" stroke="none" stroke-width="1.3" />
<rect x="2027.2" y="201.7" width="6.4" height="6.4" fill="#1d1d1d" stroke="none" stroke-width="1.3" />
<line x1="1976" y1="307" x2="1976" y2="315.3" stroke="#6a6a6a" stroke-width="1.5" />
<line x1="2030.4" y1="307" x2="2030.4" y2="315.3" stroke="#6a6a6a" stroke-width="1.5" />
<line x1="1958" y1="63" x2="2047.8" y2="63" stroke="#777" stroke-width="1.5" />
<text x="2053.4" y="72" font-size="23" text-anchor="start" fill="#231f20"  textLength="114" lengthAdjust="spacingAndGlyphs"><tspan font-style="italic">P</tspan> = 0.0284</text>
<text transform="translate(1856,185) rotate(-90)" font-size="26" text-anchor="middle" fill="#231f20" textLength="188" lengthAdjust="spacingAndGlyphs">[1-<tspan font-size="17" dy="-9">13</tspan><tspan dy="9">C]lactate/</tspan></text>
<text transform="translate(1889,185) rotate(-90)" font-size="26" text-anchor="middle" fill="#231f20" textLength="186" lengthAdjust="spacingAndGlyphs">[1-<tspan font-size="17" dy="-9">13</tspan><tspan dy="9">C]pyruvate</tspan></text>
<text transform="translate(1991,340) rotate(-45)" font-size="27" text-anchor="end" fill="#3b6b97" font-style="italic">Pdcd1<tspan font-size="17" dy="-9" font-style="normal">+/+</tspan></text>
<text transform="translate(2045.6,340) rotate(-45)" font-size="27" text-anchor="end" fill="#8e1a1d" font-style="italic">Pdcd1<tspan font-size="17" dy="-9" font-style="normal">−/−</tspan></text>
<text x="4.5" y="500.5" font-size="40" text-anchor="start" fill="#1a1718" font-weight="bold" stroke="#1a1718" stroke-width="1.1">e</text>
<rect x="105.8" y="490.4" width="25.6" height="25" fill="none" stroke="#5a82ab" stroke-width="1.4" />
<rect x="105.8" y="523.1" width="25.6" height="25" fill="none" stroke="#b04448" stroke-width="1.4" />
<text x="143.2" y="510.8" font-size="27" text-anchor="start" fill="#3b6b97"  textLength="90.2" lengthAdjust="spacingAndGlyphs">Isotype</text>
<text x="142.3" y="543.5" font-size="27" text-anchor="start" fill="#8e1a1d"  textLength="124.7" lengthAdjust="spacingAndGlyphs">Anti-PD-L1</text>
<text transform="translate(24,682.3) rotate(-90)" font-size="27.5" text-anchor="middle" fill="#231f20" textLength="235" lengthAdjust="spacingAndGlyphs">Percent of max (%)</text>
<line x1="35" y1="792.6" x2="35" y2="568.4" stroke="#3e5573" stroke-width="4.4"/>
<path d="M35,553.4 L28.5,570.4 L35,566.4 L41.5,570.4 Z" fill="#3e5573"/>
<line x1="97.8" y1="798.6" x2="105.3" y2="798.6" stroke="#6a6a6a" stroke-width="1.4" />
<text x="88.3" y="807.6" font-size="23" text-anchor="end" fill="#231f20" >0</text>
<line x1="101.3" y1="787.27" x2="105.3" y2="787.27" stroke="#6a6a6a" stroke-width="1.1" />
<line x1="101.3" y1="775.95" x2="105.3" y2="775.95" stroke="#6a6a6a" stroke-width="1.1" />
<line x1="101.3" y1="764.62" x2="105.3" y2="764.62" stroke="#6a6a6a" stroke-width="1.1" />
<line x1="97.8" y1="753.3" x2="105.3" y2="753.3" stroke="#6a6a6a" stroke-width="1.4" />
<text x="88.3" y="762.3" font-size="23" text-anchor="end" fill="#231f20" >20</text>
<line x1="101.3" y1="741.98" x2="105.3" y2="741.98" stroke="#6a6a6a" stroke-width="1.1" />
<line x1="101.3" y1="730.65" x2="105.3" y2="730.65" stroke="#6a6a6a" stroke-width="1.1" />
<line x1="101.3" y1="719.33" x2="105.3" y2="719.33" stroke="#6a6a6a" stroke-width="1.1" />
<line x1="97.8" y1="708" x2="105.3" y2="708" stroke="#6a6a6a" stroke-width="1.4" />
<text x="88.3" y="717" font-size="23" text-anchor="end" fill="#231f20" >40</text>
<line x1="101.3" y1="696.68" x2="105.3" y2="696.68" stroke="#6a6a6a" stroke-width="1.1" />
<line x1="101.3" y1="685.35" x2="105.3" y2="685.35" stroke="#6a6a6a" stroke-width="1.1" />
<line x1="101.3" y1="674.02" x2="105.3" y2="674.02" stroke="#6a6a6a" stroke-width="1.1" />
<line x1="97.8" y1="662.7" x2="105.3" y2="662.7" stroke="#6a6a6a" stroke-width="1.4" />
<text x="88.3" y="671.7" font-size="23" text-anchor="end" fill="#231f20" >60</text>
<line x1="101.3" y1="651.38" x2="105.3" y2="651.38" stroke="#6a6a6a" stroke-width="1.1" />
<line x1="101.3" y1="640.05" x2="105.3" y2="640.05" stroke="#6a6a6a" stroke-width="1.1" />
<line x1="101.3" y1="628.73" x2="105.3" y2="628.73" stroke="#6a6a6a" stroke-width="1.1" />
<line x1="97.8" y1="617.4" x2="105.3" y2="617.4" stroke="#6a6a6a" stroke-width="1.4" />
<text x="88.3" y="626.4" font-size="23" text-anchor="end" fill="#231f20" >80</text>
<line x1="101.3" y1="606.08" x2="105.3" y2="606.08" stroke="#6a6a6a" stroke-width="1.1" />
<line x1="101.3" y1="594.75" x2="105.3" y2="594.75" stroke="#6a6a6a" stroke-width="1.1" />
<line x1="101.3" y1="583.42" x2="105.3" y2="583.42" stroke="#6a6a6a" stroke-width="1.1" />
<line x1="97.8" y1="572.1" x2="105.3" y2="572.1" stroke="#6a6a6a" stroke-width="1.4" />
<text x="88.3" y="581.1" font-size="23" text-anchor="end" fill="#231f20" >100</text>
<line x1="142.6" y1="798.6" x2="142.6" y2="806.1" stroke="#6a6a6a" stroke-width="1.4" />
<line x1="195.8" y1="798.6" x2="195.8" y2="806.1" stroke="#6a6a6a" stroke-width="1.4" />
<line x1="260.3" y1="798.6" x2="260.3" y2="806.1" stroke="#6a6a6a" stroke-width="1.4" />
<line x1="320.3" y1="798.6" x2="320.3" y2="806.1" stroke="#6a6a6a" stroke-width="1.4" />
<line x1="112" y1="798.6" x2="112" y2="802.4" stroke="#6a6a6a" stroke-width="1.1" />
<line x1="119" y1="798.6" x2="119" y2="802.4" stroke="#6a6a6a" stroke-width="1.1" />
<line x1="124" y1="798.6" x2="124" y2="802.4" stroke="#6a6a6a" stroke-width="1.1" />
<line x1="128" y1="798.6" x2="128" y2="802.4" stroke="#6a6a6a" stroke-width="1.1" />
<line x1="131" y1="798.6" x2="131" y2="802.4" stroke="#6a6a6a" stroke-width="1.1" />
<line x1="134" y1="798.6" x2="134" y2="802.4" stroke="#6a6a6a" stroke-width="1.1" />
<line x1="137" y1="798.6" x2="137" y2="802.4" stroke="#6a6a6a" stroke-width="1.1" />
<line x1="138.5" y1="798.6" x2="138.5" y2="802.4" stroke="#6a6a6a" stroke-width="1.1" />
<line x1="140" y1="798.6" x2="140" y2="802.4" stroke="#6a6a6a" stroke-width="1.1" />
<line x1="141.5" y1="798.6" x2="141.5" y2="802.4" stroke="#6a6a6a" stroke-width="1.1" />
<line x1="144" y1="798.6" x2="144" y2="802.4" stroke="#6a6a6a" stroke-width="1.1" />
<line x1="145.5" y1="798.6" x2="145.5" y2="802.4" stroke="#6a6a6a" stroke-width="1.1" />
<line x1="147" y1="798.6" x2="147" y2="802.4" stroke="#6a6a6a" stroke-width="1.1" />
<line x1="150" y1="798.6" x2="150" y2="802.4" stroke="#6a6a6a" stroke-width="1.1" />
<line x1="153" y1="798.6" x2="153" y2="802.4" stroke="#6a6a6a" stroke-width="1.1" />
<line x1="157" y1="798.6" x2="157" y2="802.4" stroke="#6a6a6a" stroke-width="1.1" />
<line x1="162" y1="798.6" x2="162" y2="802.4" stroke="#6a6a6a" stroke-width="1.1" />
<line x1="168" y1="798.6" x2="168" y2="802.4" stroke="#6a6a6a" stroke-width="1.1" />
<line x1="175" y1="798.6" x2="175" y2="802.4" stroke="#6a6a6a" stroke-width="1.1" />
<line x1="181" y1="798.6" x2="181" y2="802.4" stroke="#6a6a6a" stroke-width="1.1" />
<line x1="186" y1="798.6" x2="186" y2="802.4" stroke="#6a6a6a" stroke-width="1.1" />
<line x1="190" y1="798.6" x2="190" y2="802.4" stroke="#6a6a6a" stroke-width="1.1" />
<line x1="193" y1="798.6" x2="193" y2="802.4" stroke="#6a6a6a" stroke-width="1.1" />
<line x1="215.22" y1="798.6" x2="215.22" y2="802.4" stroke="#6a6a6a" stroke-width="1.1" />
<line x1="226.57" y1="798.6" x2="226.57" y2="802.4" stroke="#6a6a6a" stroke-width="1.1" />
<line x1="234.63" y1="798.6" x2="234.63" y2="802.4" stroke="#6a6a6a" stroke-width="1.1" />
<line x1="240.88" y1="798.6" x2="240.88" y2="802.4" stroke="#6a6a6a" stroke-width="1.1" />
<line x1="245.99" y1="798.6" x2="245.99" y2="802.4" stroke="#6a6a6a" stroke-width="1.1" />
<line x1="250.31" y1="798.6" x2="250.31" y2="802.4" stroke="#6a6a6a" stroke-width="1.1" />
<line x1="254.05" y1="798.6" x2="254.05" y2="802.4" stroke="#6a6a6a" stroke-width="1.1" />
<line x1="257.35" y1="798.6" x2="257.35" y2="802.4" stroke="#6a6a6a" stroke-width="1.1" />
<line x1="278.36" y1="798.6" x2="278.36" y2="802.4" stroke="#6a6a6a" stroke-width="1.1" />
<line x1="288.93" y1="798.6" x2="288.93" y2="802.4" stroke="#6a6a6a" stroke-width="1.1" />
<line x1="296.42" y1="798.6" x2="296.42" y2="802.4" stroke="#6a6a6a" stroke-width="1.1" />
<line x1="302.24" y1="798.6" x2="302.24" y2="802.4" stroke="#6a6a6a" stroke-width="1.1" />
<line x1="306.99" y1="798.6" x2="306.99" y2="802.4" stroke="#6a6a6a" stroke-width="1.1" />
<line x1="311.01" y1="798.6" x2="311.01" y2="802.4" stroke="#6a6a6a" stroke-width="1.1" />
<line x1="314.49" y1="798.6" x2="314.49" y2="802.4" stroke="#6a6a6a" stroke-width="1.1" />
<line x1="317.55" y1="798.6" x2="317.55" y2="802.4" stroke="#6a6a6a" stroke-width="1.1" />
<text x="142.6" y="837.5" font-size="22.5" text-anchor="middle" fill="#231f20" >0</text>
<text x="196.8" y="837.5" font-size="22.5" text-anchor="middle" fill="#231f20" >10<tspan font-size="16" dy="-10">3</tspan></text>
<text x="261.3" y="837.5" font-size="22.5" text-anchor="middle" fill="#231f20" >10<tspan font-size="16" dy="-10">4</tspan></text>
<text x="321.3" y="837.5" font-size="22.5" text-anchor="middle" fill="#231f20" >10<tspan font-size="16" dy="-10">5</tspan></text>
<path d="M106.1,798.6 C121.95,798.6 184.02,798.6 201.2,798.6 C218.38,798.43 206.1,798.6 209.2,797.6 C212.3,794.12 216.7,795.18 219.8,777.7 C222.9,760.22 225.58,717.92 227.8,692.7 C230.02,667.48 231.33,646.08 233.1,626.4 C234.87,606.72 237.07,583.02 238.4,574.6 C239.73,566.18 240.33,576.08 241.1,575.9 C241.87,575.72 242.35,573.05 243,573.5 C243.65,573.95 244,574.22 245,578.6 C246,582.98 247.45,594.93 249,599.8 C250.55,604.67 252.97,603.37 254.3,607.8 C255.63,612.23 255.67,614.45 257,626.4 C258.33,638.35 260.08,659.6 262.3,679.5 C264.52,699.4 267.65,727.67 270.3,745.8 C272.95,763.93 275.77,779.67 278.2,788.3 C280.63,796.93 282.45,795.88 284.9,797.6 C287.35,798.6 282.97,798.43 292.9,798.6 C302.83,798.6 335.9,798.6 344.5,798.6" fill="none" stroke="#941c20" stroke-width="2.0" stroke-linejoin="round" />
<path d="M106.1,798.6 C119.73,798.6 172.93,798.6 187.9,798.6 C202.87,798.43 192.8,798.6 195.9,797.6 C199,793.23 203.62,787.22 206.5,772.4 C209.38,757.58 211.2,729.05 213.2,708.7 C215.2,688.35 217.18,662.25 218.5,650.3 C219.82,638.35 220,647.18 221.1,637 C222.2,626.82 224.2,597.87 225.1,589.2 C226,580.53 225.97,586.77 226.5,585 C227.03,583.23 227.87,577.9 228.3,578.6 C228.73,579.3 228.52,583.02 229.1,589.2 C229.68,595.38 230.7,607.3 231.8,615.7 C232.9,624.1 234.6,634.95 235.7,639.6 C236.8,644.25 237.07,638.28 238.4,643.6 C239.73,648.92 241.48,658 243.7,671.5 C245.92,685 249.05,706.9 251.7,724.6 C254.35,742.3 257.72,766.8 259.6,777.7 C261.48,788.6 261.67,786.68 263,790 C264.33,793.32 265.5,796.17 267.6,797.6 C269.7,798.6 262.78,798.43 275.6,798.6 C288.42,798.6 333.02,798.6 344.5,798.6" fill="none" stroke="#3f6f9b" stroke-width="2.0" stroke-linejoin="round" />
<rect x="105.3" y="559.2" width="240" height="239.4" fill="none" stroke="#5e5e5e" stroke-width="1.4" />
<line x1="102" y1="859.2" x2="327.2" y2="859.2" stroke="#3e5573" stroke-width="4.3"/>
<path d="M341.2,859.2 L325.2,852.2 L329.2,859.2 L325.2,866.2 Z" fill="#3e5573"/>
<text x="89" y="896.5" font-size="27" text-anchor="start" fill="#231f20"  textLength="281" lengthAdjust="spacingAndGlyphs">p-AKT<tspan font-size="18" dy="-11">S473</tspan><tspan dy="11">–Pacific Blue</tspan></text>
<line x1="413" y1="798.6" x2="420.5" y2="798.6" stroke="#6a6a6a" stroke-width="1.4" />
<text x="403.5" y="807.6" font-size="23" text-anchor="end" fill="#231f20" >0</text>
<line x1="416.5" y1="787.27" x2="420.5" y2="787.27" stroke="#6a6a6a" stroke-width="1.1" />
<line x1="416.5" y1="775.95" x2="420.5" y2="775.95" stroke="#6a6a6a" stroke-width="1.1" />
<line x1="416.5" y1="764.62" x2="420.5" y2="764.62" stroke="#6a6a6a" stroke-width="1.1" />
<line x1="413" y1="753.3" x2="420.5" y2="753.3" stroke="#6a6a6a" stroke-width="1.4" />
<text x="403.5" y="762.3" font-size="23" text-anchor="end" fill="#231f20" >20</text>
<line x1="416.5" y1="741.98" x2="420.5" y2="741.98" stroke="#6a6a6a" stroke-width="1.1" />
<line x1="416.5" y1="730.65" x2="420.5" y2="730.65" stroke="#6a6a6a" stroke-width="1.1" />
<line x1="416.5" y1="719.33" x2="420.5" y2="719.33" stroke="#6a6a6a" stroke-width="1.1" />
<line x1="413" y1="708" x2="420.5" y2="708" stroke="#6a6a6a" stroke-width="1.4" />
<text x="403.5" y="717" font-size="23" text-anchor="end" fill="#231f20" >40</text>
<line x1="416.5" y1="696.68" x2="420.5" y2="696.68" stroke="#6a6a6a" stroke-width="1.1" />
<line x1="416.5" y1="685.35" x2="420.5" y2="685.35" stroke="#6a6a6a" stroke-width="1.1" />
<line x1="416.5" y1="674.02" x2="420.5" y2="674.02" stroke="#6a6a6a" stroke-width="1.1" />
<line x1="413" y1="662.7" x2="420.5" y2="662.7" stroke="#6a6a6a" stroke-width="1.4" />
<text x="403.5" y="671.7" font-size="23" text-anchor="end" fill="#231f20" >60</text>
<line x1="416.5" y1="651.38" x2="420.5" y2="651.38" stroke="#6a6a6a" stroke-width="1.1" />
<line x1="416.5" y1="640.05" x2="420.5" y2="640.05" stroke="#6a6a6a" stroke-width="1.1" />
<line x1="416.5" y1="628.73" x2="420.5" y2="628.73" stroke="#6a6a6a" stroke-width="1.1" />
<line x1="413" y1="617.4" x2="420.5" y2="617.4" stroke="#6a6a6a" stroke-width="1.4" />
<text x="403.5" y="626.4" font-size="23" text-anchor="end" fill="#231f20" >80</text>
<line x1="416.5" y1="606.08" x2="420.5" y2="606.08" stroke="#6a6a6a" stroke-width="1.1" />
<line x1="416.5" y1="594.75" x2="420.5" y2="594.75" stroke="#6a6a6a" stroke-width="1.1" />
<line x1="416.5" y1="583.42" x2="420.5" y2="583.42" stroke="#6a6a6a" stroke-width="1.1" />
<line x1="413" y1="572.1" x2="420.5" y2="572.1" stroke="#6a6a6a" stroke-width="1.4" />
<text x="403.5" y="581.1" font-size="23" text-anchor="end" fill="#231f20" >100</text>
<line x1="480.8" y1="798.6" x2="480.8" y2="806.1" stroke="#6a6a6a" stroke-width="1.4" />
<line x1="564.2" y1="798.6" x2="564.2" y2="806.1" stroke="#6a6a6a" stroke-width="1.4" />
<line x1="422.51" y1="798.6" x2="422.51" y2="802.4" stroke="#6a6a6a" stroke-width="1.1" />
<line x1="437.19" y1="798.6" x2="437.19" y2="802.4" stroke="#6a6a6a" stroke-width="1.1" />
<line x1="447.61" y1="798.6" x2="447.61" y2="802.4" stroke="#6a6a6a" stroke-width="1.1" />
<line x1="455.69" y1="798.6" x2="455.69" y2="802.4" stroke="#6a6a6a" stroke-width="1.1" />
<line x1="462.3" y1="798.6" x2="462.3" y2="802.4" stroke="#6a6a6a" stroke-width="1.1" />
<line x1="467.88" y1="798.6" x2="467.88" y2="802.4" stroke="#6a6a6a" stroke-width="1.1" />
<line x1="472.72" y1="798.6" x2="472.72" y2="802.4" stroke="#6a6a6a" stroke-width="1.1" />
<line x1="476.98" y1="798.6" x2="476.98" y2="802.4" stroke="#6a6a6a" stroke-width="1.1" />
<line x1="505.91" y1="798.6" x2="505.91" y2="802.4" stroke="#6a6a6a" stroke-width="1.1" />
<line x1="520.59" y1="798.6" x2="520.59" y2="802.4" stroke="#6a6a6a" stroke-width="1.1" />
<line x1="531.01" y1="798.6" x2="531.01" y2="802.4" stroke="#6a6a6a" stroke-width="1.1" />
<line x1="539.09" y1="798.6" x2="539.09" y2="802.4" stroke="#6a6a6a" stroke-width="1.1" />
<line x1="545.7" y1="798.6" x2="545.7" y2="802.4" stroke="#6a6a6a" stroke-width="1.1" />
<line x1="551.28" y1="798.6" x2="551.28" y2="802.4" stroke="#6a6a6a" stroke-width="1.1" />
<line x1="556.12" y1="798.6" x2="556.12" y2="802.4" stroke="#6a6a6a" stroke-width="1.1" />
<line x1="560.38" y1="798.6" x2="560.38" y2="802.4" stroke="#6a6a6a" stroke-width="1.1" />
<line x1="589.31" y1="798.6" x2="589.31" y2="802.4" stroke="#6a6a6a" stroke-width="1.1" />
<line x1="603.99" y1="798.6" x2="603.99" y2="802.4" stroke="#6a6a6a" stroke-width="1.1" />
<line x1="614.41" y1="798.6" x2="614.41" y2="802.4" stroke="#6a6a6a" stroke-width="1.1" />
<line x1="622.49" y1="798.6" x2="622.49" y2="802.4" stroke="#6a6a6a" stroke-width="1.1" />
<line x1="629.1" y1="798.6" x2="629.1" y2="802.4" stroke="#6a6a6a" stroke-width="1.1" />
<line x1="634.68" y1="798.6" x2="634.68" y2="802.4" stroke="#6a6a6a" stroke-width="1.1" />
<line x1="639.52" y1="798.6" x2="639.52" y2="802.4" stroke="#6a6a6a" stroke-width="1.1" />
<line x1="643.78" y1="798.6" x2="643.78" y2="802.4" stroke="#6a6a6a" stroke-width="1.1" />
<text x="481.8" y="837.5" font-size="22.5" text-anchor="middle" fill="#231f20" >10<tspan font-size="16" dy="-10">3</tspan></text>
<text x="565.2" y="837.5" font-size="22.5" text-anchor="middle" fill="#231f20" >10<tspan font-size="16" dy="-10">4</tspan></text>
<path d="M421.3,798.6 C425.63,798.6 441.63,798.6 447.3,798.6 C452.97,798.25 452.27,797.7 455.3,796.5 C458.33,795.3 462.53,795.22 465.5,791.4 C468.47,787.58 470.57,783.37 473.1,773.6 C475.63,763.83 478.58,747.23 480.7,732.8 C482.82,718.37 484.32,697.17 485.8,687 C487.28,676.83 488.53,678.15 489.6,671.8 C490.67,665.45 491.13,655.27 492.2,648.9 C493.27,642.53 494.52,641.45 496,633.6 C497.48,625.75 499.62,607.32 501.1,601.8 C502.58,596.28 503.83,601.77 504.9,600.5 C505.97,599.23 506.65,592.92 507.5,594.2 C508.35,595.48 508.95,601.2 510,608.2 C511.05,615.2 512.53,630.7 513.8,636.2 C515.07,641.7 516.32,635.7 517.6,641.2 C518.88,646.7 519.8,659.87 521.5,669.2 C523.2,678.53 525.47,688.72 527.8,697.2 C530.13,705.68 533.17,710.77 535.5,720.1 C537.83,729.43 539.9,746.62 541.8,753.2 C543.7,759.78 544.35,755.15 546.9,759.6 C549.45,764.05 554.13,775.88 557.1,779.9 C560.07,783.92 561.73,781.37 564.7,783.7 C567.67,786.03 571.92,792.2 574.9,793.9 C577.88,795.6 578.78,793.35 582.6,793.9 C586.42,794.45 593.93,796.42 597.8,797.2 C601.67,797.98 596.87,798.37 605.8,798.6 C614.73,798.6 643.8,798.6 651.4,798.6" fill="none" stroke="#3f6f9b" stroke-width="2.0" stroke-linejoin="round" />
<path d="M421.3,798.6 C426.48,798.6 445.88,798.6 452.4,798.6 C458.92,798.33 457.38,798.2 460.4,797 C463.42,795.8 467.12,798.6 470.5,791.4 C473.88,784.1 478.15,763.8 480.7,753.2 C483.25,742.6 484.52,732.47 485.8,727.8 C487.08,723.13 486.92,736.65 488.4,725.2 C489.88,713.75 492.8,676.48 494.7,659.1 C496.6,641.72 498.1,627.48 499.8,620.9 C501.5,614.32 503.62,624.27 504.9,619.6 C506.18,614.93 506.65,595.65 507.5,592.9 C508.35,590.15 509.15,603.32 510,603.1 C510.85,602.88 511.53,589.48 512.6,591.6 C513.67,593.72 515.13,612.62 516.4,615.8 C517.67,618.98 518.93,611.97 520.2,610.7 C521.47,609.43 522.73,605.87 524,608.2 C525.27,610.53 526.53,619.2 527.8,624.7 C529.07,630.2 530.32,633.35 531.6,641.2 C532.88,649.05 533.58,660.33 535.5,671.8 C537.42,683.27 540.98,701.52 543.1,710 C545.22,718.48 546.08,717.2 548.2,722.7 C550.32,728.2 553.47,735.8 555.8,743 C558.13,750.2 560.07,762.08 562.2,765.9 C564.33,769.72 566.48,763.78 568.6,765.9 C570.72,768.02 572.37,774.87 574.9,778.6 C577.43,782.33 580.4,786.38 583.8,788.3 C587.2,790.22 592.12,788.95 595.3,790.1 C598.48,791.25 598.78,794.02 602.9,795.2 C607.02,796.38 615.82,796.63 620,797.2 C624.18,797.77 622.77,798.37 628,798.6 C633.23,798.6 647.5,798.6 651.4,798.6" fill="none" stroke="#941c20" stroke-width="2.0" stroke-linejoin="round" />
<rect x="420.5" y="561.2" width="231.7" height="237.4" fill="none" stroke="#5e5e5e" stroke-width="1.4" />
<line x1="420.5" y1="859.2" x2="646" y2="859.2" stroke="#3e5573" stroke-width="4.3"/>
<path d="M660,859.2 L644,852.2 L648,859.2 L644,866.2 Z" fill="#3e5573"/>
<text x="392.3" y="896.5" font-size="27" text-anchor="start" fill="#231f20"  textLength="320" lengthAdjust="spacingAndGlyphs">p-mTOR<tspan font-size="18" dy="-11">S2448</tspan><tspan dy="11">–Pacific Blue</tspan></text>
<line x1="725.9" y1="798.6" x2="733.4" y2="798.6" stroke="#6a6a6a" stroke-width="1.4" />
<text x="716.4" y="807.6" font-size="23" text-anchor="end" fill="#231f20" >0</text>
<line x1="729.4" y1="787.27" x2="733.4" y2="787.27" stroke="#6a6a6a" stroke-width="1.1" />
<line x1="729.4" y1="775.95" x2="733.4" y2="775.95" stroke="#6a6a6a" stroke-width="1.1" />
<line x1="729.4" y1="764.62" x2="733.4" y2="764.62" stroke="#6a6a6a" stroke-width="1.1" />
<line x1="725.9" y1="753.3" x2="733.4" y2="753.3" stroke="#6a6a6a" stroke-width="1.4" />
<text x="716.4" y="762.3" font-size="23" text-anchor="end" fill="#231f20" >20</text>
<line x1="729.4" y1="741.98" x2="733.4" y2="741.98" stroke="#6a6a6a" stroke-width="1.1" />
<line x1="729.4" y1="730.65" x2="733.4" y2="730.65" stroke="#6a6a6a" stroke-width="1.1" />
<line x1="729.4" y1="719.33" x2="733.4" y2="719.33" stroke="#6a6a6a" stroke-width="1.1" />
<line x1="725.9" y1="708" x2="733.4" y2="708" stroke="#6a6a6a" stroke-width="1.4" />
<text x="716.4" y="717" font-size="23" text-anchor="end" fill="#231f20" >40</text>
<line x1="729.4" y1="696.68" x2="733.4" y2="696.68" stroke="#6a6a6a" stroke-width="1.1" />
<line x1="729.4" y1="685.35" x2="733.4" y2="685.35" stroke="#6a6a6a" stroke-width="1.1" />
<line x1="729.4" y1="674.02" x2="733.4" y2="674.02" stroke="#6a6a6a" stroke-width="1.1" />
<line x1="725.9" y1="662.7" x2="733.4" y2="662.7" stroke="#6a6a6a" stroke-width="1.4" />
<text x="716.4" y="671.7" font-size="23" text-anchor="end" fill="#231f20" >60</text>
<line x1="729.4" y1="651.38" x2="733.4" y2="651.38" stroke="#6a6a6a" stroke-width="1.1" />
<line x1="729.4" y1="640.05" x2="733.4" y2="640.05" stroke="#6a6a6a" stroke-width="1.1" />
<line x1="729.4" y1="628.73" x2="733.4" y2="628.73" stroke="#6a6a6a" stroke-width="1.1" />
<line x1="725.9" y1="617.4" x2="733.4" y2="617.4" stroke="#6a6a6a" stroke-width="1.4" />
<text x="716.4" y="626.4" font-size="23" text-anchor="end" fill="#231f20" >80</text>
<line x1="729.4" y1="606.08" x2="733.4" y2="606.08" stroke="#6a6a6a" stroke-width="1.1" />
<line x1="729.4" y1="594.75" x2="733.4" y2="594.75" stroke="#6a6a6a" stroke-width="1.1" />
<line x1="729.4" y1="583.42" x2="733.4" y2="583.42" stroke="#6a6a6a" stroke-width="1.1" />
<line x1="725.9" y1="572.1" x2="733.4" y2="572.1" stroke="#6a6a6a" stroke-width="1.4" />
<text x="716.4" y="581.1" font-size="23" text-anchor="end" fill="#231f20" >100</text>
<line x1="772" y1="798.6" x2="772" y2="806.1" stroke="#6a6a6a" stroke-width="1.4" />
<line x1="823.2" y1="798.6" x2="823.2" y2="806.1" stroke="#6a6a6a" stroke-width="1.4" />
<line x1="886.5" y1="798.6" x2="886.5" y2="806.1" stroke="#6a6a6a" stroke-width="1.4" />
<line x1="946.9" y1="798.6" x2="946.9" y2="806.1" stroke="#6a6a6a" stroke-width="1.4" />
<line x1="741" y1="798.6" x2="741" y2="802.4" stroke="#6a6a6a" stroke-width="1.1" />
<line x1="748" y1="798.6" x2="748" y2="802.4" stroke="#6a6a6a" stroke-width="1.1" />
<line x1="753" y1="798.6" x2="753" y2="802.4" stroke="#6a6a6a" stroke-width="1.1" />
<line x1="757" y1="798.6" x2="757" y2="802.4" stroke="#6a6a6a" stroke-width="1.1" />
<line x1="760" y1="798.6" x2="760" y2="802.4" stroke="#6a6a6a" stroke-width="1.1" />
<line x1="763" y1="798.6" x2="763" y2="802.4" stroke="#6a6a6a" stroke-width="1.1" />
<line x1="766" y1="798.6" x2="766" y2="802.4" stroke="#6a6a6a" stroke-width="1.1" />
<line x1="767.5" y1="798.6" x2="767.5" y2="802.4" stroke="#6a6a6a" stroke-width="1.1" />
<line x1="769" y1="798.6" x2="769" y2="802.4" stroke="#6a6a6a" stroke-width="1.1" />
<line x1="770.5" y1="798.6" x2="770.5" y2="802.4" stroke="#6a6a6a" stroke-width="1.1" />
<line x1="773.5" y1="798.6" x2="773.5" y2="802.4" stroke="#6a6a6a" stroke-width="1.1" />
<line x1="775" y1="798.6" x2="775" y2="802.4" stroke="#6a6a6a" stroke-width="1.1" />
<line x1="776.5" y1="798.6" x2="776.5" y2="802.4" stroke="#6a6a6a" stroke-width="1.1" />
<line x1="779" y1="798.6" x2="779" y2="802.4" stroke="#6a6a6a" stroke-width="1.1" />
<line x1="782" y1="798.6" x2="782" y2="802.4" stroke="#6a6a6a" stroke-width="1.1" />
<line x1="786" y1="798.6" x2="786" y2="802.4" stroke="#6a6a6a" stroke-width="1.1" />
<line x1="791" y1="798.6" x2="791" y2="802.4" stroke="#6a6a6a" stroke-width="1.1" />
<line x1="797" y1="798.6" x2="797" y2="802.4" stroke="#6a6a6a" stroke-width="1.1" />
<line x1="804" y1="798.6" x2="804" y2="802.4" stroke="#6a6a6a" stroke-width="1.1" />
<line x1="810" y1="798.6" x2="810" y2="802.4" stroke="#6a6a6a" stroke-width="1.1" />
<line x1="815" y1="798.6" x2="815" y2="802.4" stroke="#6a6a6a" stroke-width="1.1" />
<line x1="819" y1="798.6" x2="819" y2="802.4" stroke="#6a6a6a" stroke-width="1.1" />
<line x1="842.26" y1="798.6" x2="842.26" y2="802.4" stroke="#6a6a6a" stroke-width="1.1" />
<line x1="853.4" y1="798.6" x2="853.4" y2="802.4" stroke="#6a6a6a" stroke-width="1.1" />
<line x1="861.31" y1="798.6" x2="861.31" y2="802.4" stroke="#6a6a6a" stroke-width="1.1" />
<line x1="867.44" y1="798.6" x2="867.44" y2="802.4" stroke="#6a6a6a" stroke-width="1.1" />
<line x1="872.46" y1="798.6" x2="872.46" y2="802.4" stroke="#6a6a6a" stroke-width="1.1" />
<line x1="876.69" y1="798.6" x2="876.69" y2="802.4" stroke="#6a6a6a" stroke-width="1.1" />
<line x1="880.37" y1="798.6" x2="880.37" y2="802.4" stroke="#6a6a6a" stroke-width="1.1" />
<line x1="883.6" y1="798.6" x2="883.6" y2="802.4" stroke="#6a6a6a" stroke-width="1.1" />
<line x1="904.68" y1="798.6" x2="904.68" y2="802.4" stroke="#6a6a6a" stroke-width="1.1" />
<line x1="915.32" y1="798.6" x2="915.32" y2="802.4" stroke="#6a6a6a" stroke-width="1.1" />
<line x1="922.86" y1="798.6" x2="922.86" y2="802.4" stroke="#6a6a6a" stroke-width="1.1" />
<line x1="928.72" y1="798.6" x2="928.72" y2="802.4" stroke="#6a6a6a" stroke-width="1.1" />
<line x1="933.5" y1="798.6" x2="933.5" y2="802.4" stroke="#6a6a6a" stroke-width="1.1" />
<line x1="937.54" y1="798.6" x2="937.54" y2="802.4" stroke="#6a6a6a" stroke-width="1.1" />
<line x1="941.05" y1="798.6" x2="941.05" y2="802.4" stroke="#6a6a6a" stroke-width="1.1" />
<line x1="944.14" y1="798.6" x2="944.14" y2="802.4" stroke="#6a6a6a" stroke-width="1.1" />
<text x="772" y="837.5" font-size="22.5" text-anchor="middle" fill="#231f20" >0</text>
<text x="824.2" y="837.5" font-size="22.5" text-anchor="middle" fill="#231f20" >10<tspan font-size="16" dy="-10">3</tspan></text>
<text x="887.5" y="837.5" font-size="22.5" text-anchor="middle" fill="#231f20" >10<tspan font-size="16" dy="-10">4</tspan></text>
<text x="947.9" y="837.5" font-size="22.5" text-anchor="middle" fill="#231f20" >10<tspan font-size="16" dy="-10">5</tspan></text>
<path d="M734.2,798.6 C745.95,798.6 791.62,798.6 804.7,798.6 C817.78,798.37 810.1,798.6 812.7,797.2 C815.3,795.57 818.18,794.43 820.3,788.8 C822.42,783.17 823.92,774.42 825.4,763.4 C826.88,752.38 828.13,735.85 829.2,722.7 C830.27,709.55 830.73,700.2 831.8,684.5 C832.87,668.8 834.33,644.18 835.6,628.5 C836.87,612.82 838.43,598.23 839.4,590.4 C840.37,582.57 840.55,580.67 841.4,581.5 C842.25,582.33 843.35,587.13 844.5,595.4 C845.65,603.67 847.23,624.3 848.3,631.1 C849.37,637.9 849.83,628.57 850.9,636.2 C851.97,643.83 853.23,665.03 854.7,676.9 C856.17,688.77 858.22,697.23 859.7,707.4 C861.18,717.57 862.12,729.83 863.6,737.9 C865.08,745.97 866.48,748.17 868.6,755.8 C870.72,763.43 873.75,777.13 876.3,783.7 C878.85,790.27 881.78,792.95 883.9,795.2 C886.02,797.45 886.82,796.63 889,797.2 C891.18,797.77 883.25,798.37 897,798.6 C910.75,798.6 959.08,798.6 971.5,798.6" fill="none" stroke="#3f6f9b" stroke-width="2.0" stroke-linejoin="round" />
<path d="M734.2,798.6 C747.22,798.6 797.95,798.6 812.3,798.6 C826.65,798.45 817.68,798.6 820.3,797.7 C822.92,796.5 825.87,798.6 828,791.4 C830.13,783.98 831.42,769.75 833.1,753.2 C834.78,736.65 836.62,709.92 838.1,692.1 C839.58,674.28 840.72,660.72 842,646.3 C843.28,631.88 844.75,615.57 845.8,605.6 C846.85,595.63 847.45,590.32 848.3,586.5 C849.15,582.68 850.05,581.22 850.9,582.7 C851.75,584.18 852.35,591.58 853.4,595.4 C854.45,599.22 856.13,601.78 857.2,605.6 C858.27,609.42 858.53,611.52 859.8,618.3 C861.07,625.08 863.53,638.23 864.8,646.3 C866.07,654.37 866.33,658.22 867.4,666.7 C868.47,675.18 869.72,687.02 871.2,697.2 C872.68,707.38 874.6,716.77 876.3,727.8 C878,738.83 879.5,752.8 881.4,763.4 C883.3,774 885.58,785.68 887.7,791.4 C889.82,797.12 891.7,796.5 894.1,797.7 C896.5,798.6 889.2,798.45 902.1,798.6 C915,798.6 959.93,798.6 971.5,798.6" fill="none" stroke="#941c20" stroke-width="2.0" stroke-linejoin="round" />
<rect x="733.4" y="561" width="238.9" height="237.6" fill="none" stroke="#5e5e5e" stroke-width="1.4" />
<line x1="733.4" y1="859.2" x2="958.3" y2="859.2" stroke="#3e5573" stroke-width="4.3"/>
<path d="M972.3,859.2 L956.3,852.2 L960.3,859.2 L956.3,866.2 Z" fill="#3e5573"/>
<text x="793" y="896.5" font-size="27" text-anchor="start" fill="#231f20"  textLength="112.8" lengthAdjust="spacingAndGlyphs">HIF1α–PE</text>
<line x1="1041.1" y1="798.6" x2="1048.6" y2="798.6" stroke="#6a6a6a" stroke-width="1.4" />
<text x="1031.6" y="807.6" font-size="23" text-anchor="end" fill="#231f20" >0</text>
<line x1="1044.6" y1="787.27" x2="1048.6" y2="787.27" stroke="#6a6a6a" stroke-width="1.1" />
<line x1="1044.6" y1="775.95" x2="1048.6" y2="775.95" stroke="#6a6a6a" stroke-width="1.1" />
<line x1="1044.6" y1="764.62" x2="1048.6" y2="764.62" stroke="#6a6a6a" stroke-width="1.1" />
<line x1="1041.1" y1="753.3" x2="1048.6" y2="753.3" stroke="#6a6a6a" stroke-width="1.4" />
<text x="1031.6" y="762.3" font-size="23" text-anchor="end" fill="#231f20" >20</text>
<line x1="1044.6" y1="741.98" x2="1048.6" y2="741.98" stroke="#6a6a6a" stroke-width="1.1" />
<line x1="1044.6" y1="730.65" x2="1048.6" y2="730.65" stroke="#6a6a6a" stroke-width="1.1" />
<line x1="1044.6" y1="719.33" x2="1048.6" y2="719.33" stroke="#6a6a6a" stroke-width="1.1" />
<line x1="1041.1" y1="708" x2="1048.6" y2="708" stroke="#6a6a6a" stroke-width="1.4" />
<text x="1031.6" y="717" font-size="23" text-anchor="end" fill="#231f20" >40</text>
<line x1="1044.6" y1="696.68" x2="1048.6" y2="696.68" stroke="#6a6a6a" stroke-width="1.1" />
<line x1="1044.6" y1="685.35" x2="1048.6" y2="685.35" stroke="#6a6a6a" stroke-width="1.1" />
<line x1="1044.6" y1="674.02" x2="1048.6" y2="674.02" stroke="#6a6a6a" stroke-width="1.1" />
<line x1="1041.1" y1="662.7" x2="1048.6" y2="662.7" stroke="#6a6a6a" stroke-width="1.4" />
<text x="1031.6" y="671.7" font-size="23" text-anchor="end" fill="#231f20" >60</text>
<line x1="1044.6" y1="651.38" x2="1048.6" y2="651.38" stroke="#6a6a6a" stroke-width="1.1" />
<line x1="1044.6" y1="640.05" x2="1048.6" y2="640.05" stroke="#6a6a6a" stroke-width="1.1" />
<line x1="1044.6" y1="628.73" x2="1048.6" y2="628.73" stroke="#6a6a6a" stroke-width="1.1" />
<line x1="1041.1" y1="617.4" x2="1048.6" y2="617.4" stroke="#6a6a6a" stroke-width="1.4" />
<text x="1031.6" y="626.4" font-size="23" text-anchor="end" fill="#231f20" >80</text>
<line x1="1044.6" y1="606.08" x2="1048.6" y2="606.08" stroke="#6a6a6a" stroke-width="1.1" />
<line x1="1044.6" y1="594.75" x2="1048.6" y2="594.75" stroke="#6a6a6a" stroke-width="1.1" />
<line x1="1044.6" y1="583.42" x2="1048.6" y2="583.42" stroke="#6a6a6a" stroke-width="1.1" />
<line x1="1041.1" y1="572.1" x2="1048.6" y2="572.1" stroke="#6a6a6a" stroke-width="1.4" />
<text x="1031.6" y="581.1" font-size="23" text-anchor="end" fill="#231f20" >100</text>
<line x1="1048.6" y1="798.6" x2="1048.6" y2="806.1" stroke="#6a6a6a" stroke-width="1.4" />
<line x1="1116.3" y1="798.6" x2="1116.3" y2="806.1" stroke="#6a6a6a" stroke-width="1.4" />
<line x1="1184.6" y1="798.6" x2="1184.6" y2="806.1" stroke="#6a6a6a" stroke-width="1.4" />
<line x1="1261.2" y1="798.6" x2="1261.2" y2="806.1" stroke="#6a6a6a" stroke-width="1.4" />
<line x1="1069.04" y1="798.6" x2="1069.04" y2="802.4" stroke="#6a6a6a" stroke-width="1.1" />
<line x1="1081" y1="798.6" x2="1081" y2="802.4" stroke="#6a6a6a" stroke-width="1.1" />
<line x1="1089.48" y1="798.6" x2="1089.48" y2="802.4" stroke="#6a6a6a" stroke-width="1.1" />
<line x1="1096.06" y1="798.6" x2="1096.06" y2="802.4" stroke="#6a6a6a" stroke-width="1.1" />
<line x1="1101.44" y1="798.6" x2="1101.44" y2="802.4" stroke="#6a6a6a" stroke-width="1.1" />
<line x1="1105.98" y1="798.6" x2="1105.98" y2="802.4" stroke="#6a6a6a" stroke-width="1.1" />
<line x1="1109.92" y1="798.6" x2="1109.92" y2="802.4" stroke="#6a6a6a" stroke-width="1.1" />
<line x1="1113.39" y1="798.6" x2="1113.39" y2="802.4" stroke="#6a6a6a" stroke-width="1.1" />
<line x1="1136.94" y1="798.6" x2="1136.94" y2="802.4" stroke="#6a6a6a" stroke-width="1.1" />
<line x1="1148.9" y1="798.6" x2="1148.9" y2="802.4" stroke="#6a6a6a" stroke-width="1.1" />
<line x1="1157.38" y1="798.6" x2="1157.38" y2="802.4" stroke="#6a6a6a" stroke-width="1.1" />
<line x1="1163.96" y1="798.6" x2="1163.96" y2="802.4" stroke="#6a6a6a" stroke-width="1.1" />
<line x1="1169.34" y1="798.6" x2="1169.34" y2="802.4" stroke="#6a6a6a" stroke-width="1.1" />
<line x1="1173.88" y1="798.6" x2="1173.88" y2="802.4" stroke="#6a6a6a" stroke-width="1.1" />
<line x1="1177.82" y1="798.6" x2="1177.82" y2="802.4" stroke="#6a6a6a" stroke-width="1.1" />
<line x1="1181.29" y1="798.6" x2="1181.29" y2="802.4" stroke="#6a6a6a" stroke-width="1.1" />
<line x1="1207.66" y1="798.6" x2="1207.66" y2="802.4" stroke="#6a6a6a" stroke-width="1.1" />
<line x1="1221.15" y1="798.6" x2="1221.15" y2="802.4" stroke="#6a6a6a" stroke-width="1.1" />
<line x1="1230.72" y1="798.6" x2="1230.72" y2="802.4" stroke="#6a6a6a" stroke-width="1.1" />
<line x1="1238.14" y1="798.6" x2="1238.14" y2="802.4" stroke="#6a6a6a" stroke-width="1.1" />
<line x1="1244.21" y1="798.6" x2="1244.21" y2="802.4" stroke="#6a6a6a" stroke-width="1.1" />
<line x1="1249.33" y1="798.6" x2="1249.33" y2="802.4" stroke="#6a6a6a" stroke-width="1.1" />
<line x1="1253.78" y1="798.6" x2="1253.78" y2="802.4" stroke="#6a6a6a" stroke-width="1.1" />
<line x1="1257.69" y1="798.6" x2="1257.69" y2="802.4" stroke="#6a6a6a" stroke-width="1.1" />
<text x="1049.6" y="837.5" font-size="22.5" text-anchor="middle" fill="#231f20" >10<tspan font-size="16" dy="-10">1</tspan></text>
<text x="1117.3" y="837.5" font-size="22.5" text-anchor="middle" fill="#231f20" >10<tspan font-size="16" dy="-10">2</tspan></text>
<text x="1185.6" y="837.5" font-size="22.5" text-anchor="middle" fill="#231f20" >10<tspan font-size="16" dy="-10">3</tspan></text>
<text x="1262.2" y="837.5" font-size="22.5" text-anchor="middle" fill="#231f20" >10<tspan font-size="16" dy="-10">4</tspan></text>
<path d="M1049.4,798.6 C1060.72,798.6 1104.65,798.6 1117.3,798.6 C1129.95,798.25 1121.85,797.28 1125.3,796.5 C1128.75,795.72 1134.18,796.88 1138,793.9 C1141.82,790.92 1145.65,783.68 1148.2,778.6 C1150.75,773.52 1152.03,769.75 1153.3,763.4 C1154.57,757.05 1154.95,746.02 1155.8,740.5 C1156.65,734.98 1157.55,734.97 1158.4,730.3 C1159.25,725.63 1160.07,720.55 1160.9,712.5 C1161.73,704.45 1162.33,689.22 1163.4,682 C1164.47,674.78 1166.02,675.57 1167.3,669.2 C1168.58,662.83 1170.05,654.6 1171.1,643.8 C1172.15,633 1172.97,610.97 1173.6,604.4 C1174.23,597.83 1174.27,602.28 1174.9,604.4 C1175.53,606.52 1176.55,616.68 1177.4,617.1 C1178.25,617.52 1178.93,603.3 1180,606.9 C1181.07,610.5 1182.53,627.88 1183.8,638.7 C1185.07,649.52 1186.33,664.17 1187.6,671.8 C1188.87,679.43 1189.7,676.87 1191.4,684.5 C1193.1,692.13 1195.47,707 1197.8,717.6 C1200.13,728.2 1203.07,739.2 1205.4,748.1 C1207.73,757 1209.47,764.22 1211.8,771 C1214.13,777.78 1216.43,784.77 1219.4,788.8 C1222.37,792.83 1226.62,793.72 1229.6,795.2 C1232.58,796.68 1234.68,797.13 1237.3,797.7 C1239.92,798.27 1237.95,798.45 1245.3,798.6 C1252.65,798.6 1275.38,798.6 1281.4,798.6" fill="none" stroke="#3f6f9b" stroke-width="2.0" stroke-linejoin="round" />
<path d="M1049.4,798.6 C1062.42,798.6 1113.15,798.6 1127.5,798.6 C1141.85,798.37 1132.05,798.4 1135.5,797.2 C1138.95,796 1144.82,794.5 1148.2,791.4 C1151.58,788.3 1153.68,784.97 1155.8,778.6 C1157.92,772.23 1159.2,762.52 1160.9,753.2 C1162.6,743.88 1164.3,735.42 1166,722.7 C1167.7,709.98 1169.62,688.78 1171.1,676.9 C1172.58,665.02 1173.85,659.03 1174.9,651.4 C1175.95,643.77 1176.68,640 1177.4,631.1 C1178.12,622.2 1178.55,603.95 1179.2,598 C1179.85,592.05 1180.75,594.13 1181.3,595.4 C1181.85,596.67 1181.87,606.65 1182.5,605.6 C1183.13,604.55 1184.25,590.37 1185.1,589.1 C1185.95,587.83 1186.75,596.73 1187.6,598 C1188.45,599.27 1189.35,594.15 1190.2,596.7 C1191.05,599.25 1191.85,611.82 1192.7,613.3 C1193.55,614.78 1194.45,600.95 1195.3,605.6 C1196.15,610.25 1196.75,633.98 1197.8,641.2 C1198.85,648.42 1200.53,645.08 1201.6,648.9 C1202.67,652.72 1203.35,660.72 1204.2,664.1 C1205.05,667.48 1205.65,662.83 1206.7,669.2 C1207.75,675.57 1208.8,691.7 1210.5,702.3 C1212.2,712.9 1214.57,722.62 1216.9,732.8 C1219.23,742.98 1221.95,754.27 1224.5,763.4 C1227.05,772.53 1229.65,781.97 1232.2,787.6 C1234.75,793.23 1237.2,795.37 1239.8,797.2 C1242.4,798.6 1240.87,798.37 1247.8,798.6 C1254.73,798.6 1275.8,798.6 1281.4,798.6" fill="none" stroke="#941c20" stroke-width="2.0" stroke-linejoin="round" />
<rect x="1048.6" y="561" width="233.6" height="237.6" fill="none" stroke="#5e5e5e" stroke-width="1.4" />
<line x1="1047.8" y1="859.2" x2="1272.2" y2="859.2" stroke="#3e5573" stroke-width="4.3"/>
<path d="M1286.2,859.2 L1270.2,852.2 L1274.2,859.2 L1270.2,866.2 Z" fill="#3e5573"/>
<text x="1109" y="896.5" font-size="27" text-anchor="start" fill="#231f20"  textLength="122.8" lengthAdjust="spacingAndGlyphs">GLUT1–PE</text>
<line x1="1349" y1="798.6" x2="1356.5" y2="798.6" stroke="#6a6a6a" stroke-width="1.4" />
<text x="1339.5" y="807.6" font-size="23" text-anchor="end" fill="#231f20" >0</text>
<line x1="1352.5" y1="787.27" x2="1356.5" y2="787.27" stroke="#6a6a6a" stroke-width="1.1" />
<line x1="1352.5" y1="775.95" x2="1356.5" y2="775.95" stroke="#6a6a6a" stroke-width="1.1" />
<line x1="1352.5" y1="764.62" x2="1356.5" y2="764.62" stroke="#6a6a6a" stroke-width="1.1" />
<line x1="1349" y1="753.3" x2="1356.5" y2="753.3" stroke="#6a6a6a" stroke-width="1.4" />
<text x="1339.5" y="762.3" font-size="23" text-anchor="end" fill="#231f20" >20</text>
<line x1="1352.5" y1="741.98" x2="1356.5" y2="741.98" stroke="#6a6a6a" stroke-width="1.1" />
<line x1="1352.5" y1="730.65" x2="1356.5" y2="730.65" stroke="#6a6a6a" stroke-width="1.1" />
<line x1="1352.5" y1="719.33" x2="1356.5" y2="719.33" stroke="#6a6a6a" stroke-width="1.1" />
<line x1="1349" y1="708" x2="1356.5" y2="708" stroke="#6a6a6a" stroke-width="1.4" />
<text x="1339.5" y="717" font-size="23" text-anchor="end" fill="#231f20" >40</text>
<line x1="1352.5" y1="696.68" x2="1356.5" y2="696.68" stroke="#6a6a6a" stroke-width="1.1" />
<line x1="1352.5" y1="685.35" x2="1356.5" y2="685.35" stroke="#6a6a6a" stroke-width="1.1" />
<line x1="1352.5" y1="674.02" x2="1356.5" y2="674.02" stroke="#6a6a6a" stroke-width="1.1" />
<line x1="1349" y1="662.7" x2="1356.5" y2="662.7" stroke="#6a6a6a" stroke-width="1.4" />
<text x="1339.5" y="671.7" font-size="23" text-anchor="end" fill="#231f20" >60</text>
<line x1="1352.5" y1="651.38" x2="1356.5" y2="651.38" stroke="#6a6a6a" stroke-width="1.1" />
<line x1="1352.5" y1="640.05" x2="1356.5" y2="640.05" stroke="#6a6a6a" stroke-width="1.1" />
<line x1="1352.5" y1="628.73" x2="1356.5" y2="628.73" stroke="#6a6a6a" stroke-width="1.1" />
<line x1="1349" y1="617.4" x2="1356.5" y2="617.4" stroke="#6a6a6a" stroke-width="1.4" />
<text x="1339.5" y="626.4" font-size="23" text-anchor="end" fill="#231f20" >80</text>
<line x1="1352.5" y1="606.08" x2="1356.5" y2="606.08" stroke="#6a6a6a" stroke-width="1.1" />
<line x1="1352.5" y1="594.75" x2="1356.5" y2="594.75" stroke="#6a6a6a" stroke-width="1.1" />
<line x1="1352.5" y1="583.42" x2="1356.5" y2="583.42" stroke="#6a6a6a" stroke-width="1.1" />
<line x1="1349" y1="572.1" x2="1356.5" y2="572.1" stroke="#6a6a6a" stroke-width="1.4" />
<text x="1339.5" y="581.1" font-size="23" text-anchor="end" fill="#231f20" >100</text>
<line x1="1405.7" y1="798.6" x2="1405.7" y2="806.1" stroke="#6a6a6a" stroke-width="1.4" />
<line x1="1500.8" y1="798.6" x2="1500.8" y2="806.1" stroke="#6a6a6a" stroke-width="1.4" />
<line x1="1367.86" y1="798.6" x2="1367.86" y2="802.4" stroke="#6a6a6a" stroke-width="1.1" />
<line x1="1377.07" y1="798.6" x2="1377.07" y2="802.4" stroke="#6a6a6a" stroke-width="1.1" />
<line x1="1384.6" y1="798.6" x2="1384.6" y2="802.4" stroke="#6a6a6a" stroke-width="1.1" />
<line x1="1390.97" y1="798.6" x2="1390.97" y2="802.4" stroke="#6a6a6a" stroke-width="1.1" />
<line x1="1396.48" y1="798.6" x2="1396.48" y2="802.4" stroke="#6a6a6a" stroke-width="1.1" />
<line x1="1401.35" y1="798.6" x2="1401.35" y2="802.4" stroke="#6a6a6a" stroke-width="1.1" />
<line x1="1434.33" y1="798.6" x2="1434.33" y2="802.4" stroke="#6a6a6a" stroke-width="1.1" />
<line x1="1451.07" y1="798.6" x2="1451.07" y2="802.4" stroke="#6a6a6a" stroke-width="1.1" />
<line x1="1462.96" y1="798.6" x2="1462.96" y2="802.4" stroke="#6a6a6a" stroke-width="1.1" />
<line x1="1472.17" y1="798.6" x2="1472.17" y2="802.4" stroke="#6a6a6a" stroke-width="1.1" />
<line x1="1479.7" y1="798.6" x2="1479.7" y2="802.4" stroke="#6a6a6a" stroke-width="1.1" />
<line x1="1486.07" y1="798.6" x2="1486.07" y2="802.4" stroke="#6a6a6a" stroke-width="1.1" />
<line x1="1491.58" y1="798.6" x2="1491.58" y2="802.4" stroke="#6a6a6a" stroke-width="1.1" />
<line x1="1496.45" y1="798.6" x2="1496.45" y2="802.4" stroke="#6a6a6a" stroke-width="1.1" />
<line x1="1529.43" y1="798.6" x2="1529.43" y2="802.4" stroke="#6a6a6a" stroke-width="1.1" />
<line x1="1546.17" y1="798.6" x2="1546.17" y2="802.4" stroke="#6a6a6a" stroke-width="1.1" />
<line x1="1558.06" y1="798.6" x2="1558.06" y2="802.4" stroke="#6a6a6a" stroke-width="1.1" />
<line x1="1567.27" y1="798.6" x2="1567.27" y2="802.4" stroke="#6a6a6a" stroke-width="1.1" />
<line x1="1574.8" y1="798.6" x2="1574.8" y2="802.4" stroke="#6a6a6a" stroke-width="1.1" />
<line x1="1581.17" y1="798.6" x2="1581.17" y2="802.4" stroke="#6a6a6a" stroke-width="1.1" />
<line x1="1586.68" y1="798.6" x2="1586.68" y2="802.4" stroke="#6a6a6a" stroke-width="1.1" />
<text x="1406.7" y="837.5" font-size="22.5" text-anchor="middle" fill="#231f20" >10<tspan font-size="16" dy="-10">3</tspan></text>
<text x="1501.8" y="837.5" font-size="22.5" text-anchor="middle" fill="#231f20" >10<tspan font-size="16" dy="-10">4</tspan></text>
<path d="M1357.3,798.6 C1372.3,798.6 1430.97,798.6 1447.3,798.6 C1463.63,798.25 1452.27,797.07 1455.3,796.5 C1458.33,795.93 1462.53,796.05 1465.5,795.2 C1468.47,794.35 1470.57,794.17 1473.1,791.4 C1475.63,788.63 1478.37,785.82 1480.7,778.6 C1483.03,771.38 1485.18,759.12 1487.1,748.1 C1489.02,737.08 1490.72,725.22 1492.2,712.5 C1493.68,699.78 1494.95,681.55 1496,671.8 C1497.05,662.05 1497.65,659.52 1498.5,654 C1499.35,648.48 1500.25,646.33 1501.1,638.7 C1501.95,631.07 1502.83,613.72 1503.6,608.2 C1504.37,602.68 1505.07,609 1505.7,605.6 C1506.33,602.2 1506.82,591.4 1507.4,587.8 C1507.98,584.2 1508.55,583.57 1509.2,584 C1509.85,584.43 1510.53,585.95 1511.3,590.4 C1512.07,594.85 1512.75,603.07 1513.8,610.7 C1514.85,618.33 1516.33,626.87 1517.6,636.2 C1518.87,645.53 1519.92,653.98 1521.4,666.7 C1522.88,679.42 1524.8,698.08 1526.5,712.5 C1528.2,726.92 1529.68,741.33 1531.6,753.2 C1533.52,765.07 1535.87,776.7 1538,783.7 C1540.13,790.7 1542.07,792.87 1544.4,795.2 C1546.73,797.53 1549.4,797.13 1552,797.7 C1554.6,798.27 1553.9,798.45 1560,798.6 C1566.1,798.6 1583.83,798.6 1588.6,798.6" fill="none" stroke="#3f6f9b" stroke-width="2.0" stroke-linejoin="round" />
<path d="M1357.3,798.6 C1373.57,798.6 1437.3,798.6 1454.9,798.6 C1472.5,798.25 1459.87,797.07 1462.9,796.5 C1465.93,795.93 1470.13,795.85 1473.1,795.2 C1476.07,794.55 1478.37,794.52 1480.7,792.6 C1483.03,790.68 1485.4,787.72 1487.1,783.7 C1488.8,779.68 1489.42,776.98 1490.9,768.5 C1492.38,760.02 1494.3,745.53 1496,732.8 C1497.7,720.07 1499.62,703.12 1501.1,692.1 C1502.58,681.08 1503.63,677.72 1504.9,666.7 C1506.17,655.68 1507.72,634.07 1508.7,626 C1509.68,617.93 1510.17,618.73 1510.8,618.3 C1511.43,617.87 1511.92,625.08 1512.5,623.4 C1513.08,621.72 1513.65,613.92 1514.3,608.2 C1514.95,602.48 1515.63,590.8 1516.4,589.1 C1517.17,587.4 1518.15,594.18 1518.9,598 C1519.65,601.82 1520.05,610.1 1520.9,612 C1521.75,613.9 1522.85,609.62 1524,609.4 C1525.15,609.18 1526.73,607.93 1527.8,610.7 C1528.87,613.47 1529.55,617.93 1530.4,626 C1531.25,634.07 1531.85,649.35 1532.9,659.1 C1533.95,668.85 1535.43,672.22 1536.7,684.5 C1537.97,696.78 1539.22,722.2 1540.5,732.8 C1541.78,743.4 1543.12,740.88 1544.4,748.1 C1545.68,755.32 1546.72,768.88 1548.2,776.1 C1549.68,783.32 1551.4,787.88 1553.3,791.4 C1555.2,794.92 1557.22,796 1559.6,797.2 C1561.98,798.4 1562.77,798.37 1567.6,798.6 C1572.43,798.6 1585.1,798.6 1588.6,798.6" fill="none" stroke="#941c20" stroke-width="2.0" stroke-linejoin="round" />
<rect x="1356.5" y="559" width="232.9" height="239.6" fill="none" stroke="#5e5e5e" stroke-width="1.4" />
<line x1="1357.4" y1="859.2" x2="1583" y2="859.2" stroke="#3e5573" stroke-width="4.3"/>
<path d="M1597,859.2 L1581,852.2 L1585,859.2 L1581,866.2 Z" fill="#3e5573"/>
<text x="1380.7" y="896.5" font-size="27" text-anchor="start" fill="#231f20"  textLength="210.3" lengthAdjust="spacingAndGlyphs">Hexokinase 2–PE</text>
<text x="1618" y="499" font-size="40" text-anchor="start" fill="#1a1718" font-weight="bold" stroke="#1a1718" stroke-width="1.1">f</text>
<line x1="1700.6" y1="493.4" x2="1717.8" y2="493.4" stroke="#b3a293" stroke-width="2.0" />
<line x1="1700.6" y1="530.2" x2="1717.8" y2="530.2" stroke="#9a2226" stroke-width="2.0" />
<text x="1730" y="506.6" font-size="27" text-anchor="start" fill="#231f20"  textLength="83.5" lengthAdjust="spacingAndGlyphs">Torin-1</text>
<text x="1730" y="540.5" font-size="27" text-anchor="start" fill="#231f20"  textLength="93.4" lengthAdjust="spacingAndGlyphs">Vehicle</text>
<line x1="1717.8" y1="566.5" x2="1717.8" y2="797.4" stroke="#6a6a6a" stroke-width="1.5" />
<line x1="1707" y1="796.8" x2="1717.8" y2="796.8" stroke="#6a6a6a" stroke-width="1.5" />
<text x="1694" y="805.1" font-size="23" text-anchor="end" fill="#231f20" >0</text>
<line x1="1707" y1="681.9" x2="1717.8" y2="681.9" stroke="#6a6a6a" stroke-width="1.5" />
<text x="1694" y="690.2" font-size="23" text-anchor="end" fill="#231f20" >50</text>
<line x1="1707" y1="567" x2="1717.8" y2="567" stroke="#6a6a6a" stroke-width="1.5" />
<text x="1694" y="575.3" font-size="23" text-anchor="end" fill="#231f20" >100</text>
<line x1="1717.2" y1="796.8" x2="2170" y2="796.8" stroke="#6a6a6a" stroke-width="1.5" />
<line x1="1717.8" y1="796.8" x2="1717.8" y2="808" stroke="#6a6a6a" stroke-width="1.5" />
<text x="1717.8" y="837" font-size="23" text-anchor="middle" fill="#231f20" >0</text>
<line x1="1899.53" y1="796.8" x2="1899.53" y2="808" stroke="#6a6a6a" stroke-width="1.5" />
<text x="1899.53" y="837" font-size="23" text-anchor="middle" fill="#231f20" >50</text>
<line x1="2081.26" y1="796.8" x2="2081.26" y2="808" stroke="#6a6a6a" stroke-width="1.5" />
<text x="2081.26" y="837" font-size="23" text-anchor="middle" fill="#231f20" >100</text>
<text x="1893.6" y="872.4" font-size="27" text-anchor="start" fill="#231f20"  textLength="101.6" lengthAdjust="spacingAndGlyphs">Time (d)</text>
<text transform="translate(1641,682.1) rotate(-90)" font-size="27" text-anchor="middle" fill="#231f20" textLength="144.8" lengthAdjust="spacingAndGlyphs">Survival (%)</text>
<text x="1725.2" y="785" font-size="27" text-anchor="start" fill="#231f20"  textLength="134" lengthAdjust="spacingAndGlyphs"><tspan font-style="italic">P</tspan> = 0.0057</text>
<polyline points="1717.8,567 1870.09,567 1870.09,599.86 1968.59,599.86 1968.59,632.72 2037.64,632.72 2037.64,698.22 2170.31,698.22 2170.31,698.22" fill="none" stroke="#b3a293" stroke-width="2.2" stroke-linejoin="round" stroke-linejoin="miter"/>
<line x1="2169.94" y1="693.22" x2="2169.94" y2="699.22" stroke="#b3a293" stroke-width="2" />
<polyline points="1717.8,567 1757.78,567 1757.78,605.38 1855.19,605.38 1855.19,643.52 1862.46,643.52 1862.46,681.9 1866.09,681.9 1866.09,720.28 2001.3,720.28 2001.3,758.42 2015.84,758.42 2015.84,796.8" fill="none" stroke="#9a2226" stroke-width="2.2" stroke-linejoin="round" stroke-linejoin="miter"/>
</svg>
</body></html>
